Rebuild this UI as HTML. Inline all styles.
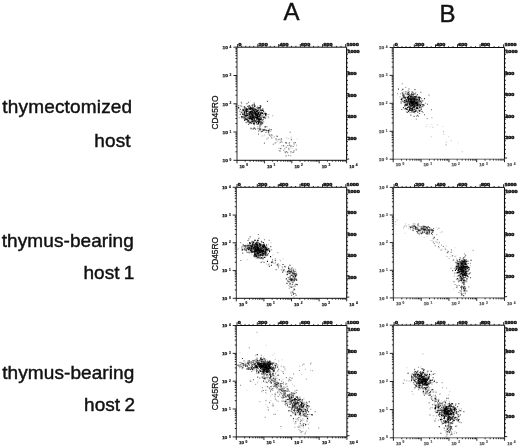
<!DOCTYPE html>
<html><head><meta charset="utf-8"><title>Figure</title>
<style>
html,body{margin:0;padding:0;background:#fff;}
body{width:520px;height:447px;position:relative;overflow:hidden;font-family:"Liberation Sans",sans-serif;color:#111;}
.lbl{position:absolute;white-space:nowrap;font-size:19px;line-height:19px;-webkit-text-stroke:0.45px #111;filter:blur(0.35px);}
.hd{position:absolute;white-space:nowrap;font-size:24px;line-height:24px;-webkit-text-stroke:0.4px #111;filter:blur(0.35px);}
svg text{font-family:"Liberation Sans",sans-serif;fill:#111;}
.tk{font-size:3.8px;font-weight:bold;fill:#222;stroke:#222;stroke-width:0.45px;}
.tb{fill:#555 !important;stroke:#555 !important;}
.lg{font-size:4px;stroke-width:0.25px;}
.sup{font-size:3.2px;stroke-width:0.2px;}
.yl{font-size:8.4px;stroke:#111;stroke-width:0.25px;}
</style></head><body>
<svg width="520" height="447" viewBox="0 0 520 447" style="position:absolute;left:0;top:0">
<defs><filter id="bl" x="-5%" y="-5%" width="110%" height="110%"><feGaussianBlur stdDeviation="0.55"/></filter></defs>
<g filter="url(#bl)">
<g id="A1">
<g>
<path d="M237 47.2H346.6" fill="none" stroke="#111" stroke-width="1"/>
<path d="M346.6 47.2V160.3" fill="none" stroke="#111" stroke-width="1.1"/>
<path d="M237 160.3H346.6" fill="none" stroke="#111" stroke-width="1"/>
<path d="M237 46.7V160.8" fill="none" stroke="#333" stroke-width="1.0"/>
<path d="M237.7 47.2v-3.2M241.7 47.2v-1.3M245.7 47.2v-1.3M249.7 47.2v-1.3M253.7 47.2v-1.3M257.8 47.2v-3.2M261.9 47.2v-1.3M266.1 47.2v-1.3M270.2 47.2v-1.3M274.4 47.2v-1.3M278.7 47.2v-3.2M282.9 47.2v-1.3M287.2 47.2v-1.3M291.5 47.2v-1.3M295.9 47.2v-1.3M300.3 47.2v-3.2M304.7 47.2v-1.3M309.1 47.2v-1.3M313.6 47.2v-1.3M318.1 47.2v-1.3M322.6 47.2v-3.2M327.2 47.2v-1.3M331.8 47.2v-1.3M336.4 47.2v-1.3M341.0 47.2v-1.3M345.7 47.2v-3.2M346.6 49.8h2.6M346.6 54.2h1.4M346.6 58.5h1.4M346.6 62.9h1.4M346.6 67.3h1.4M346.6 71.7h2.6M346.6 76.0h1.4M346.6 80.4h1.4M346.6 84.8h1.4M346.6 89.1h1.4M346.6 93.5h2.6M346.6 97.9h1.4M346.6 102.3h1.4M346.6 106.6h1.4M346.6 111.0h1.4M346.6 115.4h2.6M346.6 119.8h1.4M346.6 124.1h1.4M346.6 128.5h1.4M346.6 132.9h1.4M346.6 137.2h2.6M346.6 141.6h1.4M346.6 146.0h1.4M346.6 150.4h1.4M346.6 154.7h1.4M346.6 159.1h2.6M237 160.3h-3.6M237 151.8h-1.5M237 146.8h-1.5M237 143.3h-1.5M237 140.5h-1.5M237 138.3h-1.5M237 136.4h-1.5M237 134.8h-1.5M237 133.3h-1.5M237 132.0h-3.6M237 123.5h-1.5M237 118.5h-1.5M237 115.0h-1.5M237 112.3h-1.5M237 110.0h-1.5M237 108.1h-1.5M237 106.5h-1.5M237 105.0h-1.5M237 103.8h-3.6M237 95.2h-1.5M237 90.3h-1.5M237 86.7h-1.5M237 84.0h-1.5M237 81.7h-1.5M237 79.9h-1.5M237 78.2h-1.5M237 76.8h-1.5M237 75.5h-3.6M237 67.0h-1.5M237 62.0h-1.5M237 58.5h-1.5M237 55.7h-1.5M237 53.5h-1.5M237 51.6h-1.5M237 49.9h-1.5M237 48.5h-1.5M237 47.2h-3.6M237.0 160.3v3M245.2 160.3v1.4M250.1 160.3v1.4M253.5 160.3v1.4M256.2 160.3v1.4M258.3 160.3v1.4M260.2 160.3v1.4M261.7 160.3v1.4M263.1 160.3v1.4M264.4 160.3v3M272.6 160.3v1.4M277.5 160.3v1.4M280.9 160.3v1.4M283.6 160.3v1.4M285.7 160.3v1.4M287.6 160.3v1.4M289.1 160.3v1.4M290.5 160.3v1.4M291.8 160.3v3M300.0 160.3v1.4M304.9 160.3v1.4M308.3 160.3v1.4M311.0 160.3v1.4M313.1 160.3v1.4M315.0 160.3v1.4M316.5 160.3v1.4M317.9 160.3v1.4M319.2 160.3v3M327.4 160.3v1.4M332.3 160.3v1.4M335.7 160.3v1.4M338.4 160.3v1.4M340.5 160.3v1.4M342.4 160.3v1.4M343.9 160.3v1.4M345.3 160.3v1.4M346.6 160.3v3" fill="none" stroke="#111" stroke-width="0.9"/>
<text x="238.5" y="46.0" class="tk" textLength="3.0" lengthAdjust="spacingAndGlyphs">0</text><text x="258.6" y="46.0" class="tk" textLength="9.1" lengthAdjust="spacingAndGlyphs">200</text><text x="279.5" y="46.0" class="tk" textLength="9.1" lengthAdjust="spacingAndGlyphs">400</text><text x="301.1" y="46.0" class="tk" textLength="9.1" lengthAdjust="spacingAndGlyphs">600</text><text x="323.4" y="46.0" class="tk" textLength="9.1" lengthAdjust="spacingAndGlyphs">800</text><text x="346.5" y="46.0" class="tk" textLength="12.2" lengthAdjust="spacingAndGlyphs">1000</text><text x="347.4" y="52.8" class="tk" textLength="12.2" lengthAdjust="spacingAndGlyphs">1000</text><text x="347.4" y="74.7" class="tk" textLength="9.1" lengthAdjust="spacingAndGlyphs">800</text><text x="347.4" y="96.5" class="tk" textLength="9.1" lengthAdjust="spacingAndGlyphs">600</text><text x="347.4" y="118.4" class="tk" textLength="9.1" lengthAdjust="spacingAndGlyphs">400</text><text x="347.4" y="140.2" class="tk" textLength="9.1" lengthAdjust="spacingAndGlyphs">200</text><text x="222.6" y="162.2" class="tk lg" textLength="5.4" lengthAdjust="spacingAndGlyphs">10</text><text x="229.6" y="160.9" class="tk sup">0</text><text x="222.6" y="133.9" class="tk lg" textLength="5.4" lengthAdjust="spacingAndGlyphs">10</text><text x="229.6" y="132.6" class="tk sup">1</text><text x="222.6" y="105.7" class="tk lg" textLength="5.4" lengthAdjust="spacingAndGlyphs">10</text><text x="229.6" y="104.3" class="tk sup">2</text><text x="222.6" y="77.4" class="tk lg" textLength="5.4" lengthAdjust="spacingAndGlyphs">10</text><text x="229.6" y="76.1" class="tk sup">3</text><text x="222.6" y="49.1" class="tk lg" textLength="5.4" lengthAdjust="spacingAndGlyphs">10</text><text x="229.6" y="47.8" class="tk sup">4</text><text x="239.6" y="167.5" class="tk lg" textLength="5.0" lengthAdjust="spacingAndGlyphs">10</text><text x="246.2" y="165.9" class="tk sup">0</text><text x="267.0" y="167.5" class="tk lg" textLength="5.0" lengthAdjust="spacingAndGlyphs">10</text><text x="273.6" y="165.9" class="tk sup">1</text><text x="294.4" y="167.5" class="tk lg" textLength="5.0" lengthAdjust="spacingAndGlyphs">10</text><text x="301.0" y="165.9" class="tk sup">2</text><text x="321.8" y="167.5" class="tk lg" textLength="5.0" lengthAdjust="spacingAndGlyphs">10</text><text x="328.4" y="165.9" class="tk sup">3</text><text x="349.2" y="167.5" class="tk lg" textLength="5.0" lengthAdjust="spacingAndGlyphs">10</text><text x="355.8" y="165.9" class="tk sup">4</text>
<text transform="translate(217.9 112.6) rotate(-90)" text-anchor="middle" class="yl">CD45RO</text>
</g>
<path d="M279.0 139.1h1.1M264.0 134.8h1.1M260.9 131.0h1.1M280.7 140.8h1.1M282.0 142.1h1.1M260.0 127.1h1.1M277.1 141.5h1.1M265.2 126.8h1.1M263.6 135.2h1.1M295.9 150.4h1.1M279.0 142.9h1.1M286.3 137.9h1.1M287.8 155.3h1.1M290.0 148.0h1.1M291.4 148.7h1.1M290.9 137.0h1.1M290.5 138.3h1.1M287.9 138.5h1.1M286.2 147.5h1.1M296.8 139.0h1.1M281.2 139.6h1.1M279.4 150.8h1.1" stroke="#000" stroke-opacity="0.19" stroke-width="1.1" fill="none"/>
<path d="M263.0 130.5h1.1M268.5 129.7h1.1M265.3 130.0h1.1M265.5 130.6h1.1M261.8 129.3h1.1M250.6 129.5h1.1M261.7 129.7h1.1M253.0 129.4h1.1M257.9 128.7h1.1M264.0 130.3h1.1M255.1 128.8h1.1M267.7 131.0h1.1" stroke="#000" stroke-opacity="0.25" stroke-width="1.1" fill="none"/>
<path d="M276.3 135.7h1.1M263.5 130.6h1.1M265.5 126.6h1.1M276.7 136.4h1.1M275.4 142.8h1.1M270.2 136.4h1.1M262.2 129.7h1.1M270.2 131.2h1.1M273.6 136.9h1.1M282.9 145.9h1.1M280.5 148.2h1.1M280.8 141.2h1.1M275.1 139.1h1.1M278.7 150.7h1.1M267.7 132.3h1.1M268.9 135.0h1.1M290.2 155.6h1.1M268.3 133.9h1.1M281.2 145.7h1.1M270.8 134.7h1.1M279.5 139.8h1.1M266.3 139.1h1.1M258.5 123.9h1.1M258.4 130.0h1.1M290.2 152.7h1.1M285.8 143.5h1.1M275.7 138.9h1.1M261.6 136.0h1.1M288.2 155.5h1.1M259.9 130.2h1.1M275.8 139.9h1.1M267.5 137.9h1.1M296.0 145.3h1.1M266.5 126.7h1.1M293.5 144.9h1.1M290.9 146.0h1.1M291.8 152.5h1.1M278.5 148.3h1.1M283.0 150.4h1.1M289.1 142.5h1.1" stroke="#000" stroke-opacity="0.34" stroke-width="1.1" fill="none"/>
<path d="M256.0 112.8h1.1M241.7 112.2h1.1M249.2 122.4h1.1M255.1 122.2h1.1M264.2 112.1h1.1M243.7 112.1h1.1M245.4 120.7h1.1M257.0 110.6h1.1M241.4 106.8h1.1M268.1 117.6h1.1M252.7 117.2h1.1M251.4 111.2h1.1M262.8 109.1h1.1M263.2 129.9h1.1M251.9 117.3h1.1M256.0 115.9h1.1M261.9 123.2h1.1M257.8 113.1h1.1M248.9 121.0h1.1M252.9 116.5h1.1M268.2 114.5h1.1M250.2 117.6h1.1M247.6 113.9h1.1M243.8 117.5h1.1M249.5 109.3h1.1M254.3 117.0h1.1M250.3 113.0h1.1M255.3 109.3h1.1M257.0 106.2h1.1M245.2 116.1h1.1M253.4 121.0h1.1M257.5 114.5h1.1M252.8 109.9h1.1M255.7 114.7h1.1M255.2 116.2h1.1M251.5 111.7h1.1M243.2 118.8h1.1M243.0 115.2h1.1M258.3 115.7h1.1M260.6 116.7h1.1M248.7 118.0h1.1M257.1 112.4h1.1M252.7 123.5h1.1M261.3 116.7h1.1M241.1 103.6h1.1M248.0 116.0h1.1M259.5 121.9h1.1M251.3 105.7h1.1M254.5 112.1h1.1M253.5 119.7h1.1M253.0 113.8h1.1M253.9 115.7h1.1M251.0 121.6h1.1M249.8 114.0h1.1M255.2 108.8h1.1M249.4 111.6h1.1M250.2 116.7h1.1M241.6 111.7h1.1M253.7 122.9h1.1M249.9 113.0h1.1M250.5 114.3h1.1M259.3 109.1h1.1M241.6 112.5h1.1M258.3 108.0h1.1M246.0 113.4h1.1M259.1 120.9h1.1M253.1 110.5h1.1M247.0 111.7h1.1M265.4 117.0h1.1M264.4 114.1h1.1M249.3 116.7h1.1M252.2 120.2h1.1M255.0 113.1h1.1M262.5 116.6h1.1M245.1 111.5h1.1M243.4 117.9h1.1M262.2 108.5h1.1M272.2 115.8h1.1M249.3 109.9h1.1M255.3 116.6h1.1M257.5 115.0h1.1M254.8 114.5h1.1M251.6 113.7h1.1M243.8 113.4h1.1M265.1 113.1h1.1M244.0 113.8h1.1M249.0 113.3h1.1M245.9 110.2h1.1M266.4 114.7h1.1M238.2 108.5h1.1M253.8 106.0h1.1M250.1 122.4h1.1M248.1 113.8h1.1M249.6 113.4h1.1M238.7 117.5h1.1M257.2 126.7h1.1M254.1 113.2h1.1M261.0 110.1h1.1M259.4 115.9h1.1M252.1 122.2h1.1M252.5 110.5h1.1M252.9 112.9h1.1M258.5 112.3h1.1M247.8 110.3h1.1M243.2 112.6h1.1M248.9 122.3h1.1M244.2 119.2h1.1M248.0 110.7h1.1M258.5 116.7h1.1M267.7 116.7h1.1M250.9 120.1h1.1M256.2 110.7h1.1M249.3 121.0h1.1M251.3 105.4h1.1M247.1 119.4h1.1M258.7 116.8h1.1M245.5 107.7h1.1M246.8 117.6h1.1M250.5 116.3h1.1M251.2 120.3h1.1M247.7 105.8h1.1M258.8 115.7h1.1M262.4 115.9h1.1M263.2 122.0h1.1M262.0 112.7h1.1M252.5 112.6h1.1M252.0 117.1h1.1M260.5 122.6h1.1M251.2 116.1h1.1M262.8 121.8h1.1M249.6 122.4h1.1M262.4 121.1h1.1M252.2 116.0h1.1M256.9 117.4h1.1M252.8 121.5h1.1M250.7 112.9h1.1M251.7 121.0h1.1M241.6 111.1h1.1M245.5 111.9h1.1M243.9 106.9h1.1M248.3 112.9h1.1M243.6 118.2h1.1M256.6 124.4h1.1M260.2 121.7h1.1M247.7 115.2h1.1M254.2 115.5h1.1M247.1 111.6h1.1M259.1 118.1h1.1M243.8 115.5h1.1M259.2 117.5h1.1M248.2 123.3h1.1M250.2 114.3h1.1M256.1 111.2h1.1M241.0 112.4h1.1M254.3 122.3h1.1M262.3 115.3h1.1M253.0 113.4h1.1M250.8 109.1h1.1M248.9 123.1h1.1M257.8 118.2h1.1M252.0 112.6h1.1M246.1 108.5h1.1M252.6 113.0h1.1M262.4 112.8h1.1M257.2 117.6h1.1M249.8 108.6h1.1M243.4 117.4h1.1M248.5 121.7h1.1M253.9 115.9h1.1M253.2 110.0h1.1M251.8 115.0h1.1M248.5 116.5h1.1M258.1 117.9h1.1M253.4 114.7h1.1M255.4 111.3h1.1M251.1 111.5h1.1M252.2 108.2h1.1M257.0 112.8h1.1M256.4 119.3h1.1M249.0 114.9h1.1M256.6 114.3h1.1M254.4 112.7h1.1M252.9 114.1h1.1M257.3 116.6h1.1M253.5 115.0h1.1M249.5 112.5h1.1M250.1 106.2h1.1M251.6 113.4h1.1M250.4 114.6h1.1M255.0 118.0h1.1M249.4 113.6h1.1M255.1 113.5h1.1M250.8 114.8h1.1M253.7 111.9h1.1M248.2 116.5h1.1M253.5 118.3h1.1M249.6 117.1h1.1M257.7 117.0h1.1M254.4 115.9h1.1M249.5 118.0h1.1M262.0 117.4h1.1M247.2 113.6h1.1M259.0 109.3h1.1M247.2 113.6h1.1M255.6 115.1h1.1M253.3 115.9h1.1M254.9 116.6h1.1M253.0 110.4h1.1M257.8 118.9h1.1M261.0 119.3h1.1M250.5 110.5h1.1M256.2 113.3h1.1M252.2 109.2h1.1M247.6 114.9h1.1" stroke="#000" stroke-opacity="0.36" stroke-width="1.1" fill="none"/>
<path d="M252.8 128.6h1.1M268.3 130.5h1.1M253.3 128.2h1.1M255.0 129.4h1.1M267.5 130.4h1.1M263.1 129.5h1.1M252.2 129.0h1.1M263.8 129.4h1.1M259.3 129.9h1.1M258.9 127.7h1.1M269.0 129.0h1.1M264.8 129.8h1.1" stroke="#000" stroke-opacity="0.44" stroke-width="1.1" fill="none"/>
<path d="M289.0 145.1h1.1M258.0 131.3h1.1M280.8 138.9h1.1M286.1 151.6h1.1M280.3 142.4h1.1M257.2 128.8h1.1M290.4 151.5h1.1M253.7 127.9h1.1M285.6 147.0h1.1M274.5 143.0h1.1M266.1 130.8h1.1M271.4 135.1h1.1M286.1 142.7h1.1M276.6 136.5h1.1M284.6 151.7h1.1M258.0 134.1h1.1M262.4 130.6h1.1M259.5 128.9h1.1M263.9 143.1h1.1M288.2 148.3h1.1M284.3 148.7h1.1M272.8 144.2h1.1M267.5 130.7h1.1M261.9 131.5h1.1M271.2 137.9h1.1M268.0 131.0h1.1M287.1 152.7h1.1M279.6 151.0h1.1M293.0 152.3h1.1M280.1 148.6h1.1M269.3 135.3h1.1M265.4 132.5h1.1M277.8 139.8h1.1M263.5 129.9h1.1M290.2 146.1h1.1M284.8 152.7h1.1M290.8 139.6h1.1M294.8 142.6h1.1M285.5 155.9h1.1M293.5 150.9h1.1M292.6 146.5h1.1M293.4 142.9h1.1M289.6 132.3h1.1M288.4 149.8h1.1M285.0 142.6h1.1M288.6 143.3h1.1M295.6 149.3h1.1M287.3 145.5h1.1M283.1 145.7h1.1" stroke="#000" stroke-opacity="0.53" stroke-width="1.1" fill="none"/>
<path d="M253.5 120.4h1.1M253.3 121.0h1.1M260.0 109.3h1.1M252.2 104.9h1.1M256.6 118.1h1.1M251.7 110.2h1.1M254.3 105.8h1.1M253.0 123.4h1.1M238.2 105.7h1.1M250.6 112.8h1.1M248.4 107.4h1.1M260.4 125.0h1.1M242.4 109.3h1.1M256.8 111.4h1.1M239.7 114.4h1.1M248.9 122.0h1.1M262.9 114.0h1.1M265.0 118.3h1.1M252.1 116.2h1.1M248.3 107.5h1.1M255.8 122.6h1.1M252.4 105.0h1.1M261.2 115.3h1.1M247.4 117.3h1.1M246.4 103.6h1.1M245.5 115.3h1.1M254.0 114.1h1.1M255.5 120.1h1.1M241.6 116.3h1.1M257.6 113.9h1.1M259.0 122.1h1.1M251.0 123.4h1.1M255.8 121.1h1.1M255.9 113.5h1.1M262.7 119.5h1.1M251.4 114.8h1.1M254.2 120.2h1.1M259.7 119.4h1.1M250.9 118.5h1.1M246.2 116.8h1.1M240.4 105.9h1.1M255.8 123.0h1.1M247.9 106.7h1.1M252.0 109.4h1.1M260.5 113.7h1.1M261.3 119.6h1.1M259.8 115.3h1.1M247.2 113.9h1.1M243.4 114.3h1.1M256.4 124.0h1.1M247.9 102.2h1.1M252.4 108.1h1.1M259.6 118.0h1.1M250.1 108.6h1.1M258.1 110.3h1.1M255.1 111.7h1.1M248.4 108.8h1.1M260.4 121.4h1.1M239.8 109.4h1.1M266.9 101.4h1.1M240.7 112.7h1.1M254.3 111.6h1.1M260.0 113.8h1.1M243.8 117.9h1.1M255.3 116.7h1.1M257.2 121.7h1.1M256.4 120.8h1.1M249.5 117.3h1.1M249.4 112.8h1.1M252.5 105.0h1.1M249.9 111.8h1.1M240.8 102.3h1.1M261.7 120.5h1.1M258.2 121.4h1.1M261.8 112.9h1.1M252.6 119.0h1.1M251.8 106.0h1.1M253.7 103.1h1.1M257.4 108.6h1.1M258.7 116.7h1.1M253.2 111.9h1.1M239.3 111.3h1.1M251.8 114.8h1.1M261.8 122.6h1.1M252.3 112.2h1.1M249.0 114.8h1.1M255.3 117.6h1.1M257.2 116.9h1.1M255.4 113.3h1.1M246.3 114.4h1.1M249.4 113.3h1.1M256.1 120.7h1.1M248.1 124.5h1.1M257.4 112.8h1.1M259.9 117.5h1.1M249.0 116.7h1.1M242.8 116.9h1.1M245.4 119.1h1.1M254.4 112.1h1.1M251.4 116.3h1.1M259.7 124.4h1.1M253.6 108.6h1.1M262.1 123.1h1.1M257.8 109.0h1.1M258.9 119.9h1.1M250.8 117.5h1.1M251.0 114.3h1.1M243.6 106.9h1.1M248.6 118.3h1.1M256.5 111.6h1.1M255.6 115.6h1.1M250.5 115.6h1.1M258.5 111.0h1.1M252.6 120.5h1.1M254.1 117.1h1.1M259.3 111.9h1.1M251.8 114.4h1.1M249.1 115.9h1.1M251.4 117.9h1.1M245.7 114.7h1.1M258.2 109.0h1.1M252.0 109.4h1.1M257.1 110.8h1.1M258.7 114.1h1.1M256.2 110.9h1.1M250.9 116.6h1.1M244.7 117.2h1.1M261.7 109.2h1.1M248.3 114.9h1.1M244.4 117.3h1.1M244.4 108.9h1.1M253.6 124.6h1.1M253.6 123.4h1.1M256.5 107.6h1.1M245.1 110.5h1.1M251.2 114.5h1.1M251.9 111.4h1.1M255.5 114.6h1.1M255.8 111.8h1.1M247.8 108.7h1.1M247.1 113.5h1.1M251.4 110.1h1.1M244.0 116.9h1.1M254.6 105.7h1.1M247.4 122.0h1.1M244.9 110.9h1.1M254.5 120.8h1.1M248.5 119.8h1.1M262.5 110.5h1.1M250.6 123.3h1.1M257.2 113.7h1.1M251.2 113.9h1.1M247.0 106.5h1.1M260.9 112.1h1.1M244.2 108.5h1.1M259.6 108.7h1.1M247.7 117.0h1.1M256.0 115.0h1.1M256.1 118.3h1.1M249.5 119.2h1.1M245.5 108.7h1.1M246.5 118.7h1.1M252.7 112.0h1.1M251.5 112.7h1.1M251.5 113.4h1.1M253.8 116.3h1.1M246.4 111.2h1.1M257.4 117.7h1.1M252.7 115.0h1.1M249.8 116.6h1.1M252.3 113.5h1.1M248.4 117.7h1.1M249.1 113.0h1.1M255.4 114.3h1.1M249.1 113.7h1.1M251.9 115.8h1.1M250.5 115.2h1.1M245.3 113.0h1.1M260.6 117.4h1.1M252.5 109.3h1.1M251.8 116.8h1.1M253.6 116.4h1.1M252.8 116.0h1.1M245.6 122.6h1.1M252.1 116.3h1.1M249.7 117.7h1.1M254.6 121.5h1.1M251.2 117.5h1.1M260.0 121.3h1.1M252.0 111.0h1.1M251.9 119.5h1.1M252.8 115.9h1.1M250.7 114.9h1.1" stroke="#000" stroke-opacity="0.64" stroke-width="1.1" fill="none"/>
<path d="M260.2 129.1h1.1M270.6 129.6h1.1M268.4 130.4h1.1M259.0 129.0h1.1M268.1 132.3h1.1M265.5 130.4h1.1M254.1 128.3h1.1M260.8 131.6h1.1M268.3 131.0h1.1" stroke="#000" stroke-opacity="0.69" stroke-width="1.1" fill="none"/>
<path d="M264.5 113.6h1.1M250.2 118.5h1.1M257.3 117.1h1.1M243.2 114.3h1.1M250.7 107.8h1.1M260.2 110.5h1.1M258.8 118.7h1.1M242.0 114.1h1.1M255.1 109.9h1.1M256.6 116.4h1.1M250.9 118.8h1.1M252.6 115.2h1.1M250.8 108.6h1.1M245.4 116.7h1.1M251.3 108.7h1.1M252.0 119.7h1.1M259.2 119.9h1.1M247.2 120.9h1.1M249.4 111.5h1.1M256.9 115.0h1.1M256.5 111.8h1.1M264.6 126.9h1.1M260.3 106.3h1.1M254.5 109.0h1.1M250.5 122.1h1.1M249.0 112.8h1.1M258.5 119.1h1.1M241.2 116.6h1.1M253.9 111.1h1.1M244.5 115.6h1.1M248.6 113.0h1.1M245.9 113.0h1.1M249.9 108.9h1.1M241.5 117.7h1.1M256.0 122.3h1.1M265.6 113.9h1.1M244.6 109.9h1.1M257.7 107.8h1.1M251.6 114.9h1.1M257.5 119.0h1.1M244.4 107.3h1.1M250.9 114.0h1.1M252.2 112.2h1.1M251.9 121.2h1.1M258.0 123.7h1.1M259.7 105.9h1.1M252.4 107.9h1.1M244.1 114.3h1.1M252.2 116.2h1.1M259.7 112.8h1.1M255.8 109.7h1.1M262.9 111.3h1.1M250.0 111.8h1.1M257.5 124.0h1.1M249.5 122.9h1.1M238.1 107.6h1.1M255.5 115.5h1.1M249.2 114.6h1.1M248.3 113.0h1.1M247.3 111.5h1.1M258.4 120.1h1.1M248.8 118.3h1.1M252.6 109.8h1.1M252.4 107.3h1.1M264.3 117.0h1.1M253.8 123.3h1.1M254.8 112.6h1.1M253.8 104.9h1.1M256.8 117.4h1.1M258.5 122.2h1.1M256.5 111.6h1.1M260.4 118.8h1.1M256.2 119.1h1.1M242.6 110.4h1.1M248.7 108.7h1.1M250.5 128.3h1.1M259.9 114.1h1.1M262.0 113.5h1.1M255.2 114.4h1.1M248.4 118.5h1.1M245.9 111.8h1.1M253.2 113.3h1.1M250.8 113.7h1.1M259.3 126.0h1.1M252.6 121.9h1.1M256.8 114.0h1.1M257.1 110.4h1.1M255.4 117.6h1.1M246.8 119.3h1.1M257.8 119.6h1.1M244.4 110.2h1.1M260.4 113.6h1.1M253.9 119.1h1.1M251.7 111.8h1.1M249.2 118.4h1.1M254.6 121.3h1.1M245.5 119.7h1.1M249.5 109.4h1.1M252.4 115.1h1.1M254.3 120.8h1.1M249.7 108.4h1.1M251.1 111.2h1.1M252.7 117.6h1.1M249.8 107.2h1.1M258.6 121.8h1.1M261.2 124.0h1.1M265.1 114.5h1.1M256.6 114.8h1.1M253.1 110.4h1.1M242.6 109.6h1.1M257.4 115.8h1.1M254.5 113.3h1.1M257.1 118.2h1.1M265.1 113.6h1.1M244.1 112.9h1.1M246.2 108.8h1.1M244.1 111.8h1.1M262.0 110.4h1.1M257.5 118.1h1.1M259.7 107.6h1.1M254.0 111.1h1.1M256.4 117.4h1.1M252.5 116.5h1.1M250.8 119.6h1.1M257.2 121.4h1.1M245.9 109.4h1.1M247.3 109.2h1.1M248.8 105.9h1.1M260.8 118.9h1.1M253.3 123.8h1.1M255.4 113.1h1.1M260.0 119.4h1.1M244.9 118.7h1.1M258.4 120.6h1.1M246.8 115.5h1.1M259.1 115.0h1.1M245.3 115.4h1.1M246.8 110.0h1.1M260.6 122.3h1.1M263.1 117.4h1.1M257.9 122.6h1.1M252.1 119.3h1.1M261.3 112.7h1.1M265.3 115.5h1.1M263.5 117.9h1.1M251.9 121.3h1.1M260.2 123.3h1.1M258.8 107.7h1.1M261.4 110.2h1.1M254.2 106.6h1.1M246.2 119.4h1.1M244.0 120.1h1.1M255.2 115.1h1.1M250.3 117.1h1.1M255.4 114.7h1.1M254.9 113.6h1.1M256.6 118.3h1.1M252.3 112.3h1.1M247.7 120.5h1.1M251.9 117.6h1.1M257.8 114.1h1.1M250.2 112.9h1.1M258.1 113.6h1.1M249.9 112.9h1.1M258.6 116.4h1.1M250.1 116.3h1.1M251.5 108.9h1.1M255.0 114.8h1.1M254.3 109.8h1.1M258.1 112.4h1.1M251.7 114.6h1.1M252.8 117.1h1.1M255.7 111.2h1.1M256.3 119.0h1.1M255.0 117.3h1.1M251.5 118.3h1.1M252.1 115.7h1.1M253.1 118.1h1.1M252.0 116.0h1.1M246.1 115.2h1.1M251.7 121.3h1.1M253.9 118.8h1.1M247.1 115.2h1.1M246.0 110.7h1.1M256.8 117.0h1.1M259.4 115.9h1.1M255.7 115.5h1.1M256.3 115.7h1.1M252.2 112.4h1.1M247.6 121.6h1.1M243.0 110.7h1.1M254.2 112.7h1.1M257.5 113.7h1.1M250.3 112.4h1.1M254.2 117.2h1.1M253.9 113.3h1.1" stroke="#000" stroke-opacity="1" stroke-width="1.1" fill="none"/>
</g>
<g id="B1">
<g>
<path d="M393.2 47.5H504.5" fill="none" stroke="#111" stroke-width="1"/>
<path d="M504.5 47.5V159.2" fill="none" stroke="#111" stroke-width="1.1"/>
<path d="M393.2 159.2H504.5" fill="none" stroke="#444" stroke-width="0.8"/>
<path d="M393.2 47.0V159.7" fill="none" stroke="#555" stroke-width="1.3"/>
<path d="M393.9 47.5v-3.2M397.9 47.5v-1.3M402.0 47.5v-1.3M406.1 47.5v-1.3M410.2 47.5v-1.3M414.3 47.5v-3.2M418.5 47.5v-1.3M422.7 47.5v-1.3M426.9 47.5v-1.3M431.2 47.5v-1.3M435.5 47.5v-3.2M439.8 47.5v-1.3M444.2 47.5v-1.3M448.6 47.5v-1.3M453.0 47.5v-1.3M457.5 47.5v-3.2M461.9 47.5v-1.3M466.4 47.5v-1.3M471.0 47.5v-1.3M475.5 47.5v-1.3M480.1 47.5v-3.2M484.8 47.5v-1.3M489.4 47.5v-1.3M494.1 47.5v-1.3M498.8 47.5v-1.3M503.6 47.5v-3.2M504.5 50.1h2.6M504.5 54.4h1.4M504.5 58.7h1.4M504.5 63.0h1.4M504.5 67.4h1.4M504.5 71.7h2.6M504.5 76.0h1.4M504.5 80.3h1.4M504.5 84.6h1.4M504.5 88.9h1.4M504.5 93.3h2.6M504.5 97.6h1.4M504.5 101.9h1.4M504.5 106.2h1.4M504.5 110.5h1.4M504.5 114.8h2.6M504.5 119.2h1.4M504.5 123.5h1.4M504.5 127.8h1.4M504.5 132.1h1.4M504.5 136.4h2.6M504.5 140.7h1.4M504.5 145.1h1.4M504.5 149.4h1.4M504.5 153.7h1.4M504.5 158.0h2.6M393.2 159.2h-3.6M393.2 150.8h-1.5M393.2 145.9h-1.5M393.2 142.4h-1.5M393.2 139.7h-1.5M393.2 137.5h-1.5M393.2 135.6h-1.5M393.2 134.0h-1.5M393.2 132.6h-1.5M393.2 131.3h-3.6M393.2 122.9h-1.5M393.2 118.0h-1.5M393.2 114.5h-1.5M393.2 111.8h-1.5M393.2 109.5h-1.5M393.2 107.7h-1.5M393.2 106.1h-1.5M393.2 104.6h-1.5M393.2 103.3h-3.6M393.2 94.9h-1.5M393.2 90.0h-1.5M393.2 86.5h-1.5M393.2 83.8h-1.5M393.2 81.6h-1.5M393.2 79.8h-1.5M393.2 78.1h-1.5M393.2 76.7h-1.5M393.2 75.4h-3.6M393.2 67.0h-1.5M393.2 62.1h-1.5M393.2 58.6h-1.5M393.2 55.9h-1.5M393.2 53.7h-1.5M393.2 51.8h-1.5M393.2 50.2h-1.5M393.2 48.8h-1.5M393.2 47.5h-3.6M393.2 159.2v3M401.6 159.2v1.4M406.5 159.2v1.4M410.0 159.2v1.4M412.6 159.2v1.4M414.9 159.2v1.4M416.7 159.2v1.4M418.3 159.2v1.4M419.8 159.2v1.4M421.0 159.2v3M429.4 159.2v1.4M434.3 159.2v1.4M437.8 159.2v1.4M440.5 159.2v1.4M442.7 159.2v1.4M444.5 159.2v1.4M446.2 159.2v1.4M447.6 159.2v1.4M448.9 159.2v3M457.2 159.2v1.4M462.1 159.2v1.4M465.6 159.2v1.4M468.3 159.2v1.4M470.5 159.2v1.4M472.4 159.2v1.4M474.0 159.2v1.4M475.4 159.2v1.4M476.7 159.2v3M485.1 159.2v1.4M490.0 159.2v1.4M493.4 159.2v1.4M496.1 159.2v1.4M498.3 159.2v1.4M500.2 159.2v1.4M501.8 159.2v1.4M503.2 159.2v1.4M504.5 159.2v3" fill="none" stroke="#111" stroke-width="0.9"/>
<text x="394.7" y="46.3" class="tk" textLength="3.0" lengthAdjust="spacingAndGlyphs">0</text><text x="415.1" y="46.3" class="tk" textLength="9.1" lengthAdjust="spacingAndGlyphs">200</text><text x="436.3" y="46.3" class="tk" textLength="9.1" lengthAdjust="spacingAndGlyphs">400</text><text x="458.3" y="46.3" class="tk" textLength="9.1" lengthAdjust="spacingAndGlyphs">600</text><text x="480.9" y="46.3" class="tk" textLength="9.1" lengthAdjust="spacingAndGlyphs">800</text><text x="504.4" y="46.3" class="tk" textLength="12.2" lengthAdjust="spacingAndGlyphs">1000</text><text x="505.3" y="53.1" class="tk" textLength="12.2" lengthAdjust="spacingAndGlyphs">1000</text><text x="505.3" y="74.7" class="tk" textLength="9.1" lengthAdjust="spacingAndGlyphs">800</text><text x="505.3" y="96.3" class="tk" textLength="9.1" lengthAdjust="spacingAndGlyphs">600</text><text x="505.3" y="117.8" class="tk" textLength="9.1" lengthAdjust="spacingAndGlyphs">400</text><text x="505.3" y="139.4" class="tk" textLength="9.1" lengthAdjust="spacingAndGlyphs">200</text><text x="378.8" y="161.1" class="tk tb lg" textLength="5.4" lengthAdjust="spacingAndGlyphs">10</text><text x="385.8" y="159.8" class="tk tb sup">0</text><text x="378.8" y="133.2" class="tk tb lg" textLength="5.4" lengthAdjust="spacingAndGlyphs">10</text><text x="385.8" y="131.9" class="tk tb sup">1</text><text x="378.8" y="105.2" class="tk tb lg" textLength="5.4" lengthAdjust="spacingAndGlyphs">10</text><text x="385.8" y="103.9" class="tk tb sup">2</text><text x="378.8" y="77.3" class="tk tb lg" textLength="5.4" lengthAdjust="spacingAndGlyphs">10</text><text x="385.8" y="76.0" class="tk tb sup">3</text><text x="378.8" y="49.4" class="tk tb lg" textLength="5.4" lengthAdjust="spacingAndGlyphs">10</text><text x="385.8" y="48.1" class="tk tb sup">4</text><text x="395.8" y="166.4" class="tk tb lg" textLength="5.0" lengthAdjust="spacingAndGlyphs">10</text><text x="402.4" y="164.8" class="tk tb sup">0</text><text x="423.6" y="166.4" class="tk tb lg" textLength="5.0" lengthAdjust="spacingAndGlyphs">10</text><text x="430.2" y="164.8" class="tk tb sup">1</text><text x="451.5" y="166.4" class="tk tb lg" textLength="5.0" lengthAdjust="spacingAndGlyphs">10</text><text x="458.1" y="164.8" class="tk tb sup">2</text><text x="479.3" y="166.4" class="tk tb lg" textLength="5.0" lengthAdjust="spacingAndGlyphs">10</text><text x="485.9" y="164.8" class="tk tb sup">3</text><text x="507.1" y="166.4" class="tk tb lg" textLength="5.0" lengthAdjust="spacingAndGlyphs">10</text><text x="513.7" y="164.8" class="tk tb sup">4</text>
</g>
<path d="M431.2 124.5h1.1M442.5 131.3h1.1M448.2 136.6h1.1M457.4 142.7h1.1M442.6 126.5h1.1M429.4 126.7h1.1M425.7 126.6h1.1M426.4 124.7h1.1" stroke="#000" stroke-opacity="0.14" stroke-width="1.1" fill="none"/>
<path d="M443.0 131.7h1.1M443.3 134.2h1.1M430.7 136.7h1.1M450.6 140.8h1.1M445.7 142.1h1.1M432.2 127.3h1.1M436.8 124.8h1.1M461.8 151.8h1.1" stroke="#000" stroke-opacity="0.24" stroke-width="1.1" fill="none"/>
<path d="M415.3 98.6h1.1M423.3 104.4h1.1M405.3 91.4h1.1M410.0 99.6h1.1M412.8 112.1h1.1M419.7 102.9h1.1M406.7 95.1h1.1M408.8 102.2h1.1M416.3 102.2h1.1M410.5 109.6h1.1M413.2 96.2h1.1M414.7 103.1h1.1M407.3 98.6h1.1M417.6 110.9h1.1M415.3 109.8h1.1M418.5 109.2h1.1M405.7 94.7h1.1M421.3 106.0h1.1M421.0 102.4h1.1M407.3 112.5h1.1M418.4 105.1h1.1M411.7 108.7h1.1M416.2 104.5h1.1M413.3 116.4h1.1" stroke="#000" stroke-opacity="0.25" stroke-width="1.1" fill="none"/>
<path d="M413.6 109.9h1.1M411.0 107.7h1.1M415.5 105.3h1.1M409.6 106.2h1.1M408.0 93.2h1.1M403.6 99.9h1.1M405.2 98.7h1.1M407.0 101.9h1.1M414.4 113.1h1.1M410.7 105.3h1.1M408.9 107.7h1.1M419.2 104.5h1.1M407.8 99.5h1.1M400.1 93.9h1.1M411.8 99.8h1.1M417.8 104.5h1.1M410.3 104.6h1.1M412.5 96.6h1.1M421.7 111.3h1.1M413.0 110.5h1.1M409.2 112.7h1.1M410.3 102.6h1.1M405.0 101.3h1.1M407.0 98.7h1.1M417.3 106.3h1.1M405.2 87.4h1.1M415.9 102.9h1.1M414.8 106.5h1.1M411.7 110.2h1.1M409.5 106.3h1.1M414.0 102.6h1.1M414.7 108.5h1.1M410.2 96.0h1.1M410.9 96.7h1.1M414.4 93.9h1.1M420.9 107.6h1.1M410.7 109.7h1.1M405.7 92.2h1.1M411.6 105.6h1.1M414.7 106.2h1.1M403.8 101.0h1.1M418.2 104.6h1.1M406.6 93.6h1.1M407.1 93.5h1.1M411.2 106.1h1.1M422.4 106.7h1.1M413.4 106.9h1.1M404.4 102.5h1.1M415.5 103.3h1.1M399.5 96.7h1.1M415.0 96.9h1.1M407.7 104.7h1.1M413.3 104.1h1.1M403.5 97.0h1.1M417.5 104.8h1.1M405.7 111.7h1.1M413.8 109.4h1.1M416.8 111.3h1.1M402.8 101.5h1.1M411.9 102.3h1.1M412.8 98.4h1.1M406.8 108.9h1.1M408.0 98.6h1.1M412.4 98.1h1.1M410.4 98.4h1.1M409.1 104.1h1.1M413.8 101.8h1.1M416.3 97.0h1.1M412.1 106.4h1.1M420.7 103.7h1.1M411.6 103.8h1.1M406.1 99.7h1.1M404.1 106.1h1.1M414.4 105.6h1.1M422.9 106.7h1.1M409.3 103.6h1.1M405.2 99.1h1.1M403.7 96.2h1.1M412.2 102.1h1.1M412.4 108.8h1.1M407.6 90.5h1.1M414.2 100.2h1.1M418.2 105.9h1.1M410.5 95.3h1.1M404.8 100.9h1.1M401.4 97.8h1.1M414.5 94.9h1.1M417.1 108.1h1.1M403.7 101.8h1.1M411.3 105.4h1.1M402.8 102.6h1.1M419.7 105.7h1.1M408.9 104.5h1.1M420.6 102.8h1.1M411.8 108.3h1.1M411.7 97.4h1.1M418.8 98.4h1.1M410.2 108.6h1.1M419.0 104.8h1.1M421.9 106.2h1.1M414.4 103.1h1.1M404.5 96.9h1.1M409.3 96.2h1.1M418.0 108.8h1.1M409.9 97.2h1.1M410.1 110.2h1.1M407.1 103.3h1.1M418.2 110.4h1.1M408.3 97.4h1.1M408.8 96.5h1.1M410.3 105.6h1.1M414.4 96.9h1.1M416.1 102.4h1.1M414.2 108.0h1.1M417.9 97.4h1.1M407.4 97.5h1.1M416.1 105.2h1.1M409.7 101.7h1.1M407.9 92.6h1.1M404.7 102.8h1.1M420.3 107.1h1.1M416.9 103.0h1.1M409.0 108.2h1.1M405.7 104.2h1.1M421.5 101.0h1.1" stroke="#000" stroke-opacity="0.35" stroke-width="1.1" fill="none"/>
<path d="M416.8 105.1h1.1M407.5 98.6h1.1M409.4 105.6h1.1M407.4 101.4h1.1M409.8 102.4h1.1M412.0 98.5h1.1M403.2 94.6h1.1M415.3 101.2h1.1M412.8 109.8h1.1M410.4 103.7h1.1M414.3 98.3h1.1M408.2 102.2h1.1M411.8 101.0h1.1M411.7 98.3h1.1M415.2 92.5h1.1M405.1 91.8h1.1M411.1 100.4h1.1M411.2 102.7h1.1M411.7 103.6h1.1M410.0 95.6h1.1M408.2 100.3h1.1M411.3 105.0h1.1M415.1 100.9h1.1M411.2 100.8h1.1M417.2 99.9h1.1M409.9 104.4h1.1M414.1 101.1h1.1M417.2 99.8h1.1M416.9 105.4h1.1M411.2 100.2h1.1M414.4 102.0h1.1M406.4 94.2h1.1M411.5 97.7h1.1" stroke="#000" stroke-opacity="0.36" stroke-width="1.1" fill="none"/>
<path d="M445.5 144.9h1.1M426.7 118.6h1.1M431.3 117.8h1.1" stroke="#000" stroke-opacity="0.38" stroke-width="1.1" fill="none"/>
<path d="M410.3 101.2h1.1M408.5 103.6h1.1M401.8 83.8h1.1M425.0 103.3h1.1M416.5 106.1h1.1M402.0 99.3h1.1M413.1 93.6h1.1M413.7 109.2h1.1M415.4 102.4h1.1M408.5 103.0h1.1M422.5 112.5h1.1M411.2 106.5h1.1M410.8 98.2h1.1M413.1 102.0h1.1M428.4 95.1h1.1M410.8 99.8h1.1M403.3 92.0h1.1M415.8 119.2h1.1M431.0 109.6h1.1M411.5 103.6h1.1M397.0 93.7h1.1M405.6 105.6h1.1M416.0 116.1h1.1M415.9 102.6h1.1M401.3 90.2h1.1M404.1 101.8h1.1M417.8 98.1h1.1M410.9 98.7h1.1M416.1 95.7h1.1M417.3 101.4h1.1M413.8 116.4h1.1M414.7 96.8h1.1" stroke="#000" stroke-opacity="0.44" stroke-width="1.1" fill="none"/>
<path d="M408.2 107.1h1.1M400.5 99.3h1.1M410.3 115.1h1.1M417.0 104.2h1.1M412.4 112.3h1.1M407.1 98.8h1.1M413.1 97.9h1.1M419.1 101.3h1.1M409.2 109.6h1.1M410.6 102.4h1.1M411.8 97.3h1.1M413.9 105.9h1.1M413.7 99.3h1.1M420.5 104.5h1.1M415.5 99.5h1.1M416.0 98.9h1.1M409.3 98.5h1.1M407.0 103.7h1.1M422.2 100.9h1.1M415.8 101.0h1.1M406.7 100.0h1.1M405.5 97.4h1.1M405.5 99.8h1.1M402.2 101.1h1.1M413.4 107.1h1.1M409.4 105.9h1.1M402.3 95.9h1.1M413.0 105.4h1.1M401.2 109.5h1.1M412.4 92.4h1.1M416.4 101.8h1.1M409.3 99.4h1.1M400.6 103.1h1.1M409.6 99.3h1.1M405.5 99.9h1.1M420.9 98.8h1.1M424.0 114.7h1.1M417.5 97.6h1.1M410.9 103.0h1.1M410.6 112.2h1.1M411.5 91.8h1.1M412.2 102.9h1.1M408.4 99.8h1.1M415.1 97.7h1.1M418.1 104.3h1.1M403.7 95.2h1.1M413.6 96.7h1.1M413.7 103.7h1.1M410.0 98.6h1.1M408.7 93.9h1.1M406.9 101.9h1.1M414.1 101.3h1.1M410.6 99.0h1.1M421.4 106.2h1.1M422.1 104.6h1.1M415.9 102.5h1.1M427.0 104.2h1.1M420.3 92.2h1.1M409.0 101.9h1.1M404.1 105.0h1.1M414.6 105.9h1.1M411.6 98.9h1.1M413.0 106.0h1.1M408.5 100.5h1.1M411.5 105.8h1.1M418.7 105.3h1.1M402.5 98.1h1.1M414.8 111.5h1.1M401.8 92.9h1.1M409.7 99.7h1.1M417.2 103.1h1.1M421.4 111.5h1.1M410.8 99.7h1.1M410.5 104.0h1.1M408.6 105.9h1.1M412.3 104.0h1.1M417.8 116.2h1.1M417.3 112.4h1.1M419.1 113.5h1.1M404.5 97.9h1.1M408.7 91.7h1.1M412.2 97.8h1.1M419.5 105.4h1.1M406.1 100.7h1.1M409.0 107.7h1.1M407.2 101.6h1.1M404.7 98.0h1.1M414.5 93.8h1.1M414.2 99.6h1.1M406.6 103.8h1.1M418.1 101.8h1.1M411.0 93.3h1.1M409.0 107.3h1.1M418.8 106.6h1.1M419.9 107.1h1.1M406.0 101.5h1.1M406.2 108.9h1.1M418.7 98.0h1.1M418.7 100.0h1.1M414.2 98.4h1.1M420.7 102.8h1.1M405.4 101.6h1.1M409.5 97.7h1.1M414.3 107.7h1.1M409.5 98.3h1.1M405.3 100.1h1.1M410.9 110.2h1.1M410.8 104.7h1.1M411.3 102.5h1.1M409.8 106.9h1.1M418.2 99.9h1.1M414.3 104.8h1.1M403.3 97.2h1.1M410.6 103.1h1.1M404.4 106.0h1.1M406.6 101.0h1.1M403.0 96.4h1.1M418.5 96.8h1.1M411.1 93.7h1.1M407.2 93.9h1.1M414.8 96.9h1.1M411.4 100.0h1.1M417.7 100.5h1.1M420.5 109.8h1.1M410.6 96.6h1.1" stroke="#000" stroke-opacity="0.62" stroke-width="1.1" fill="none"/>
<path d="M413.3 102.3h1.1M409.9 101.4h1.1M412.4 95.8h1.1M407.4 102.9h1.1M418.5 102.2h1.1M414.8 104.4h1.1M410.5 99.5h1.1M409.4 107.1h1.1M417.8 103.3h1.1M415.8 108.2h1.1M416.8 105.0h1.1M410.7 100.7h1.1M408.8 101.3h1.1M413.8 101.7h1.1M410.5 104.6h1.1M412.7 103.2h1.1M406.5 103.7h1.1M405.6 105.4h1.1M417.4 108.0h1.1M412.8 104.7h1.1M414.9 98.3h1.1M409.9 101.6h1.1M411.1 94.9h1.1M414.2 104.3h1.1M412.0 96.8h1.1M414.4 99.0h1.1M415.4 106.4h1.1M415.8 103.3h1.1M413.7 99.1h1.1M415.2 103.0h1.1M412.5 98.8h1.1M412.4 97.9h1.1M408.0 101.6h1.1" stroke="#000" stroke-opacity="0.64" stroke-width="1.1" fill="none"/>
<path d="M417.0 115.2h1.1M404.4 98.3h1.1M409.6 96.5h1.1M406.2 101.8h1.1M411.8 102.6h1.1M406.9 97.1h1.1M408.9 98.5h1.1M413.2 101.6h1.1M414.4 89.6h1.1M408.2 94.7h1.1M408.4 89.0h1.1M400.5 101.8h1.1M405.2 97.9h1.1M416.8 94.6h1.1M418.7 100.9h1.1M404.8 93.8h1.1M412.6 107.8h1.1M415.8 105.5h1.1M420.3 101.0h1.1M410.6 94.6h1.1M401.2 98.5h1.1M415.0 102.6h1.1M404.3 97.9h1.1M397.9 89.1h1.1" stroke="#000" stroke-opacity="0.69" stroke-width="1.1" fill="none"/>
<path d="M411.4 103.2h1.1M402.9 107.8h1.1M408.0 99.2h1.1M407.0 97.6h1.1M408.8 103.5h1.1M404.5 109.0h1.1M422.5 104.7h1.1M412.5 107.3h1.1M407.7 94.5h1.1M414.8 103.3h1.1M418.9 107.8h1.1M410.7 96.2h1.1M410.3 100.7h1.1M411.5 111.1h1.1M418.8 99.0h1.1M417.4 105.8h1.1M411.3 103.1h1.1M405.2 104.9h1.1M407.8 107.0h1.1M410.7 101.3h1.1M419.9 105.5h1.1M416.7 102.2h1.1M412.4 104.1h1.1M419.1 111.1h1.1M416.8 107.9h1.1M413.7 106.7h1.1M423.9 98.8h1.1M410.2 108.1h1.1M412.1 108.2h1.1M409.9 96.7h1.1M418.8 99.7h1.1M408.9 109.4h1.1M406.9 107.5h1.1M412.5 102.4h1.1M406.5 105.3h1.1M410.3 110.5h1.1M418.6 97.3h1.1M414.7 101.3h1.1M412.9 101.5h1.1M409.2 109.6h1.1M408.2 97.8h1.1M405.9 100.0h1.1M402.3 89.2h1.1M414.2 109.8h1.1M406.9 104.9h1.1M416.9 102.1h1.1M406.7 112.2h1.1M413.8 101.6h1.1M413.8 99.2h1.1M403.5 97.1h1.1M408.6 110.5h1.1M423.4 105.2h1.1M408.8 99.0h1.1M413.3 100.6h1.1M409.0 95.3h1.1M407.1 109.7h1.1M412.0 103.1h1.1M416.2 107.5h1.1M409.5 98.7h1.1M414.5 96.6h1.1M417.0 104.4h1.1M416.5 104.9h1.1M417.0 108.3h1.1M416.0 108.3h1.1M416.4 103.3h1.1M415.4 110.5h1.1M413.9 111.9h1.1M405.6 104.3h1.1M415.4 110.3h1.1M407.9 100.2h1.1M413.5 102.0h1.1M404.3 102.6h1.1M419.2 104.0h1.1M410.8 108.7h1.1M402.3 93.8h1.1M413.8 98.9h1.1M410.1 106.0h1.1M410.4 101.9h1.1M407.6 92.4h1.1M400.9 99.6h1.1M413.3 111.8h1.1M416.9 99.3h1.1M413.4 100.3h1.1M413.2 98.5h1.1M408.1 111.4h1.1M414.1 105.0h1.1M419.6 97.7h1.1M407.9 96.4h1.1M409.4 108.5h1.1M408.4 101.0h1.1M411.7 109.1h1.1M419.2 110.8h1.1M413.7 106.1h1.1M420.2 101.3h1.1M416.2 100.3h1.1M413.1 104.0h1.1M413.6 107.1h1.1M412.8 94.7h1.1M416.7 105.6h1.1M411.9 110.0h1.1M414.3 99.9h1.1M410.9 105.8h1.1M412.6 99.3h1.1M402.6 95.1h1.1M411.2 101.0h1.1M415.8 102.9h1.1M415.6 103.6h1.1M412.1 109.6h1.1M405.9 109.1h1.1M405.5 104.5h1.1M415.2 111.4h1.1M405.1 104.3h1.1M416.6 108.8h1.1M419.5 97.5h1.1M416.1 96.9h1.1M411.3 101.4h1.1M405.1 108.3h1.1M420.7 109.0h1.1M413.7 97.0h1.1M413.2 106.9h1.1M412.0 101.8h1.1M412.1 94.3h1.1M419.3 110.6h1.1" stroke="#000" stroke-opacity="0.98" stroke-width="1.1" fill="none"/>
<path d="M407.9 98.2h1.1M411.4 100.6h1.1M410.0 99.9h1.1M409.9 102.8h1.1M412.7 102.9h1.1M414.1 103.1h1.1M406.0 101.8h1.1M410.5 97.7h1.1M409.0 104.5h1.1M410.3 99.0h1.1M413.3 104.8h1.1M404.2 100.6h1.1M415.7 104.0h1.1M411.8 101.5h1.1M410.8 102.0h1.1M415.8 103.0h1.1M410.3 101.8h1.1M410.4 103.2h1.1M409.4 102.6h1.1M411.1 103.1h1.1M411.5 99.5h1.1M416.3 103.2h1.1M412.1 104.0h1.1M411.9 105.4h1.1M413.6 100.7h1.1M415.5 99.6h1.1" stroke="#000" stroke-opacity="1" stroke-width="1.1" fill="none"/>
</g>
<g id="A2">
<g>
<path d="M236.3 187.3H346.7" fill="none" stroke="#111" stroke-width="1"/>
<path d="M346.7 187.3V298.3" fill="none" stroke="#111" stroke-width="1.1"/>
<path d="M236.3 298.3H346.7" fill="none" stroke="#111" stroke-width="1"/>
<path d="M236.3 186.8V298.8" fill="none" stroke="#333" stroke-width="1.0"/>
<path d="M237.0 187.3v-3.2M241.0 187.3v-1.3M245.0 187.3v-1.3M249.1 187.3v-1.3M253.1 187.3v-1.3M257.3 187.3v-3.2M261.4 187.3v-1.3M265.6 187.3v-1.3M269.8 187.3v-1.3M274.0 187.3v-1.3M278.3 187.3v-3.2M282.6 187.3v-1.3M286.9 187.3v-1.3M291.2 187.3v-1.3M295.6 187.3v-1.3M300.0 187.3v-3.2M304.5 187.3v-1.3M308.9 187.3v-1.3M313.4 187.3v-1.3M318.0 187.3v-1.3M322.5 187.3v-3.2M327.1 187.3v-1.3M331.8 187.3v-1.3M336.4 187.3v-1.3M341.1 187.3v-1.3M345.8 187.3v-3.2M346.7 189.9h2.6M346.7 194.2h1.4M346.7 198.5h1.4M346.7 202.8h1.4M346.7 207.1h1.4M346.7 211.3h2.6M346.7 215.6h1.4M346.7 219.9h1.4M346.7 224.2h1.4M346.7 228.5h1.4M346.7 232.8h2.6M346.7 237.1h1.4M346.7 241.4h1.4M346.7 245.6h1.4M346.7 249.9h1.4M346.7 254.2h2.6M346.7 258.5h1.4M346.7 262.8h1.4M346.7 267.1h1.4M346.7 271.4h1.4M346.7 275.7h2.6M346.7 279.9h1.4M346.7 284.2h1.4M346.7 288.5h1.4M346.7 292.8h1.4M346.7 297.1h2.6M236.3 298.3h-3.6M236.3 289.9h-1.5M236.3 285.1h-1.5M236.3 281.6h-1.5M236.3 278.9h-1.5M236.3 276.7h-1.5M236.3 274.8h-1.5M236.3 273.2h-1.5M236.3 271.8h-1.5M236.3 270.6h-3.6M236.3 262.2h-1.5M236.3 257.3h-1.5M236.3 253.8h-1.5M236.3 251.2h-1.5M236.3 249.0h-1.5M236.3 247.1h-1.5M236.3 245.5h-1.5M236.3 244.1h-1.5M236.3 242.8h-3.6M236.3 234.4h-1.5M236.3 229.6h-1.5M236.3 226.1h-1.5M236.3 223.4h-1.5M236.3 221.2h-1.5M236.3 219.3h-1.5M236.3 217.7h-1.5M236.3 216.3h-1.5M236.3 215.1h-3.6M236.3 206.7h-1.5M236.3 201.8h-1.5M236.3 198.3h-1.5M236.3 195.7h-1.5M236.3 193.5h-1.5M236.3 191.6h-1.5M236.3 190.0h-1.5M236.3 188.6h-1.5M236.3 187.3h-3.6M236.3 298.3v3M244.6 298.3v1.4M249.5 298.3v1.4M252.9 298.3v1.4M255.6 298.3v1.4M257.8 298.3v1.4M259.6 298.3v1.4M261.2 298.3v1.4M262.6 298.3v1.4M263.9 298.3v3M272.2 298.3v1.4M277.1 298.3v1.4M280.5 298.3v1.4M283.2 298.3v1.4M285.4 298.3v1.4M287.2 298.3v1.4M288.8 298.3v1.4M290.2 298.3v1.4M291.5 298.3v3M299.8 298.3v1.4M304.7 298.3v1.4M308.1 298.3v1.4M310.8 298.3v1.4M313.0 298.3v1.4M314.8 298.3v1.4M316.4 298.3v1.4M317.8 298.3v1.4M319.1 298.3v3M327.4 298.3v1.4M332.3 298.3v1.4M335.7 298.3v1.4M338.4 298.3v1.4M340.6 298.3v1.4M342.4 298.3v1.4M344.0 298.3v1.4M345.4 298.3v1.4M346.7 298.3v3" fill="none" stroke="#111" stroke-width="0.9"/>
<text x="237.8" y="186.1" class="tk" textLength="3.0" lengthAdjust="spacingAndGlyphs">0</text><text x="258.1" y="186.1" class="tk" textLength="9.1" lengthAdjust="spacingAndGlyphs">200</text><text x="279.1" y="186.1" class="tk" textLength="9.1" lengthAdjust="spacingAndGlyphs">400</text><text x="300.8" y="186.1" class="tk" textLength="9.1" lengthAdjust="spacingAndGlyphs">600</text><text x="323.3" y="186.1" class="tk" textLength="9.1" lengthAdjust="spacingAndGlyphs">800</text><text x="346.6" y="186.1" class="tk" textLength="12.2" lengthAdjust="spacingAndGlyphs">1000</text><text x="347.5" y="192.9" class="tk" textLength="12.2" lengthAdjust="spacingAndGlyphs">1000</text><text x="347.5" y="214.3" class="tk" textLength="9.1" lengthAdjust="spacingAndGlyphs">800</text><text x="347.5" y="235.8" class="tk" textLength="9.1" lengthAdjust="spacingAndGlyphs">600</text><text x="347.5" y="257.2" class="tk" textLength="9.1" lengthAdjust="spacingAndGlyphs">400</text><text x="347.5" y="278.7" class="tk" textLength="9.1" lengthAdjust="spacingAndGlyphs">200</text><text x="221.9" y="300.2" class="tk lg" textLength="5.4" lengthAdjust="spacingAndGlyphs">10</text><text x="228.9" y="298.9" class="tk sup">0</text><text x="221.9" y="272.4" class="tk lg" textLength="5.4" lengthAdjust="spacingAndGlyphs">10</text><text x="228.9" y="271.2" class="tk sup">1</text><text x="221.9" y="244.7" class="tk lg" textLength="5.4" lengthAdjust="spacingAndGlyphs">10</text><text x="228.9" y="243.4" class="tk sup">2</text><text x="221.9" y="217.0" class="tk lg" textLength="5.4" lengthAdjust="spacingAndGlyphs">10</text><text x="228.9" y="215.7" class="tk sup">3</text><text x="221.9" y="189.2" class="tk lg" textLength="5.4" lengthAdjust="spacingAndGlyphs">10</text><text x="228.9" y="187.9" class="tk sup">4</text><text x="238.9" y="305.5" class="tk lg" textLength="5.0" lengthAdjust="spacingAndGlyphs">10</text><text x="245.5" y="303.9" class="tk sup">0</text><text x="266.5" y="305.5" class="tk lg" textLength="5.0" lengthAdjust="spacingAndGlyphs">10</text><text x="273.1" y="303.9" class="tk sup">1</text><text x="294.1" y="305.5" class="tk lg" textLength="5.0" lengthAdjust="spacingAndGlyphs">10</text><text x="300.7" y="303.9" class="tk sup">2</text><text x="321.7" y="305.5" class="tk lg" textLength="5.0" lengthAdjust="spacingAndGlyphs">10</text><text x="328.3" y="303.9" class="tk sup">3</text><text x="349.3" y="305.5" class="tk lg" textLength="5.0" lengthAdjust="spacingAndGlyphs">10</text><text x="355.9" y="303.9" class="tk sup">4</text>
<text transform="translate(217.9 253.9) rotate(-90)" text-anchor="middle" class="yl">CD45RO</text>
</g>
<path d="M260.5 255.1h1.1M264.0 253.5h1.1M255.0 253.6h1.1M255.9 243.8h1.1M270.6 242.6h1.1M265.9 263.9h1.1M267.9 244.4h1.1M261.9 261.5h1.1M279.1 259.8h1.1M254.5 247.0h1.1M266.7 251.9h1.1M261.7 255.2h1.1M257.2 241.9h1.1M249.2 244.6h1.1M254.4 245.8h1.1M254.1 250.1h1.1M261.3 251.2h1.1M272.4 254.9h1.1M265.8 249.2h1.1M253.5 244.1h1.1M267.5 265.6h1.1M270.8 262.1h1.1M246.9 259.7h1.1M244.1 249.3h1.1M255.3 254.8h1.1M251.6 251.1h1.1M282.6 258.8h1.1" stroke="#000" stroke-opacity="0.19" stroke-width="1.1" fill="none"/>
<path d="M241.0 248.9h1.1M243.9 248.2h1.1M246.0 249.2h1.1M252.4 247.5h1.1M238.1 248.3h1.1M248.8 250.9h1.1M240.9 247.6h1.1M244.7 248.8h1.1M242.6 246.0h1.1M242.9 246.6h1.1M249.4 249.0h1.1M242.4 247.0h1.1M248.8 247.4h1.1M243.8 248.5h1.1M243.8 246.6h1.1M250.5 252.0h1.1M243.9 246.0h1.1M255.2 245.9h1.1M253.3 248.4h1.1M255.8 246.4h1.1M241.8 246.9h1.1M241.6 249.9h1.1M254.6 248.0h1.1" stroke="#000" stroke-opacity="0.23" stroke-width="1.1" fill="none"/>
<path d="M280.0 260.6h1.1M280.7 269.6h1.1M281.5 270.5h1.1M281.6 269.9h1.1M269.4 264.0h1.1M284.8 271.8h1.1M284.2 269.8h1.1M285.0 266.8h1.1M279.2 265.3h1.1M272.7 263.1h1.1M282.2 268.1h1.1M274.3 263.6h1.1M288.0 279.7h1.1M293.7 289.2h1.1M292.5 282.8h1.1M288.3 285.5h1.1M295.2 294.9h1.1M289.0 284.5h1.1M293.9 285.0h1.1M291.4 284.7h1.1M289.6 286.5h1.1M293.5 288.2h1.1" stroke="#000" stroke-opacity="0.25" stroke-width="1.1" fill="none"/>
<path d="M293.3 280.9h1.1M289.8 277.3h1.1M291.7 278.6h1.1M288.8 277.7h1.1M292.9 286.5h1.1M293.8 273.9h1.1M292.1 275.2h1.1M286.7 280.2h1.1M293.8 278.7h1.1M288.5 277.8h1.1M291.5 278.3h1.1M295.0 269.2h1.1M293.1 269.1h1.1M293.5 278.8h1.1M290.9 274.3h1.1M290.8 279.5h1.1M293.4 273.6h1.1M295.7 272.2h1.1M292.3 277.0h1.1M295.5 274.2h1.1M289.5 272.5h1.1M293.8 278.2h1.1M290.9 280.9h1.1M291.8 275.0h1.1M288.0 271.2h1.1M294.6 274.4h1.1M291.1 272.5h1.1M292.1 272.4h1.1M287.7 272.1h1.1M292.8 278.0h1.1M289.8 281.0h1.1M288.4 278.8h1.1M292.5 275.2h1.1M288.9 281.8h1.1M290.2 269.6h1.1M291.6 282.2h1.1M291.0 280.8h1.1M291.0 270.6h1.1M294.7 279.2h1.1M293.1 273.4h1.1M289.2 281.0h1.1" stroke="#000" stroke-opacity="0.32" stroke-width="1.1" fill="none"/>
<path d="M256.2 258.1h1.1M248.9 243.0h1.1M266.8 250.6h1.1M266.2 246.4h1.1M261.9 245.7h1.1M244.6 250.4h1.1M262.6 252.4h1.1M256.0 255.9h1.1M271.1 249.5h1.1M254.5 257.6h1.1M272.0 259.4h1.1M266.1 247.7h1.1M262.7 258.4h1.1M257.2 258.1h1.1M263.0 250.3h1.1M253.8 249.8h1.1M266.2 254.5h1.1M257.4 256.3h1.1M251.3 254.0h1.1" stroke="#000" stroke-opacity="0.34" stroke-width="1.1" fill="none"/>
<path d="M247.1 244.0h1.1M258.9 246.0h1.1M251.4 248.7h1.1M249.8 248.6h1.1M252.6 251.7h1.1M247.7 245.5h1.1M255.8 252.2h1.1M266.5 249.3h1.1M263.1 250.9h1.1M258.8 244.3h1.1M251.8 249.7h1.1M255.2 243.0h1.1M262.1 248.5h1.1M252.5 241.5h1.1M264.1 246.4h1.1M258.9 257.8h1.1M257.0 249.4h1.1M258.0 255.0h1.1M254.8 246.2h1.1M257.0 244.6h1.1M264.7 253.3h1.1M260.9 252.1h1.1M256.1 241.3h1.1M256.5 251.6h1.1M253.0 252.3h1.1M255.1 243.4h1.1M253.9 254.5h1.1M260.3 246.9h1.1M257.9 247.7h1.1M257.1 246.1h1.1M256.9 243.1h1.1M258.9 247.2h1.1M250.9 252.5h1.1M252.4 246.4h1.1M260.6 252.7h1.1M252.0 244.5h1.1M248.8 247.1h1.1M261.7 255.5h1.1M258.6 252.2h1.1M260.0 245.2h1.1M252.3 249.9h1.1M261.0 252.0h1.1M258.6 248.4h1.1M269.1 249.1h1.1M257.7 253.1h1.1M255.7 254.2h1.1M253.7 241.3h1.1M252.6 251.7h1.1M254.3 250.1h1.1M255.9 250.2h1.1M261.7 252.6h1.1M241.3 246.8h1.1M256.5 250.2h1.1M260.7 251.8h1.1M258.6 247.5h1.1M251.8 250.5h1.1M263.4 245.8h1.1M270.4 250.2h1.1M268.9 252.2h1.1M257.3 255.4h1.1M262.8 254.9h1.1M277.2 252.6h1.1M248.8 245.9h1.1M260.2 258.5h1.1M254.4 254.2h1.1M249.3 243.0h1.1M265.3 251.4h1.1M256.3 251.5h1.1M253.8 246.7h1.1M247.1 246.7h1.1M247.7 248.8h1.1M261.8 255.7h1.1M255.4 246.4h1.1M257.7 251.3h1.1M258.3 248.0h1.1M246.5 247.5h1.1M258.3 248.1h1.1M257.3 255.6h1.1M267.6 254.3h1.1M261.7 250.6h1.1M261.2 252.8h1.1M257.5 243.2h1.1M250.0 242.9h1.1M252.1 251.4h1.1M256.7 256.0h1.1M252.9 242.3h1.1M263.2 253.8h1.1M266.6 254.9h1.1M262.4 249.0h1.1M252.3 243.4h1.1M251.0 242.3h1.1M250.6 246.1h1.1M258.3 255.6h1.1M258.9 243.3h1.1M247.6 247.7h1.1M253.9 254.5h1.1M264.2 250.7h1.1M267.2 249.8h1.1M258.3 252.1h1.1M266.3 250.4h1.1M252.9 242.0h1.1M259.1 245.9h1.1M252.3 247.9h1.1M265.7 253.0h1.1M261.9 246.8h1.1M257.9 250.9h1.1M255.7 249.4h1.1M260.3 249.8h1.1M263.4 245.5h1.1M256.0 244.5h1.1M253.5 255.5h1.1M263.0 245.2h1.1M260.4 246.2h1.1M263.2 257.3h1.1M251.2 241.4h1.1M263.1 244.1h1.1M257.5 248.4h1.1M249.1 245.6h1.1M267.1 255.5h1.1M258.4 247.9h1.1M255.3 252.0h1.1M262.2 250.9h1.1M257.7 249.1h1.1M260.1 251.2h1.1M258.6 246.1h1.1M267.1 247.2h1.1M256.9 253.8h1.1M256.6 247.8h1.1M263.5 253.5h1.1M261.8 251.4h1.1M264.5 248.9h1.1M252.0 246.4h1.1M258.6 248.8h1.1M256.3 251.1h1.1M258.7 248.6h1.1M258.1 249.1h1.1M256.5 251.6h1.1M250.4 249.0h1.1M259.1 250.3h1.1M258.4 250.9h1.1M261.3 247.9h1.1M255.5 247.1h1.1M260.2 249.1h1.1M260.4 249.7h1.1M256.3 251.1h1.1M256.4 251.9h1.1M260.5 252.0h1.1M257.4 251.9h1.1M257.0 251.8h1.1M260.8 249.1h1.1M261.5 250.1h1.1M259.9 252.1h1.1M260.5 250.9h1.1M258.9 245.1h1.1M264.0 250.8h1.1M263.8 251.0h1.1M252.0 247.1h1.1M258.8 251.7h1.1M252.5 250.3h1.1M251.2 248.2h1.1M257.9 249.5h1.1M261.9 252.6h1.1M261.6 250.1h1.1M253.1 247.2h1.1M260.0 247.5h1.1M258.8 251.8h1.1M257.7 250.8h1.1M261.3 250.3h1.1M260.8 249.7h1.1M263.1 254.5h1.1" stroke="#000" stroke-opacity="0.36" stroke-width="1.1" fill="none"/>
<path d="M250.2 244.9h1.1M237.3 249.2h1.1M244.9 245.6h1.1M248.9 247.6h1.1M254.0 248.1h1.1M244.0 246.3h1.1M245.7 250.7h1.1M252.0 241.6h1.1M242.1 249.1h1.1M243.4 249.7h1.1M249.3 247.4h1.1M256.6 251.5h1.1M247.3 247.0h1.1M253.0 249.3h1.1M246.1 245.7h1.1M256.9 248.3h1.1M251.1 246.5h1.1M242.8 244.8h1.1M249.7 245.6h1.1M247.8 248.0h1.1M253.4 247.5h1.1M254.4 246.2h1.1M256.7 247.2h1.1" stroke="#000" stroke-opacity="0.4" stroke-width="1.1" fill="none"/>
<path d="M274.9 262.3h1.1M271.3 262.0h1.1M286.7 272.5h1.1M274.7 258.9h1.1M278.0 267.7h1.1M267.8 264.3h1.1M278.0 264.0h1.1M284.4 267.2h1.1M277.8 266.4h1.1M272.0 261.1h1.1M277.4 265.5h1.1M281.6 266.9h1.1M290.6 279.7h1.1M288.7 288.3h1.1M292.8 290.3h1.1M291.0 295.4h1.1M292.8 292.8h1.1M290.4 293.2h1.1M293.3 297.0h1.1M292.9 293.9h1.1M295.4 284.4h1.1M290.4 292.0h1.1M291.3 287.4h1.1M289.5 286.3h1.1M290.7 279.6h1.1M295.7 295.3h1.1M291.2 280.7h1.1M291.3 286.4h1.1" stroke="#000" stroke-opacity="0.44" stroke-width="1.1" fill="none"/>
<path d="M261.8 249.1h1.1M267.7 253.5h1.1M255.3 250.8h1.1M260.2 245.1h1.1M256.3 245.8h1.1M240.3 260.5h1.1M255.8 251.8h1.1M272.0 262.2h1.1M261.5 251.5h1.1M240.1 242.8h1.1M262.3 246.0h1.1M261.7 254.6h1.1M257.8 234.5h1.1M262.9 250.6h1.1M257.2 241.7h1.1M251.8 243.6h1.1M246.4 246.0h1.1M248.3 238.9h1.1M263.9 239.7h1.1M261.2 248.9h1.1M254.3 252.9h1.1M268.6 240.2h1.1M248.6 252.9h1.1M263.6 244.3h1.1M251.0 247.8h1.1M256.6 244.1h1.1M260.2 250.6h1.1" stroke="#000" stroke-opacity="0.53" stroke-width="1.1" fill="none"/>
<path d="M291.5 267.9h1.1M294.4 271.3h1.1M292.0 275.3h1.1M289.9 284.0h1.1M290.2 272.5h1.1M294.5 286.1h1.1M295.5 284.4h1.1M288.8 270.9h1.1M293.7 273.3h1.1M287.2 281.1h1.1M289.2 276.7h1.1M287.5 271.3h1.1M293.8 277.4h1.1M290.6 271.4h1.1M289.8 276.3h1.1M294.0 275.3h1.1M288.0 270.3h1.1M293.7 272.0h1.1M289.7 277.0h1.1M287.6 277.5h1.1M291.5 272.1h1.1M291.6 274.9h1.1M294.6 276.2h1.1M293.9 279.3h1.1M288.0 267.1h1.1M288.8 269.9h1.1M292.9 270.5h1.1M287.1 274.2h1.1M290.4 279.1h1.1M292.4 282.5h1.1M295.3 278.3h1.1M288.5 268.5h1.1M294.0 278.4h1.1M292.3 273.4h1.1M291.2 279.1h1.1M286.8 271.2h1.1M295.0 271.3h1.1M296.2 273.9h1.1" stroke="#000" stroke-opacity="0.56" stroke-width="1.1" fill="none"/>
<path d="M256.6 248.5h1.1M250.1 248.0h1.1M248.1 248.2h1.1M251.6 244.4h1.1M246.0 249.3h1.1M244.9 247.3h1.1M254.6 249.4h1.1M256.0 245.9h1.1M251.7 251.5h1.1M244.5 249.4h1.1M241.9 249.6h1.1M246.6 252.4h1.1M255.1 250.2h1.1M247.5 249.8h1.1M242.1 253.1h1.1M245.8 250.6h1.1M248.3 252.2h1.1M245.2 246.6h1.1M246.8 248.5h1.1M242.6 245.0h1.1" stroke="#000" stroke-opacity="0.62" stroke-width="1.1" fill="none"/>
<path d="M261.4 251.0h1.1M257.4 254.0h1.1M256.7 244.9h1.1M256.4 248.3h1.1M265.8 255.8h1.1M260.7 254.5h1.1M253.3 252.1h1.1M253.6 246.6h1.1M245.3 245.4h1.1M260.9 241.4h1.1M264.3 251.8h1.1M262.1 250.8h1.1M249.6 250.0h1.1M256.2 255.2h1.1M259.5 258.4h1.1M259.3 252.3h1.1M254.6 247.9h1.1M266.7 250.7h1.1M260.5 250.0h1.1M258.1 251.9h1.1M258.3 238.4h1.1M253.6 247.1h1.1M252.2 242.9h1.1M259.5 257.2h1.1M263.7 244.2h1.1M260.0 251.6h1.1M264.2 247.6h1.1M250.5 247.7h1.1M259.8 248.2h1.1M249.3 243.4h1.1M248.1 249.1h1.1M260.4 247.8h1.1M261.4 248.6h1.1M259.2 252.2h1.1M254.6 250.6h1.1M250.2 252.3h1.1M257.0 243.3h1.1M258.4 249.9h1.1M241.8 250.2h1.1M255.4 250.1h1.1M268.2 249.9h1.1M257.5 248.7h1.1M263.8 254.3h1.1M257.6 247.3h1.1M261.3 242.1h1.1M260.2 249.5h1.1M263.7 251.9h1.1M260.8 253.0h1.1M265.9 253.1h1.1M258.1 248.4h1.1M262.0 246.6h1.1M263.5 262.4h1.1M259.1 251.5h1.1M251.4 247.6h1.1M261.0 251.5h1.1M244.2 249.0h1.1M256.2 247.6h1.1M249.6 236.9h1.1M254.6 248.3h1.1M258.2 245.9h1.1M262.0 254.0h1.1M258.4 255.5h1.1M256.8 246.4h1.1M264.4 255.8h1.1M261.6 249.1h1.1M255.9 250.4h1.1M255.3 246.7h1.1M259.1 250.3h1.1M265.9 250.0h1.1M256.2 249.0h1.1M264.0 247.3h1.1M260.6 262.4h1.1M263.1 248.0h1.1M261.3 254.6h1.1M261.3 257.9h1.1M254.9 240.4h1.1M258.7 250.1h1.1M247.5 240.5h1.1M270.2 246.6h1.1M259.5 255.7h1.1M250.2 248.9h1.1M261.0 257.5h1.1M255.4 254.6h1.1M263.0 253.8h1.1M246.9 245.6h1.1M263.8 253.4h1.1M265.9 253.2h1.1M257.8 242.7h1.1M264.7 247.7h1.1M253.6 255.8h1.1M253.8 254.4h1.1M259.7 253.0h1.1M268.2 250.3h1.1M255.3 244.5h1.1M252.2 244.9h1.1M254.5 246.6h1.1M257.5 242.7h1.1M259.7 250.8h1.1M263.8 257.4h1.1M260.9 249.8h1.1M262.7 255.1h1.1M257.1 257.5h1.1M259.4 251.6h1.1M255.0 243.5h1.1M266.6 254.9h1.1M255.7 256.3h1.1M262.3 247.0h1.1M251.4 247.2h1.1M260.0 254.6h1.1M262.6 253.6h1.1M256.9 251.4h1.1M263.2 245.4h1.1M250.8 250.6h1.1M260.0 251.2h1.1M255.5 255.6h1.1M261.2 250.1h1.1M261.9 246.9h1.1M258.7 253.0h1.1M260.5 251.4h1.1M262.1 255.9h1.1M260.1 249.4h1.1M257.4 249.4h1.1M256.0 251.4h1.1M261.6 251.5h1.1M261.9 250.7h1.1M256.5 249.6h1.1M257.5 249.3h1.1M259.7 251.1h1.1M262.2 253.1h1.1M259.3 251.1h1.1M262.4 258.9h1.1M256.9 250.8h1.1M261.0 248.9h1.1M255.4 252.3h1.1M253.9 244.2h1.1M263.7 252.6h1.1M264.6 250.9h1.1M258.1 251.2h1.1M259.1 251.2h1.1M254.9 246.5h1.1M265.9 250.6h1.1M261.5 247.6h1.1M256.8 252.9h1.1M248.5 244.8h1.1M259.0 250.9h1.1M257.7 247.9h1.1M257.0 250.4h1.1M255.8 249.4h1.1M263.0 246.4h1.1M258.0 252.6h1.1M260.2 250.4h1.1M262.4 253.1h1.1M254.5 252.5h1.1M256.2 249.8h1.1M257.8 254.2h1.1M257.2 249.1h1.1M255.8 249.4h1.1M262.3 247.7h1.1M263.4 249.3h1.1M255.8 244.2h1.1M258.5 251.4h1.1M250.8 250.9h1.1M259.1 251.6h1.1M260.4 246.4h1.1M256.3 251.9h1.1M263.7 248.1h1.1M259.3 248.9h1.1M254.8 247.6h1.1M260.5 247.0h1.1M262.2 251.0h1.1M262.9 247.6h1.1M258.3 248.2h1.1M264.9 252.1h1.1M259.6 247.3h1.1M255.1 248.7h1.1M255.4 247.8h1.1M254.9 248.7h1.1M253.9 245.6h1.1M258.2 251.9h1.1M259.9 250.6h1.1M257.2 248.4h1.1M252.5 251.0h1.1M258.7 243.5h1.1" stroke="#000" stroke-opacity="0.64" stroke-width="1.1" fill="none"/>
<path d="M274.8 260.5h1.1M286.9 271.6h1.1M276.8 264.4h1.1M268.9 266.4h1.1M271.0 262.4h1.1M282.1 272.1h1.1M276.7 264.9h1.1M275.6 269.7h1.1M284.3 266.4h1.1M283.4 269.8h1.1M270.9 265.4h1.1M286.4 274.7h1.1M293.9 280.1h1.1M294.4 293.5h1.1M292.0 284.2h1.1M293.6 289.2h1.1M292.1 292.1h1.1M288.2 281.6h1.1M292.8 294.2h1.1M294.1 289.7h1.1M290.6 287.5h1.1" stroke="#000" stroke-opacity="0.69" stroke-width="1.1" fill="none"/>
<path d="M290.7 275.5h1.1M291.3 279.3h1.1M285.8 278.9h1.1M295.0 276.8h1.1M286.4 283.4h1.1M295.4 279.3h1.1M289.4 265.3h1.1M293.3 271.8h1.1M295.6 275.1h1.1M288.4 271.3h1.1M296.6 284.6h1.1M292.6 276.7h1.1M282.5 264.5h1.1M294.9 275.5h1.1M293.4 280.9h1.1M295.2 275.7h1.1M296.0 275.0h1.1M283.1 270.7h1.1M292.5 270.0h1.1M290.5 271.4h1.1M288.5 273.1h1.1M292.4 279.5h1.1M288.1 268.4h1.1M292.5 273.4h1.1M289.4 279.4h1.1M290.3 278.9h1.1M296.2 280.1h1.1M291.7 280.7h1.1M290.6 269.0h1.1M289.4 283.2h1.1M294.6 273.6h1.1M295.7 280.1h1.1M292.9 276.2h1.1M289.4 271.7h1.1M293.5 274.2h1.1M286.8 274.2h1.1M290.5 280.5h1.1M289.5 273.8h1.1M290.6 278.9h1.1" stroke="#000" stroke-opacity="0.88" stroke-width="1.1" fill="none"/>
<path d="M260.1 245.4h1.1M262.8 247.6h1.1M262.1 246.4h1.1M265.3 252.1h1.1M257.5 240.4h1.1M255.6 243.6h1.1M258.9 244.2h1.1M255.1 246.3h1.1M257.1 240.4h1.1M253.4 245.0h1.1M253.4 248.2h1.1M255.6 251.5h1.1M264.6 252.4h1.1M250.3 245.5h1.1M258.0 248.4h1.1M257.0 252.7h1.1M266.0 245.0h1.1M255.3 243.2h1.1M252.5 249.3h1.1M257.8 253.5h1.1M266.9 249.4h1.1M255.7 249.5h1.1M250.9 248.6h1.1M262.8 242.5h1.1M259.0 243.8h1.1M261.5 251.2h1.1M250.4 246.6h1.1M259.1 252.5h1.1M248.1 249.6h1.1M260.5 255.4h1.1M243.6 245.7h1.1M260.2 248.7h1.1M269.0 251.5h1.1M263.4 246.5h1.1M265.9 249.8h1.1M258.3 250.8h1.1M261.7 253.4h1.1M256.6 250.3h1.1M255.3 251.0h1.1M264.9 255.0h1.1M257.0 253.3h1.1M257.2 245.3h1.1M249.8 243.2h1.1M253.2 247.5h1.1M264.3 246.0h1.1M254.8 246.5h1.1M254.3 254.9h1.1M254.0 253.3h1.1M257.2 252.9h1.1M260.3 249.5h1.1M248.9 248.9h1.1M253.6 256.2h1.1M268.8 250.7h1.1M265.0 252.0h1.1M266.9 261.4h1.1M255.6 246.9h1.1M263.2 246.6h1.1M261.5 245.0h1.1M260.2 244.0h1.1M256.2 242.5h1.1M264.7 251.3h1.1M260.3 250.9h1.1M252.9 242.4h1.1M264.3 257.5h1.1M250.4 249.9h1.1M262.2 255.3h1.1M254.1 240.2h1.1M249.0 242.8h1.1M250.1 250.7h1.1M257.7 250.2h1.1M262.9 253.6h1.1M255.9 251.0h1.1M264.7 246.8h1.1M251.0 246.6h1.1M251.6 245.7h1.1M254.6 256.0h1.1M256.2 255.9h1.1M248.6 247.5h1.1M262.9 246.0h1.1M259.4 256.0h1.1M251.4 248.4h1.1M255.2 254.0h1.1M256.3 244.9h1.1M270.0 256.6h1.1M254.9 251.1h1.1M254.8 248.3h1.1M264.6 253.9h1.1M256.2 256.8h1.1M262.8 250.8h1.1M257.0 249.1h1.1M258.2 253.7h1.1M253.1 248.2h1.1M264.7 247.7h1.1M256.0 244.8h1.1M254.9 254.4h1.1M262.7 244.8h1.1M264.0 245.4h1.1M254.7 244.9h1.1M254.4 251.2h1.1M252.3 244.9h1.1M267.7 248.8h1.1M255.1 256.1h1.1M248.2 245.9h1.1M257.1 253.4h1.1M265.7 247.8h1.1M252.1 246.3h1.1M258.6 249.0h1.1M253.3 251.5h1.1M259.1 246.2h1.1M256.3 253.8h1.1M261.2 257.9h1.1M251.6 252.4h1.1M268.1 248.8h1.1M246.7 248.3h1.1M263.1 251.6h1.1M258.7 254.3h1.1M253.3 242.8h1.1M255.3 248.8h1.1M265.4 249.3h1.1M254.8 249.5h1.1M265.8 248.8h1.1M264.6 248.3h1.1M254.2 251.8h1.1M258.8 252.0h1.1M262.1 252.0h1.1M258.9 251.0h1.1M256.0 250.2h1.1M252.3 244.4h1.1M255.5 249.4h1.1M258.4 250.5h1.1M258.5 250.8h1.1M254.3 250.5h1.1M265.0 249.9h1.1M260.5 252.1h1.1M257.2 246.4h1.1M254.8 254.0h1.1M258.4 250.0h1.1M257.8 256.0h1.1M251.2 251.1h1.1M261.7 251.1h1.1M259.5 252.4h1.1M254.2 249.8h1.1M253.5 247.5h1.1M257.3 250.6h1.1M257.0 249.6h1.1M258.0 249.1h1.1M257.1 253.9h1.1M255.0 249.6h1.1M257.2 250.2h1.1M258.9 250.0h1.1M257.0 247.4h1.1M263.1 249.8h1.1M257.8 257.7h1.1M259.6 244.8h1.1M259.7 245.7h1.1M257.9 247.6h1.1M256.9 252.6h1.1M255.5 251.3h1.1M258.9 251.7h1.1M261.6 250.6h1.1M263.6 249.8h1.1M256.6 247.8h1.1M264.6 253.3h1.1M258.8 250.6h1.1M259.9 254.3h1.1M257.3 244.5h1.1M253.9 247.7h1.1M257.1 248.1h1.1" stroke="#000" stroke-opacity="1" stroke-width="1.1" fill="none"/>
</g>
<g id="B2">
<g>
<path d="M393.4 187.4H504.5" fill="none" stroke="#111" stroke-width="1"/>
<path d="M504.5 187.4V297.9" fill="none" stroke="#111" stroke-width="1.1"/>
<path d="M393.4 297.9H504.5" fill="none" stroke="#444" stroke-width="0.8"/>
<path d="M393.4 186.9V298.4" fill="none" stroke="#555" stroke-width="1.3"/>
<path d="M394.1 187.4v-3.2M398.1 187.4v-1.3M402.2 187.4v-1.3M406.2 187.4v-1.3M410.4 187.4v-1.3M414.5 187.4v-3.2M418.7 187.4v-1.3M422.9 187.4v-1.3M427.1 187.4v-1.3M431.3 187.4v-1.3M435.6 187.4v-3.2M440.0 187.4v-1.3M444.3 187.4v-1.3M448.7 187.4v-1.3M453.1 187.4v-1.3M457.5 187.4v-3.2M462.0 187.4v-1.3M466.5 187.4v-1.3M471.0 187.4v-1.3M475.6 187.4v-1.3M480.2 187.4v-3.2M484.8 187.4v-1.3M489.5 187.4v-1.3M494.1 187.4v-1.3M498.9 187.4v-1.3M503.6 187.4v-3.2M504.5 190.0h2.6M504.5 194.3h1.4M504.5 198.5h1.4M504.5 202.8h1.4M504.5 207.1h1.4M504.5 211.3h2.6M504.5 215.6h1.4M504.5 219.9h1.4M504.5 224.1h1.4M504.5 228.4h1.4M504.5 232.7h2.6M504.5 236.9h1.4M504.5 241.2h1.4M504.5 245.5h1.4M504.5 249.8h1.4M504.5 254.0h2.6M504.5 258.3h1.4M504.5 262.6h1.4M504.5 266.8h1.4M504.5 271.1h1.4M504.5 275.4h2.6M504.5 279.6h1.4M504.5 283.9h1.4M504.5 288.2h1.4M504.5 292.4h1.4M504.5 296.7h2.6M393.4 297.9h-3.6M393.4 289.6h-1.5M393.4 284.7h-1.5M393.4 281.3h-1.5M393.4 278.6h-1.5M393.4 276.4h-1.5M393.4 274.6h-1.5M393.4 273.0h-1.5M393.4 271.5h-1.5M393.4 270.3h-3.6M393.4 262.0h-1.5M393.4 257.1h-1.5M393.4 253.6h-1.5M393.4 251.0h-1.5M393.4 248.8h-1.5M393.4 246.9h-1.5M393.4 245.3h-1.5M393.4 243.9h-1.5M393.4 242.6h-3.6M393.4 234.3h-1.5M393.4 229.5h-1.5M393.4 226.0h-1.5M393.4 223.3h-1.5M393.4 221.2h-1.5M393.4 219.3h-1.5M393.4 217.7h-1.5M393.4 216.3h-1.5M393.4 215.0h-3.6M393.4 206.7h-1.5M393.4 201.8h-1.5M393.4 198.4h-1.5M393.4 195.7h-1.5M393.4 193.5h-1.5M393.4 191.7h-1.5M393.4 190.1h-1.5M393.4 188.7h-1.5M393.4 187.4h-3.6M393.4 297.9v3M401.8 297.9v1.4M406.7 297.9v1.4M410.1 297.9v1.4M412.8 297.9v1.4M415.0 297.9v1.4M416.9 297.9v1.4M418.5 297.9v1.4M419.9 297.9v1.4M421.2 297.9v3M429.5 297.9v1.4M434.4 297.9v1.4M437.9 297.9v1.4M440.6 297.9v1.4M442.8 297.9v1.4M444.6 297.9v1.4M446.3 297.9v1.4M447.7 297.9v1.4M448.9 297.9v3M457.3 297.9v1.4M462.2 297.9v1.4M465.7 297.9v1.4M468.4 297.9v1.4M470.6 297.9v1.4M472.4 297.9v1.4M474.0 297.9v1.4M475.5 297.9v1.4M476.7 297.9v3M485.1 297.9v1.4M490.0 297.9v1.4M493.4 297.9v1.4M496.1 297.9v1.4M498.3 297.9v1.4M500.2 297.9v1.4M501.8 297.9v1.4M503.2 297.9v1.4M504.5 297.9v3" fill="none" stroke="#111" stroke-width="0.9"/>
<text x="394.9" y="186.2" class="tk" textLength="3.0" lengthAdjust="spacingAndGlyphs">0</text><text x="415.3" y="186.2" class="tk" textLength="9.1" lengthAdjust="spacingAndGlyphs">200</text><text x="436.4" y="186.2" class="tk" textLength="9.1" lengthAdjust="spacingAndGlyphs">400</text><text x="458.3" y="186.2" class="tk" textLength="9.1" lengthAdjust="spacingAndGlyphs">600</text><text x="481.0" y="186.2" class="tk" textLength="9.1" lengthAdjust="spacingAndGlyphs">800</text><text x="504.4" y="186.2" class="tk" textLength="12.2" lengthAdjust="spacingAndGlyphs">1000</text><text x="505.3" y="193.0" class="tk" textLength="12.2" lengthAdjust="spacingAndGlyphs">1000</text><text x="505.3" y="214.3" class="tk" textLength="9.1" lengthAdjust="spacingAndGlyphs">800</text><text x="505.3" y="235.7" class="tk" textLength="9.1" lengthAdjust="spacingAndGlyphs">600</text><text x="505.3" y="257.0" class="tk" textLength="9.1" lengthAdjust="spacingAndGlyphs">400</text><text x="505.3" y="278.4" class="tk" textLength="9.1" lengthAdjust="spacingAndGlyphs">200</text><text x="379.0" y="299.8" class="tk tb lg" textLength="5.4" lengthAdjust="spacingAndGlyphs">10</text><text x="386.0" y="298.5" class="tk tb sup">0</text><text x="379.0" y="272.2" class="tk tb lg" textLength="5.4" lengthAdjust="spacingAndGlyphs">10</text><text x="386.0" y="270.9" class="tk tb sup">1</text><text x="379.0" y="244.5" class="tk tb lg" textLength="5.4" lengthAdjust="spacingAndGlyphs">10</text><text x="386.0" y="243.2" class="tk tb sup">2</text><text x="379.0" y="216.9" class="tk tb lg" textLength="5.4" lengthAdjust="spacingAndGlyphs">10</text><text x="386.0" y="215.6" class="tk tb sup">3</text><text x="379.0" y="189.3" class="tk tb lg" textLength="5.4" lengthAdjust="spacingAndGlyphs">10</text><text x="386.0" y="188.0" class="tk tb sup">4</text><text x="396.0" y="305.1" class="tk tb lg" textLength="5.0" lengthAdjust="spacingAndGlyphs">10</text><text x="402.6" y="303.5" class="tk tb sup">0</text><text x="423.8" y="305.1" class="tk tb lg" textLength="5.0" lengthAdjust="spacingAndGlyphs">10</text><text x="430.4" y="303.5" class="tk tb sup">1</text><text x="451.6" y="305.1" class="tk tb lg" textLength="5.0" lengthAdjust="spacingAndGlyphs">10</text><text x="458.1" y="303.5" class="tk tb sup">2</text><text x="479.3" y="305.1" class="tk tb lg" textLength="5.0" lengthAdjust="spacingAndGlyphs">10</text><text x="485.9" y="303.5" class="tk tb sup">3</text><text x="507.1" y="305.1" class="tk tb lg" textLength="5.0" lengthAdjust="spacingAndGlyphs">10</text><text x="513.7" y="303.5" class="tk tb sup">4</text>
</g>
<path d="M408.1 228.6h1.1M414.3 224.2h1.1M413.8 228.3h1.1M423.7 237.4h1.1M395.0 224.5h1.1M419.9 230.0h1.1M426.3 236.5h1.1M423.1 230.7h1.1M413.9 224.3h1.1M420.5 231.5h1.1M404.5 233.2h1.1M420.1 231.0h1.1M439.8 232.8h1.1M415.9 228.8h1.1M436.2 227.7h1.1M437.0 229.4h1.1M405.0 223.9h1.1M414.6 229.6h1.1M412.8 223.7h1.1M419.3 231.4h1.1M405.4 225.9h1.1M426.0 233.8h1.1M462.3 272.5h1.1M459.6 271.1h1.1M461.4 268.9h1.1M454.8 262.1h1.1M463.3 284.7h1.1M460.9 273.8h1.1M459.0 271.5h1.1M464.3 281.7h1.1M459.2 270.0h1.1M465.6 280.0h1.1M454.3 247.7h1.1M453.1 281.8h1.1M456.2 262.2h1.1M458.4 264.8h1.1M459.1 263.3h1.1M464.3 281.3h1.1M453.1 289.1h1.1M466.8 265.9h1.1M464.4 256.1h1.1M465.7 261.5h1.1" stroke="#000" stroke-opacity="0.16" stroke-width="1.1" fill="none"/>
<path d="M437.2 239.3h1.1M436.4 242.1h1.1M431.7 240.8h1.1M449.6 256.5h1.1M438.6 243.9h1.1M435.1 241.6h1.1M451.8 256.3h1.1M450.5 254.8h1.1M450.8 250.0h1.1M444.5 248.1h1.1M440.9 250.4h1.1M442.3 249.0h1.1M445.7 245.9h1.1M455.5 255.7h1.1M433.2 241.4h1.1M456.0 258.7h1.1M430.3 240.5h1.1" stroke="#000" stroke-opacity="0.18" stroke-width="1.1" fill="none"/>
<path d="M462.0 286.8h1.1M463.9 286.6h1.1M462.5 293.5h1.1M463.5 280.8h1.1M462.8 287.9h1.1M461.4 286.7h1.1M462.6 287.7h1.1M464.3 282.6h1.1M462.3 287.3h1.1M461.9 279.2h1.1M456.9 287.7h1.1M461.0 294.9h1.1M461.3 285.6h1.1M463.9 292.0h1.1M465.0 286.7h1.1M464.0 284.4h1.1M461.4 286.6h1.1M463.4 285.2h1.1M461.8 281.4h1.1M464.9 292.1h1.1M460.2 280.3h1.1M465.0 289.8h1.1M460.6 292.1h1.1M463.7 290.3h1.1M462.8 293.4h1.1M462.4 283.2h1.1M464.5 281.6h1.1" stroke="#000" stroke-opacity="0.27" stroke-width="1.1" fill="none"/>
<path d="M422.1 232.0h1.1M418.0 229.1h1.1M414.3 223.8h1.1M424.7 228.6h1.1M412.6 224.0h1.1M428.7 233.5h1.1M441.6 231.9h1.1M418.7 226.3h1.1M421.1 227.8h1.1M416.0 231.7h1.1M426.9 231.9h1.1M424.9 227.9h1.1M415.9 229.6h1.1M429.2 232.2h1.1M420.7 227.8h1.1M424.1 228.0h1.1M427.7 234.2h1.1M423.6 229.9h1.1M414.2 227.1h1.1M423.7 231.0h1.1M416.6 228.1h1.1M426.4 230.3h1.1M427.2 230.9h1.1M413.5 225.9h1.1M423.3 225.7h1.1M417.5 227.0h1.1M405.7 226.0h1.1M418.3 233.4h1.1M425.7 228.1h1.1M417.5 229.4h1.1M423.3 227.2h1.1M430.4 230.7h1.1M416.0 227.5h1.1M420.6 226.8h1.1M428.2 232.6h1.1M430.9 229.1h1.1M424.6 228.4h1.1M413.4 225.6h1.1M416.3 227.7h1.1M417.7 229.7h1.1M428.2 233.8h1.1M423.9 229.9h1.1M419.8 232.8h1.1M469.9 265.7h1.1M456.5 265.7h1.1M460.5 276.6h1.1M459.0 261.3h1.1M453.7 276.1h1.1M459.9 271.5h1.1M463.0 264.9h1.1M462.9 269.8h1.1M461.7 277.3h1.1" stroke="#000" stroke-opacity="0.28" stroke-width="1.1" fill="none"/>
<path d="M412.7 228.1h1.1M419.0 234.4h1.1M412.5 230.6h1.1M403.1 227.9h1.1M396.6 220.0h1.1M395.0 221.7h1.1M429.1 234.2h1.1M426.9 231.9h1.1M422.4 226.4h1.1M410.0 226.9h1.1M436.2 234.6h1.1M408.3 224.7h1.1M403.8 226.1h1.1" stroke="#000" stroke-opacity="0.29" stroke-width="1.1" fill="none"/>
<path d="M447.3 251.1h1.1M436.7 242.8h1.1M438.9 242.4h1.1M438.7 247.8h1.1M452.4 260.2h1.1M451.0 249.9h1.1M440.4 249.9h1.1M440.9 245.1h1.1M459.3 257.7h1.1M447.2 252.7h1.1M446.4 256.5h1.1M448.5 258.5h1.1M432.4 232.3h1.1M454.6 256.5h1.1" stroke="#000" stroke-opacity="0.32" stroke-width="1.1" fill="none"/>
<path d="M463.2 267.4h1.1M462.2 269.3h1.1M464.6 262.1h1.1M467.4 268.1h1.1M464.3 265.8h1.1M464.2 274.6h1.1M459.1 264.4h1.1M460.2 265.8h1.1M458.4 264.4h1.1M463.2 282.6h1.1M462.7 267.9h1.1M463.7 259.9h1.1M458.7 266.9h1.1M460.7 264.5h1.1M456.6 276.5h1.1M466.0 265.9h1.1M461.1 267.6h1.1M459.6 268.4h1.1M469.9 263.4h1.1M461.1 263.1h1.1M461.1 266.0h1.1M462.6 271.7h1.1M457.3 273.0h1.1M461.1 277.5h1.1M459.6 257.9h1.1M467.7 271.3h1.1M464.4 256.6h1.1M469.0 268.1h1.1M465.1 261.7h1.1M462.4 267.7h1.1M463.5 274.3h1.1M472.6 250.4h1.1M459.2 273.7h1.1M459.4 270.7h1.1M455.6 273.1h1.1M461.6 268.2h1.1M466.0 267.7h1.1M459.0 270.3h1.1M466.0 269.0h1.1M462.8 271.1h1.1M463.6 266.5h1.1M461.8 268.0h1.1M459.8 279.0h1.1M464.3 263.6h1.1M463.9 253.9h1.1M461.9 261.5h1.1M464.5 273.1h1.1M463.2 267.1h1.1M464.8 265.2h1.1M466.2 281.7h1.1M457.2 270.5h1.1M458.1 275.3h1.1M463.7 267.3h1.1M464.1 270.2h1.1M462.5 273.6h1.1M464.2 273.2h1.1M453.9 268.2h1.1M460.3 259.3h1.1M459.7 268.4h1.1M462.3 258.7h1.1M463.2 275.6h1.1M466.6 279.3h1.1M461.1 267.8h1.1M466.2 261.0h1.1M465.7 271.0h1.1M457.2 268.3h1.1M464.3 272.8h1.1M458.4 272.1h1.1M463.4 259.2h1.1M465.5 260.1h1.1M466.6 273.6h1.1M458.8 262.0h1.1M464.6 271.8h1.1M458.1 264.9h1.1M466.2 264.0h1.1M467.1 268.0h1.1M460.3 269.7h1.1M467.9 274.2h1.1M462.2 261.7h1.1M460.7 271.9h1.1M459.2 275.8h1.1M460.0 268.6h1.1M464.8 276.0h1.1M464.3 275.5h1.1M456.1 269.4h1.1M458.0 264.2h1.1M461.6 270.6h1.1M462.2 267.9h1.1M464.6 267.9h1.1M462.6 265.6h1.1M466.1 266.8h1.1M461.9 269.6h1.1M461.1 262.3h1.1M464.1 272.0h1.1M461.8 266.2h1.1M463.6 271.0h1.1M462.3 279.3h1.1M461.7 273.4h1.1M461.4 266.6h1.1M459.3 272.3h1.1M462.9 258.9h1.1M463.4 272.4h1.1M463.9 270.7h1.1M461.4 273.2h1.1M462.1 276.4h1.1M461.1 271.1h1.1M460.4 280.3h1.1M462.5 265.8h1.1M464.0 263.0h1.1M465.1 261.2h1.1M463.3 269.6h1.1M462.3 274.7h1.1M461.8 269.9h1.1M463.2 273.1h1.1M464.1 269.6h1.1M462.9 267.3h1.1M462.9 265.3h1.1M463.7 264.9h1.1M461.8 270.7h1.1M460.3 268.2h1.1M461.6 271.0h1.1M461.1 269.3h1.1M462.6 268.6h1.1M464.2 263.9h1.1" stroke="#000" stroke-opacity="0.36" stroke-width="1.1" fill="none"/>
<path d="M456.9 261.5h1.1M454.0 273.1h1.1M461.5 267.5h1.1M450.4 268.3h1.1M463.3 274.0h1.1M462.1 269.2h1.1M456.6 267.6h1.1M466.5 270.0h1.1M453.4 281.6h1.1M459.6 263.5h1.1M457.6 275.6h1.1M459.5 290.6h1.1M455.9 287.5h1.1M466.0 267.2h1.1M454.5 284.5h1.1M468.2 286.9h1.1M457.9 266.5h1.1M462.2 264.9h1.1M455.9 279.1h1.1" stroke="#000" stroke-opacity="0.44" stroke-width="1.1" fill="none"/>
<path d="M421.7 228.3h1.1M432.7 242.2h1.1M412.7 230.4h1.1M433.0 230.4h1.1M419.6 226.7h1.1M421.3 226.6h1.1M409.9 229.0h1.1M410.6 227.1h1.1M409.7 227.0h1.1M408.8 226.7h1.1M422.8 228.0h1.1M412.3 229.9h1.1M426.6 232.7h1.1M422.8 226.7h1.1M419.7 233.3h1.1M433.6 237.1h1.1M417.7 223.5h1.1M438.4 228.2h1.1M412.4 230.5h1.1M422.8 232.8h1.1M426.8 234.5h1.1M417.0 232.7h1.1" stroke="#000" stroke-opacity="0.45" stroke-width="1.1" fill="none"/>
<path d="M462.0 282.6h1.1M458.5 280.0h1.1M460.1 287.4h1.1M466.1 281.0h1.1M462.3 278.3h1.1M461.2 295.2h1.1M463.0 287.6h1.1M460.7 293.3h1.1M460.8 286.4h1.1M461.0 289.7h1.1M464.5 289.3h1.1M461.5 283.0h1.1M463.8 279.9h1.1M458.4 292.5h1.1M460.8 287.2h1.1M463.7 289.2h1.1M463.6 283.2h1.1M464.4 287.9h1.1M464.7 293.6h1.1M463.4 290.4h1.1M460.7 291.2h1.1M458.7 285.5h1.1M461.8 294.8h1.1M461.2 289.5h1.1M463.2 291.0h1.1M463.8 289.4h1.1" stroke="#000" stroke-opacity="0.48" stroke-width="1.1" fill="none"/>
<path d="M428.4 233.2h1.1M425.7 227.3h1.1M410.1 227.5h1.1M411.8 225.7h1.1M421.6 233.1h1.1M417.6 233.8h1.1M428.7 227.5h1.1M423.2 228.4h1.1M411.6 226.6h1.1M422.1 231.4h1.1M423.5 227.6h1.1M420.5 230.3h1.1M418.1 230.8h1.1M428.8 231.3h1.1M424.1 229.2h1.1M425.6 231.2h1.1M425.1 229.4h1.1M421.1 229.5h1.1M428.0 230.6h1.1M416.3 231.5h1.1M433.0 228.5h1.1M414.4 226.7h1.1M424.5 230.0h1.1M424.7 226.9h1.1M423.8 226.8h1.1M413.4 228.5h1.1M430.2 229.2h1.1M425.2 233.3h1.1M426.0 233.0h1.1M429.2 229.9h1.1M431.8 234.6h1.1M445.1 249.2h1.1M442.8 246.5h1.1M453.1 259.9h1.1M438.0 246.6h1.1M434.7 245.8h1.1M447.8 251.8h1.1M433.8 237.6h1.1M452.2 255.6h1.1M436.7 239.8h1.1M455.4 262.3h1.1M450.6 252.4h1.1M432.8 238.6h1.1M446.6 252.6h1.1M433.8 243.5h1.1" stroke="#000" stroke-opacity="0.5" stroke-width="1.1" fill="none"/>
<path d="M458.8 280.9h1.1M467.6 261.2h1.1M457.6 264.4h1.1M457.4 270.3h1.1M457.1 262.8h1.1M463.8 273.6h1.1M465.7 269.9h1.1M456.4 285.9h1.1M463.7 263.7h1.1M457.9 266.6h1.1M465.2 266.7h1.1M461.4 262.8h1.1M462.4 269.0h1.1M460.2 270.2h1.1M465.1 255.2h1.1M462.1 266.2h1.1M469.6 272.9h1.1M464.0 259.5h1.1M465.1 280.8h1.1M461.5 269.6h1.1M462.2 260.4h1.1M463.2 283.0h1.1M462.2 274.3h1.1M459.4 266.2h1.1M460.8 260.5h1.1M462.9 262.7h1.1M458.5 269.2h1.1M462.5 267.3h1.1M460.0 273.0h1.1M460.0 265.4h1.1M458.0 281.7h1.1M466.6 268.0h1.1M464.4 260.8h1.1M462.1 265.5h1.1M464.7 274.0h1.1M462.5 275.9h1.1M462.8 272.6h1.1M464.2 268.1h1.1M460.6 261.6h1.1M465.6 270.0h1.1M463.1 261.8h1.1M460.7 265.6h1.1M460.2 275.8h1.1M463.4 257.5h1.1M463.0 264.1h1.1M462.9 275.1h1.1M469.9 277.6h1.1M462.4 278.6h1.1M460.7 277.8h1.1M466.7 266.5h1.1M463.5 280.9h1.1M455.6 262.7h1.1M461.2 264.0h1.1M459.3 268.9h1.1M460.7 262.9h1.1M464.3 275.4h1.1M452.1 270.6h1.1M466.9 276.1h1.1M463.5 271.1h1.1M459.2 266.2h1.1M466.2 267.9h1.1M467.8 270.8h1.1M465.0 263.8h1.1M458.6 262.9h1.1M457.3 279.8h1.1M465.4 267.2h1.1M463.7 267.9h1.1M463.0 270.1h1.1M464.0 271.1h1.1M467.4 267.2h1.1M465.8 262.0h1.1M463.5 280.1h1.1M461.9 265.2h1.1M457.7 261.5h1.1M463.7 259.9h1.1M459.3 261.3h1.1M465.2 267.1h1.1M466.4 275.1h1.1M465.9 271.4h1.1M467.6 263.5h1.1M458.5 275.8h1.1M465.5 259.8h1.1M462.4 260.4h1.1M465.4 273.5h1.1M461.8 279.2h1.1M457.8 263.6h1.1M456.6 272.8h1.1M461.2 269.2h1.1M459.9 265.3h1.1M456.9 267.2h1.1M464.2 277.6h1.1M461.3 261.9h1.1M464.6 275.4h1.1M460.7 261.3h1.1M462.8 258.0h1.1M460.9 277.3h1.1M460.9 267.9h1.1M458.9 272.0h1.1M463.7 269.1h1.1M465.0 268.4h1.1M461.5 267.6h1.1M463.5 269.9h1.1M462.4 271.6h1.1M463.9 266.8h1.1M463.5 266.1h1.1M464.3 273.4h1.1M462.5 269.6h1.1M463.0 267.9h1.1M464.4 267.8h1.1M467.8 270.8h1.1M461.8 273.8h1.1M463.7 270.7h1.1M463.3 260.1h1.1M466.5 271.4h1.1M463.1 268.5h1.1M465.6 272.8h1.1M465.0 273.6h1.1M461.4 261.7h1.1M460.9 261.0h1.1M462.9 266.3h1.1M464.5 267.0h1.1M461.8 266.2h1.1M462.7 262.2h1.1M462.7 272.7h1.1M463.7 268.7h1.1M458.2 268.1h1.1M462.9 271.2h1.1M463.7 268.5h1.1M459.7 264.6h1.1" stroke="#000" stroke-opacity="0.64" stroke-width="1.1" fill="none"/>
<path d="M463.2 284.3h1.1M461.5 278.8h1.1M463.6 286.5h1.1M464.0 290.6h1.1M461.2 280.2h1.1M463.1 295.6h1.1M461.5 286.7h1.1M465.0 288.2h1.1M464.4 290.6h1.1M460.8 294.0h1.1M463.2 288.1h1.1M460.9 278.8h1.1M461.0 288.1h1.1M466.3 291.0h1.1M462.7 282.3h1.1" stroke="#000" stroke-opacity="0.75" stroke-width="1.1" fill="none"/>
<path d="M425.1 229.3h1.1M426.4 230.6h1.1M426.4 227.6h1.1M423.2 229.4h1.1M422.3 229.0h1.1M412.9 226.3h1.1M424.0 232.1h1.1M425.7 233.7h1.1M426.7 228.6h1.1M429.4 230.2h1.1M416.4 229.0h1.1M421.4 228.0h1.1M431.8 232.2h1.1M420.7 228.9h1.1M431.7 230.6h1.1M424.1 229.8h1.1M419.4 230.8h1.1M420.9 233.8h1.1M418.6 230.5h1.1M419.2 229.7h1.1M422.8 229.7h1.1M417.7 229.7h1.1M428.3 229.6h1.1M432.6 230.9h1.1M426.0 227.2h1.1M426.5 232.5h1.1M423.3 226.2h1.1M429.2 228.0h1.1M431.0 230.1h1.1M417.6 225.2h1.1M414.1 225.9h1.1M410.4 227.2h1.1M417.4 224.7h1.1M412.3 227.8h1.1M417.7 230.8h1.1M421.6 228.3h1.1M416.3 227.3h1.1M427.3 229.7h1.1M422.6 230.0h1.1M424.5 226.5h1.1M420.4 228.7h1.1M415.1 229.1h1.1M415.0 227.9h1.1M428.6 231.2h1.1M414.8 226.6h1.1M427.2 227.1h1.1M421.7 232.6h1.1M423.4 229.0h1.1M423.0 229.4h1.1M423.9 229.6h1.1M428.9 232.2h1.1M431.0 233.4h1.1M417.1 229.0h1.1M424.3 230.4h1.1M417.1 231.9h1.1M422.4 229.5h1.1M427.8 226.7h1.1M427.0 233.2h1.1M425.2 229.4h1.1M432.0 229.7h1.1" stroke="#000" stroke-opacity="0.78" stroke-width="1.1" fill="none"/>
<path d="M459.6 271.2h1.1M457.9 269.6h1.1M459.4 269.0h1.1M465.4 267.0h1.1M468.3 267.6h1.1M461.6 270.2h1.1M465.1 277.0h1.1M456.8 266.1h1.1M458.0 263.6h1.1M462.6 267.7h1.1M456.8 272.7h1.1M460.8 278.9h1.1M459.8 274.1h1.1M465.0 272.6h1.1M461.7 275.6h1.1M455.8 269.1h1.1M461.5 274.4h1.1M461.0 266.6h1.1M459.4 278.0h1.1M468.7 273.7h1.1M465.6 274.6h1.1M458.2 272.0h1.1M466.3 261.2h1.1M467.9 267.4h1.1M463.3 277.7h1.1M455.7 266.4h1.1M465.2 264.2h1.1M461.9 269.1h1.1M462.4 265.8h1.1M463.8 274.5h1.1M459.9 276.7h1.1M460.0 276.5h1.1M464.1 273.6h1.1M464.0 274.6h1.1M459.8 267.0h1.1M460.4 268.3h1.1M470.5 260.3h1.1M459.4 267.4h1.1M460.8 267.1h1.1M457.5 268.8h1.1M465.1 263.6h1.1M465.5 275.3h1.1M456.6 260.2h1.1M464.8 275.1h1.1M464.3 266.3h1.1M463.0 271.2h1.1M460.7 270.7h1.1M457.1 278.5h1.1M461.4 263.6h1.1M466.1 273.5h1.1M459.5 274.3h1.1M464.1 264.3h1.1M458.4 269.7h1.1M462.5 275.2h1.1M465.7 266.4h1.1M461.7 271.8h1.1M462.9 265.9h1.1M462.1 271.3h1.1M466.0 264.2h1.1M461.7 271.1h1.1M464.9 271.1h1.1M464.5 275.4h1.1M458.2 272.8h1.1M466.7 268.4h1.1M461.3 270.3h1.1M462.8 272.2h1.1M460.8 280.6h1.1M458.4 267.6h1.1M468.5 269.6h1.1M467.5 276.7h1.1M454.9 270.4h1.1M463.3 288.3h1.1M461.4 271.9h1.1M463.4 263.1h1.1M459.2 268.2h1.1M456.6 263.9h1.1M457.9 270.3h1.1M455.6 267.9h1.1M465.1 262.1h1.1M460.6 269.6h1.1M457.6 263.7h1.1M464.3 272.2h1.1M459.1 271.6h1.1M461.4 267.5h1.1M466.8 266.2h1.1M466.3 278.8h1.1M460.5 263.3h1.1M462.8 261.5h1.1M458.2 265.5h1.1M467.8 267.7h1.1M462.0 261.3h1.1M460.9 273.4h1.1M463.1 270.6h1.1M462.7 277.0h1.1M460.8 278.8h1.1M466.5 275.8h1.1M463.5 280.6h1.1M466.2 271.9h1.1M461.1 273.8h1.1M463.9 273.7h1.1M460.1 262.3h1.1M462.7 267.7h1.1M457.3 272.2h1.1M462.2 268.6h1.1M462.9 280.3h1.1M464.2 261.9h1.1M458.5 275.7h1.1M458.9 259.7h1.1M462.6 274.4h1.1M460.3 280.2h1.1M464.3 260.6h1.1M460.3 266.9h1.1M462.2 264.1h1.1M461.4 267.5h1.1M461.6 268.8h1.1M460.7 271.3h1.1M463.6 267.7h1.1M463.0 261.6h1.1M463.8 261.5h1.1M461.9 263.1h1.1M461.7 267.3h1.1M459.6 269.5h1.1M457.6 270.7h1.1M461.7 270.9h1.1M465.5 266.2h1.1M464.9 269.5h1.1M464.4 268.1h1.1M461.5 272.4h1.1M460.6 263.5h1.1M461.3 271.3h1.1M463.0 266.6h1.1M463.5 263.3h1.1M464.1 266.5h1.1M461.7 270.1h1.1M461.1 264.8h1.1M465.0 264.5h1.1M464.5 267.9h1.1" stroke="#000" stroke-opacity="1" stroke-width="1.1" fill="none"/>
</g>
<g id="A3">
<g>
<path d="M236.3 325.5H346.9" fill="none" stroke="#111" stroke-width="1"/>
<path d="M346.9 325.5V436.9" fill="none" stroke="#111" stroke-width="1.1"/>
<path d="M236.3 436.9H346.9" fill="none" stroke="#111" stroke-width="1"/>
<path d="M236.3 325.0V437.4" fill="none" stroke="#333" stroke-width="1.0"/>
<path d="M237.0 325.5v-3.2M241.0 325.5v-1.3M245.0 325.5v-1.3M249.1 325.5v-1.3M253.2 325.5v-1.3M257.3 325.5v-3.2M261.4 325.5v-1.3M265.6 325.5v-1.3M269.8 325.5v-1.3M274.1 325.5v-1.3M278.3 325.5v-3.2M282.6 325.5v-1.3M287.0 325.5v-1.3M291.3 325.5v-1.3M295.7 325.5v-1.3M300.1 325.5v-3.2M304.6 325.5v-1.3M309.1 325.5v-1.3M313.6 325.5v-1.3M318.1 325.5v-1.3M322.7 325.5v-3.2M327.3 325.5v-1.3M331.9 325.5v-1.3M336.6 325.5v-1.3M341.3 325.5v-1.3M346.0 325.5v-3.2M346.9 328.1h2.6M346.9 332.4h1.4M346.9 336.7h1.4M346.9 341.0h1.4M346.9 345.3h1.4M346.9 349.6h2.6M346.9 353.9h1.4M346.9 358.2h1.4M346.9 362.5h1.4M346.9 366.8h1.4M346.9 371.1h2.6M346.9 375.4h1.4M346.9 379.7h1.4M346.9 384.1h1.4M346.9 388.4h1.4M346.9 392.7h2.6M346.9 397.0h1.4M346.9 401.3h1.4M346.9 405.6h1.4M346.9 409.9h1.4M346.9 414.2h2.6M346.9 418.5h1.4M346.9 422.8h1.4M346.9 427.1h1.4M346.9 431.4h1.4M346.9 435.7h2.6M236.3 436.9h-3.6M236.3 428.5h-1.5M236.3 423.6h-1.5M236.3 420.1h-1.5M236.3 417.4h-1.5M236.3 415.2h-1.5M236.3 413.4h-1.5M236.3 411.7h-1.5M236.3 410.3h-1.5M236.3 409.0h-3.6M236.3 400.7h-1.5M236.3 395.8h-1.5M236.3 392.3h-1.5M236.3 389.6h-1.5M236.3 387.4h-1.5M236.3 385.5h-1.5M236.3 383.9h-1.5M236.3 382.5h-1.5M236.3 381.2h-3.6M236.3 372.8h-1.5M236.3 367.9h-1.5M236.3 364.4h-1.5M236.3 361.7h-1.5M236.3 359.5h-1.5M236.3 357.7h-1.5M236.3 356.0h-1.5M236.3 354.6h-1.5M236.3 353.4h-3.6M236.3 345.0h-1.5M236.3 340.1h-1.5M236.3 336.6h-1.5M236.3 333.9h-1.5M236.3 331.7h-1.5M236.3 329.8h-1.5M236.3 328.2h-1.5M236.3 326.8h-1.5M236.3 325.5h-3.6M236.3 436.9v3M244.6 436.9v1.4M249.5 436.9v1.4M252.9 436.9v1.4M255.6 436.9v1.4M257.8 436.9v1.4M259.7 436.9v1.4M261.3 436.9v1.4M262.7 436.9v1.4M263.9 436.9v3M272.3 436.9v1.4M277.1 436.9v1.4M280.6 436.9v1.4M283.3 436.9v1.4M285.5 436.9v1.4M287.3 436.9v1.4M288.9 436.9v1.4M290.3 436.9v1.4M291.6 436.9v3M299.9 436.9v1.4M304.8 436.9v1.4M308.2 436.9v1.4M310.9 436.9v1.4M313.1 436.9v1.4M315.0 436.9v1.4M316.6 436.9v1.4M318.0 436.9v1.4M319.2 436.9v3M327.6 436.9v1.4M332.4 436.9v1.4M335.9 436.9v1.4M338.6 436.9v1.4M340.8 436.9v1.4M342.6 436.9v1.4M344.2 436.9v1.4M345.6 436.9v1.4M346.9 436.9v3" fill="none" stroke="#111" stroke-width="0.9"/>
<text x="237.8" y="324.3" class="tk" textLength="3.0" lengthAdjust="spacingAndGlyphs">0</text><text x="258.1" y="324.3" class="tk" textLength="9.1" lengthAdjust="spacingAndGlyphs">200</text><text x="279.1" y="324.3" class="tk" textLength="9.1" lengthAdjust="spacingAndGlyphs">400</text><text x="300.9" y="324.3" class="tk" textLength="9.1" lengthAdjust="spacingAndGlyphs">600</text><text x="323.5" y="324.3" class="tk" textLength="9.1" lengthAdjust="spacingAndGlyphs">800</text><text x="346.8" y="324.3" class="tk" textLength="12.2" lengthAdjust="spacingAndGlyphs">1000</text><text x="347.7" y="331.1" class="tk" textLength="12.2" lengthAdjust="spacingAndGlyphs">1000</text><text x="347.7" y="352.6" class="tk" textLength="9.1" lengthAdjust="spacingAndGlyphs">800</text><text x="347.7" y="374.1" class="tk" textLength="9.1" lengthAdjust="spacingAndGlyphs">600</text><text x="347.7" y="395.7" class="tk" textLength="9.1" lengthAdjust="spacingAndGlyphs">400</text><text x="347.7" y="417.2" class="tk" textLength="9.1" lengthAdjust="spacingAndGlyphs">200</text><text x="221.9" y="438.8" class="tk lg" textLength="5.4" lengthAdjust="spacingAndGlyphs">10</text><text x="228.9" y="437.5" class="tk sup">0</text><text x="221.9" y="410.9" class="tk lg" textLength="5.4" lengthAdjust="spacingAndGlyphs">10</text><text x="228.9" y="409.6" class="tk sup">1</text><text x="221.9" y="383.1" class="tk lg" textLength="5.4" lengthAdjust="spacingAndGlyphs">10</text><text x="228.9" y="381.8" class="tk sup">2</text><text x="221.9" y="355.2" class="tk lg" textLength="5.4" lengthAdjust="spacingAndGlyphs">10</text><text x="228.9" y="354.0" class="tk sup">3</text><text x="221.9" y="327.4" class="tk lg" textLength="5.4" lengthAdjust="spacingAndGlyphs">10</text><text x="228.9" y="326.1" class="tk sup">4</text><text x="238.9" y="444.1" class="tk lg" textLength="5.0" lengthAdjust="spacingAndGlyphs">10</text><text x="245.5" y="442.5" class="tk sup">0</text><text x="266.6" y="444.1" class="tk lg" textLength="5.0" lengthAdjust="spacingAndGlyphs">10</text><text x="273.1" y="442.5" class="tk sup">1</text><text x="294.2" y="444.1" class="tk lg" textLength="5.0" lengthAdjust="spacingAndGlyphs">10</text><text x="300.8" y="442.5" class="tk sup">2</text><text x="321.9" y="444.1" class="tk lg" textLength="5.0" lengthAdjust="spacingAndGlyphs">10</text><text x="328.4" y="442.5" class="tk sup">3</text><text x="349.5" y="444.1" class="tk lg" textLength="5.0" lengthAdjust="spacingAndGlyphs">10</text><text x="356.1" y="442.5" class="tk sup">4</text>
<text transform="translate(217.9 393.3) rotate(-90)" text-anchor="middle" class="yl">CD45RO</text>
</g>
<path d="M301.1 374.6h1.1M310.7 362.6h1.1" stroke="#000" stroke-opacity="0.16" stroke-width="1.1" fill="none"/>
<path d="M292.0 384.4h1.1M295.3 418.8h1.1M280.6 370.9h1.1M280.8 393.8h1.1M277.9 401.5h1.1M270.9 379.1h1.1M276.9 410.8h1.1M258.0 372.1h1.1M304.0 404.5h1.1M308.1 416.4h1.1M263.6 382.0h1.1M266.2 393.4h1.1M277.8 367.3h1.1M286.2 383.8h1.1M273.1 383.8h1.1M263.8 371.5h1.1M292.7 421.1h1.1M261.2 382.7h1.1M275.5 376.1h1.1M276.3 388.2h1.1M282.9 392.7h1.1M298.8 406.6h1.1M276.0 400.6h1.1M281.6 359.9h1.1M249.8 380.1h1.1M257.3 381.3h1.1M302.3 399.9h1.1M261.2 355.5h1.1M305.3 403.9h1.1M270.4 400.5h1.1M249.1 381.0h1.1M273.7 362.4h1.1M280.2 429.0h1.1M278.4 374.2h1.1M265.2 345.3h1.1M256.9 382.9h1.1M293.8 407.9h1.1M270.4 396.2h1.1M307.4 405.2h1.1M265.7 400.4h1.1M274.6 376.8h1.1M274.0 370.0h1.1M274.4 368.2h1.1M294.5 408.2h1.1M288.3 403.6h1.1M278.1 375.7h1.1M280.7 390.6h1.1M271.6 363.0h1.1M269.5 388.0h1.1M280.4 396.9h1.1M265.4 404.2h1.1M265.4 386.3h1.1M272.4 355.1h1.1M274.7 392.7h1.1M262.3 390.4h1.1M260.3 370.6h1.1M246.4 390.2h1.1M271.2 385.9h1.1M282.2 379.4h1.1M300.1 419.6h1.1M273.9 353.3h1.1M291.5 404.8h1.1M287.5 395.7h1.1M239.4 352.6h1.1M261.0 391.1h1.1M281.9 389.7h1.1" stroke="#000" stroke-opacity="0.17" stroke-width="1.1" fill="none"/>
<path d="M294.3 423.9h1.1M303.2 423.3h1.1M295.3 423.4h1.1M296.1 421.6h1.1M302.2 418.6h1.1M308.9 422.8h1.1M300.4 427.7h1.1M306.2 416.8h1.1M302.4 431.4h1.1M302.8 427.9h1.1M300.3 424.6h1.1M294.3 423.1h1.1M300.3 419.4h1.1M302.6 420.3h1.1M301.4 434.3h1.1M298.6 425.3h1.1M302.4 419.1h1.1M300.0 417.0h1.1M304.9 425.4h1.1" stroke="#000" stroke-opacity="0.2" stroke-width="1.1" fill="none"/>
<path d="M252.3 368.8h1.1M253.6 367.5h1.1M262.4 363.5h1.1M252.7 361.0h1.1M251.7 366.6h1.1M257.4 363.6h1.1M242.8 363.7h1.1M244.5 365.4h1.1M255.9 367.5h1.1M246.7 365.4h1.1M251.1 366.2h1.1M241.0 364.9h1.1M250.7 364.9h1.1M237.9 364.8h1.1M248.7 364.9h1.1M252.9 368.1h1.1M253.8 361.1h1.1M250.8 367.7h1.1M259.6 367.1h1.1M253.8 370.0h1.1M249.3 367.9h1.1M254.7 367.2h1.1M249.1 368.6h1.1M241.9 369.0h1.1M255.0 365.5h1.1M250.3 366.6h1.1M250.8 368.0h1.1" stroke="#000" stroke-opacity="0.27" stroke-width="1.1" fill="none"/>
<path d="M266.6 368.3h1.1M296.2 397.3h1.1M268.0 373.1h1.1M291.5 400.3h1.1M281.8 388.7h1.1M274.2 385.8h1.1M285.0 394.8h1.1M274.5 384.7h1.1M292.5 403.8h1.1M278.2 386.3h1.1M271.5 366.7h1.1M288.9 398.6h1.1M289.6 393.6h1.1M277.7 386.2h1.1M282.6 391.5h1.1M283.2 391.0h1.1M295.1 396.6h1.1M285.3 395.5h1.1M273.0 388.2h1.1M285.0 402.5h1.1M292.1 399.1h1.1M289.8 394.5h1.1M267.9 369.2h1.1M269.6 382.4h1.1M288.7 394.9h1.1M287.5 398.2h1.1M276.5 388.9h1.1M266.2 370.8h1.1M272.6 384.7h1.1M277.8 388.8h1.1M282.4 388.2h1.1M279.4 392.7h1.1M285.2 393.2h1.1M277.3 382.9h1.1M275.3 372.8h1.1M287.3 402.0h1.1M279.6 386.7h1.1M280.6 390.9h1.1M276.4 380.8h1.1M275.9 387.1h1.1M291.5 399.0h1.1M279.0 389.0h1.1M266.1 374.9h1.1M284.6 396.8h1.1M286.7 394.6h1.1M292.9 404.0h1.1M279.9 387.5h1.1M263.5 378.6h1.1M283.4 390.0h1.1M276.6 378.2h1.1M265.2 366.6h1.1M277.1 391.8h1.1M287.1 402.2h1.1M296.6 403.1h1.1M273.1 370.2h1.1M277.5 385.3h1.1M276.8 382.5h1.1M285.7 391.2h1.1M272.4 375.7h1.1M282.9 388.8h1.1M269.9 377.3h1.1M266.3 376.8h1.1M283.4 389.7h1.1M268.6 372.8h1.1M297.3 406.3h1.1M286.8 396.3h1.1M280.2 390.8h1.1M293.1 394.6h1.1M278.6 388.5h1.1M274.2 383.5h1.1M269.9 378.0h1.1M296.8 400.7h1.1M267.6 379.7h1.1M291.8 404.1h1.1M280.7 389.9h1.1M262.6 369.9h1.1M280.8 387.4h1.1M286.8 391.4h1.1M274.1 383.0h1.1M276.0 385.1h1.1M292.4 407.9h1.1M291.3 400.3h1.1M265.3 368.3h1.1M274.6 382.2h1.1M267.0 371.2h1.1M274.7 379.5h1.1M283.1 397.9h1.1M290.6 392.7h1.1M293.3 406.1h1.1M264.8 374.5h1.1M292.7 402.7h1.1M273.4 377.8h1.1M304.9 369.2h1.1M310.1 370.2h1.1M312.0 370.6h1.1M301.9 365.1h1.1M299.1 366.3h1.1" stroke="#000" stroke-opacity="0.28" stroke-width="1.1" fill="none"/>
<path d="M293.3 399.6h1.1M288.9 394.2h1.1M263.1 357.3h1.1M256.8 354.6h1.1M281.1 388.5h1.1M259.2 401.6h1.1M294.3 412.1h1.1M300.9 400.0h1.1M283.0 384.2h1.1M266.3 382.1h1.1M299.4 409.3h1.1M264.6 379.3h1.1M291.4 405.4h1.1M273.5 375.9h1.1M284.4 368.3h1.1M294.4 410.4h1.1M258.2 362.8h1.1M305.8 379.1h1.1M268.2 365.4h1.1M260.9 355.2h1.1M274.6 387.2h1.1M271.7 394.5h1.1M270.0 391.8h1.1M278.6 391.5h1.1M271.6 373.6h1.1M278.4 390.3h1.1M261.5 391.8h1.1M293.7 386.0h1.1M271.3 379.1h1.1M304.4 423.5h1.1M257.5 369.1h1.1M274.6 359.2h1.1M251.0 368.4h1.1M254.9 355.2h1.1M262.3 372.7h1.1M268.7 387.5h1.1M265.2 400.8h1.1M285.2 387.4h1.1M278.1 361.0h1.1M273.3 414.4h1.1M270.5 380.4h1.1M296.2 407.8h1.1M277.3 393.0h1.1M255.0 384.4h1.1M256.3 332.4h1.1M284.4 369.7h1.1M271.7 405.7h1.1M275.5 399.8h1.1M265.0 392.5h1.1M282.4 397.3h1.1M287.1 391.4h1.1M305.7 431.0h1.1M285.5 400.7h1.1M268.2 363.4h1.1M292.0 408.1h1.1M303.4 398.7h1.1M288.5 379.1h1.1M277.3 401.0h1.1" stroke="#000" stroke-opacity="0.3" stroke-width="1.1" fill="none"/>
<path d="M301.6 404.2h1.1M305.4 412.3h1.1M306.1 412.5h1.1M297.5 408.0h1.1M305.0 409.6h1.1M303.4 402.3h1.1M290.9 402.9h1.1M306.9 403.1h1.1M302.7 406.1h1.1M296.8 401.4h1.1M296.8 401.8h1.1M306.6 421.6h1.1M297.0 400.3h1.1M302.4 410.6h1.1M291.0 401.9h1.1M292.2 410.0h1.1M299.0 399.8h1.1M300.2 407.2h1.1M284.2 404.3h1.1M294.9 408.1h1.1M300.1 408.2h1.1M297.1 418.2h1.1M294.8 399.7h1.1M297.7 410.5h1.1M300.0 401.3h1.1M294.1 399.4h1.1M294.3 405.1h1.1M308.5 401.8h1.1M299.4 402.3h1.1M301.9 412.6h1.1M301.6 408.8h1.1M306.9 416.2h1.1M306.9 411.1h1.1M310.3 409.4h1.1M289.2 397.4h1.1M300.9 410.7h1.1M293.2 399.6h1.1M296.0 407.0h1.1M288.5 406.7h1.1M295.2 413.5h1.1M299.1 410.5h1.1M306.4 418.0h1.1M303.2 411.1h1.1M306.8 409.1h1.1M309.2 414.4h1.1M296.4 405.0h1.1M300.5 406.5h1.1M286.1 401.2h1.1M302.9 404.0h1.1M296.4 408.3h1.1M298.7 406.0h1.1M298.3 415.0h1.1M282.1 398.6h1.1M291.1 408.1h1.1M298.5 404.0h1.1M288.9 402.8h1.1M296.3 405.5h1.1M292.3 405.0h1.1M296.3 414.7h1.1M304.4 407.8h1.1M302.6 407.1h1.1M307.1 409.4h1.1M301.5 413.1h1.1M305.8 402.9h1.1M300.3 410.2h1.1M296.3 408.9h1.1M295.1 405.2h1.1M295.0 404.7h1.1M303.8 411.5h1.1M304.4 408.3h1.1M297.4 409.4h1.1M294.9 410.7h1.1M294.9 407.9h1.1M293.6 403.7h1.1M294.7 398.8h1.1M295.9 397.2h1.1M301.1 402.5h1.1M297.4 401.0h1.1M304.4 410.0h1.1M295.0 415.4h1.1M288.1 407.4h1.1M293.0 406.6h1.1M296.1 411.5h1.1M298.4 398.7h1.1M308.2 407.7h1.1M297.6 411.0h1.1M299.1 411.2h1.1M294.7 398.4h1.1M300.6 409.5h1.1M288.8 406.5h1.1M294.4 414.8h1.1M304.0 403.1h1.1M305.1 406.5h1.1M292.3 399.7h1.1" stroke="#000" stroke-opacity="0.32" stroke-width="1.1" fill="none"/>
<path d="M265.3 366.0h1.1M259.9 361.5h1.1M264.9 360.6h1.1M263.5 375.9h1.1M259.4 359.4h1.1M264.3 366.2h1.1M263.8 367.2h1.1M264.7 364.0h1.1M259.5 367.7h1.1M264.3 371.8h1.1M265.2 359.4h1.1M267.5 375.1h1.1M258.4 364.5h1.1M252.7 360.4h1.1M260.0 366.8h1.1M260.5 367.2h1.1M253.7 368.1h1.1M270.8 362.2h1.1M270.1 368.7h1.1M258.0 365.6h1.1M260.5 366.0h1.1M264.9 368.5h1.1M266.7 362.8h1.1M272.7 366.2h1.1M263.2 365.6h1.1M257.4 364.1h1.1M244.4 362.0h1.1M267.0 375.3h1.1M262.7 370.9h1.1M267.8 368.4h1.1M260.1 360.8h1.1M267.4 369.1h1.1M268.0 365.8h1.1M254.5 365.6h1.1M264.0 359.5h1.1M260.5 359.4h1.1M262.0 370.7h1.1M264.7 366.0h1.1M280.8 366.2h1.1M262.8 369.2h1.1M255.9 367.2h1.1M269.4 373.2h1.1M264.4 366.6h1.1M253.9 360.5h1.1M268.8 360.9h1.1M273.3 370.4h1.1M275.1 368.1h1.1M267.6 364.0h1.1M260.2 366.2h1.1M256.5 357.9h1.1M267.8 366.3h1.1M265.7 365.8h1.1M269.9 361.9h1.1M261.0 357.8h1.1M266.7 361.3h1.1M261.7 363.2h1.1M261.1 364.4h1.1M263.2 369.2h1.1M267.1 371.9h1.1M270.1 366.0h1.1M266.6 364.0h1.1M260.5 366.0h1.1M255.5 366.6h1.1M261.3 366.7h1.1M269.6 362.8h1.1M261.8 372.1h1.1M269.6 363.1h1.1M264.3 373.3h1.1M262.1 372.4h1.1M265.5 366.1h1.1M259.9 361.4h1.1M259.1 365.3h1.1M274.0 364.8h1.1M260.4 359.8h1.1M269.6 363.3h1.1M270.2 368.2h1.1M254.7 366.2h1.1M253.2 364.9h1.1M254.7 366.8h1.1M264.3 372.6h1.1M266.8 369.2h1.1M269.6 371.0h1.1M267.6 372.2h1.1M256.3 360.2h1.1M262.3 361.3h1.1M267.9 366.6h1.1M263.0 364.7h1.1M258.8 360.6h1.1M266.2 370.4h1.1M262.0 366.6h1.1M265.8 369.7h1.1M263.3 359.1h1.1M261.1 364.8h1.1M261.4 366.8h1.1M266.1 366.8h1.1M261.6 369.5h1.1M265.2 369.1h1.1M266.6 364.2h1.1M262.1 362.1h1.1M266.7 367.4h1.1M264.0 364.5h1.1M261.6 368.0h1.1M258.6 363.8h1.1M269.2 368.7h1.1M265.9 365.3h1.1M266.9 368.7h1.1M262.7 366.2h1.1M258.3 371.5h1.1M264.9 366.6h1.1M263.5 364.9h1.1M259.9 360.9h1.1M260.3 365.3h1.1M266.1 367.2h1.1M265.1 368.2h1.1M257.7 366.4h1.1M259.2 367.3h1.1M264.9 368.9h1.1M257.2 364.6h1.1M266.2 365.1h1.1M262.8 365.7h1.1M262.1 367.0h1.1M265.1 368.2h1.1M259.3 361.3h1.1M265.5 364.1h1.1M264.3 361.6h1.1M254.5 367.1h1.1M265.0 367.4h1.1M263.6 360.8h1.1M265.5 365.1h1.1M263.6 360.2h1.1M255.3 366.3h1.1M265.9 367.3h1.1M266.0 363.6h1.1M259.3 366.8h1.1M269.3 369.2h1.1M261.4 361.6h1.1M272.9 367.1h1.1M264.7 368.7h1.1M267.0 366.9h1.1M263.9 365.6h1.1M264.0 367.4h1.1M259.7 365.0h1.1M255.5 368.5h1.1M263.0 365.0h1.1M267.5 367.8h1.1M261.8 369.1h1.1M267.3 370.4h1.1M260.8 367.8h1.1M261.5 366.1h1.1M258.4 363.5h1.1M261.6 363.3h1.1M267.5 361.6h1.1M268.0 366.6h1.1M267.0 368.3h1.1M269.9 365.7h1.1M260.5 365.0h1.1M269.4 368.3h1.1M262.4 365.6h1.1M264.9 366.0h1.1M264.1 365.9h1.1M264.6 366.5h1.1M269.5 365.1h1.1M263.2 361.0h1.1M268.4 368.9h1.1M268.6 365.0h1.1M262.9 366.3h1.1M264.8 363.9h1.1M262.3 367.3h1.1M301.5 425.7h1.1M302.1 415.3h1.1M300.5 425.7h1.1M300.5 416.0h1.1M295.5 419.7h1.1M294.3 427.2h1.1M296.9 419.0h1.1M302.2 424.3h1.1M307.7 424.2h1.1M302.9 424.4h1.1M304.3 434.0h1.1M308.0 428.2h1.1M297.9 420.1h1.1M304.9 432.9h1.1M302.8 423.5h1.1M306.4 420.6h1.1M305.1 415.8h1.1M299.1 426.9h1.1M307.2 419.1h1.1M300.4 432.4h1.1M298.5 429.5h1.1" stroke="#000" stroke-opacity="0.36" stroke-width="1.1" fill="none"/>
<path d="M310.1 363.9h1.1M303.3 364.1h1.1M298.9 370.5h1.1M293.0 374.0h1.1" stroke="#000" stroke-opacity="0.44" stroke-width="1.1" fill="none"/>
<path d="M288.5 410.6h1.1M291.5 411.8h1.1M285.1 384.3h1.1M282.9 373.5h1.1M282.2 396.0h1.1M240.0 385.3h1.1M277.0 392.2h1.1M272.7 405.9h1.1M263.8 371.9h1.1M274.6 394.1h1.1M274.9 373.8h1.1M290.5 415.9h1.1M274.8 414.2h1.1M260.4 359.5h1.1M269.9 368.5h1.1M267.3 407.3h1.1M265.3 390.4h1.1M250.2 381.4h1.1M261.5 374.4h1.1M248.7 347.8h1.1M259.2 378.1h1.1M256.5 368.0h1.1M268.9 378.4h1.1M274.3 385.5h1.1M280.4 426.5h1.1M275.5 382.0h1.1M247.4 362.1h1.1M286.6 388.9h1.1M252.9 379.6h1.1M285.8 377.6h1.1M269.0 402.6h1.1M290.3 380.4h1.1M273.1 375.4h1.1M318.2 428.0h1.1M290.7 398.4h1.1M272.5 363.2h1.1M285.1 404.9h1.1M284.0 401.7h1.1M268.9 388.6h1.1M292.9 399.8h1.1M293.4 413.3h1.1M284.1 397.5h1.1M281.2 397.8h1.1M282.4 371.6h1.1M272.4 404.0h1.1M270.0 390.9h1.1M266.5 382.6h1.1M267.9 381.3h1.1M277.3 365.0h1.1M290.3 399.0h1.1M283.2 401.1h1.1M279.4 386.0h1.1M266.0 367.1h1.1M292.0 404.0h1.1M282.7 394.1h1.1M283.3 366.9h1.1M287.7 399.8h1.1M277.6 396.4h1.1M255.8 365.8h1.1M261.9 387.8h1.1M281.5 401.1h1.1M268.6 362.6h1.1M260.3 365.6h1.1M285.7 383.7h1.1M297.1 410.4h1.1M281.1 381.3h1.1M288.2 381.0h1.1M261.3 369.3h1.1M277.5 385.7h1.1M274.8 399.0h1.1M272.2 390.2h1.1M264.6 417.2h1.1M262.9 390.5h1.1M285.2 390.6h1.1M291.5 378.4h1.1M270.3 376.5h1.1M289.5 377.5h1.1M267.8 409.9h1.1M288.7 379.7h1.1" stroke="#000" stroke-opacity="0.47" stroke-width="1.1" fill="none"/>
<path d="M241.6 367.9h1.1M251.6 364.4h1.1M243.1 365.0h1.1M247.6 360.9h1.1M241.4 363.4h1.1M252.2 362.7h1.1M250.8 363.2h1.1M255.1 366.8h1.1M257.8 366.7h1.1M242.9 363.6h1.1M240.5 362.7h1.1M246.0 366.0h1.1M251.5 367.7h1.1M250.1 362.8h1.1M256.1 365.3h1.1M243.4 360.8h1.1M251.0 362.1h1.1M260.4 363.4h1.1M239.3 362.5h1.1M245.0 365.5h1.1M245.6 365.3h1.1M248.1 363.1h1.1M251.1 365.4h1.1M257.1 363.9h1.1M247.1 362.5h1.1M250.5 367.7h1.1M242.8 363.7h1.1M250.5 363.5h1.1M251.6 367.1h1.1M248.0 368.6h1.1M245.6 366.5h1.1M262.3 365.3h1.1M251.2 371.5h1.1M255.6 362.1h1.1M245.5 363.8h1.1M239.3 367.8h1.1M248.8 365.3h1.1M252.1 360.7h1.1M252.6 361.0h1.1M257.4 366.2h1.1M243.2 363.7h1.1M250.5 361.6h1.1" stroke="#000" stroke-opacity="0.48" stroke-width="1.1" fill="none"/>
<path d="M272.5 374.7h1.1M271.1 376.6h1.1M279.9 389.3h1.1M287.3 388.7h1.1M282.4 395.5h1.1M289.3 395.0h1.1M270.3 371.7h1.1M284.4 393.0h1.1M271.4 374.7h1.1M285.2 396.4h1.1M271.9 388.6h1.1M275.6 382.6h1.1M278.5 390.0h1.1M272.0 374.2h1.1M298.1 405.0h1.1M292.2 404.0h1.1M294.4 391.0h1.1M274.5 381.4h1.1M283.4 394.1h1.1M280.5 383.7h1.1M288.5 394.6h1.1M265.3 373.5h1.1M289.3 400.6h1.1M265.1 373.5h1.1M262.5 378.4h1.1M294.6 401.2h1.1M279.1 394.7h1.1M291.3 396.2h1.1M283.4 394.2h1.1M282.2 383.5h1.1M274.9 384.2h1.1M274.4 396.7h1.1M270.0 378.9h1.1M284.2 395.5h1.1M295.7 392.6h1.1M283.3 391.9h1.1M278.3 383.0h1.1M293.0 393.0h1.1M283.7 393.8h1.1M282.5 390.1h1.1M289.2 399.0h1.1M269.7 375.1h1.1M290.9 394.4h1.1M270.1 371.9h1.1M284.3 394.5h1.1M271.5 379.7h1.1M276.0 386.2h1.1M295.4 407.0h1.1M285.5 399.8h1.1M279.9 383.9h1.1M296.5 406.5h1.1M283.4 386.8h1.1M266.5 377.9h1.1M292.4 395.5h1.1M267.6 377.1h1.1M274.7 394.8h1.1M282.9 382.3h1.1M289.6 397.1h1.1M270.5 383.3h1.1M274.7 383.9h1.1M285.4 391.3h1.1M274.7 380.3h1.1M263.3 377.0h1.1M274.8 379.4h1.1M273.8 379.1h1.1M280.2 392.6h1.1M293.3 393.4h1.1M288.2 396.2h1.1M275.2 378.4h1.1M272.8 378.8h1.1M284.0 393.6h1.1M289.9 401.9h1.1M283.8 388.2h1.1M281.3 393.8h1.1M283.7 395.7h1.1M275.1 386.8h1.1M265.2 377.6h1.1M290.2 399.5h1.1M277.3 382.3h1.1M278.8 389.5h1.1M299.3 402.8h1.1M288.7 391.5h1.1M263.8 377.6h1.1M290.9 397.6h1.1M286.6 386.3h1.1M282.3 388.3h1.1M263.8 378.6h1.1M271.7 375.2h1.1M275.5 384.4h1.1M284.8 390.6h1.1M263.7 370.1h1.1M265.5 382.1h1.1M276.9 383.3h1.1M266.9 374.4h1.1M283.7 394.5h1.1M290.2 400.2h1.1M279.5 384.3h1.1M282.7 390.5h1.1M301.4 409.5h1.1M283.6 393.0h1.1M273.3 382.2h1.1M296.4 390.4h1.1" stroke="#000" stroke-opacity="0.5" stroke-width="1.1" fill="none"/>
<path d="M299.6 430.8h1.1M297.6 427.1h1.1M298.3 417.6h1.1M299.7 423.4h1.1M305.6 415.6h1.1M303.3 415.7h1.1M303.7 415.7h1.1M301.3 431.8h1.1M294.9 421.8h1.1M301.2 420.7h1.1" stroke="#000" stroke-opacity="0.56" stroke-width="1.1" fill="none"/>
<path d="M301.3 403.6h1.1M301.1 409.6h1.1M293.6 403.4h1.1M298.1 411.0h1.1M299.3 397.2h1.1M296.6 396.9h1.1M292.6 405.9h1.1M305.6 410.8h1.1M298.0 400.4h1.1M295.0 402.8h1.1M291.9 406.7h1.1M304.1 404.6h1.1M305.7 412.0h1.1M302.3 411.4h1.1M295.5 403.0h1.1M291.7 400.2h1.1M296.8 403.5h1.1M308.9 401.7h1.1M297.1 403.1h1.1M303.3 414.2h1.1M297.4 400.5h1.1M288.1 410.7h1.1M292.2 393.9h1.1M296.7 402.0h1.1M293.5 401.0h1.1M303.8 416.0h1.1M299.9 409.4h1.1M286.9 404.1h1.1M299.0 400.9h1.1M297.7 404.3h1.1M296.8 409.0h1.1M303.3 405.2h1.1M301.6 407.8h1.1M296.5 410.4h1.1M299.7 405.7h1.1M289.4 407.3h1.1M305.3 409.9h1.1M298.9 414.1h1.1M302.0 411.2h1.1M299.9 421.2h1.1M301.5 406.6h1.1M300.7 405.3h1.1M291.0 400.4h1.1M293.5 403.3h1.1M302.9 405.2h1.1M297.6 410.7h1.1M288.4 410.9h1.1M314.6 411.8h1.1M296.2 404.3h1.1M291.2 400.5h1.1M303.4 406.0h1.1M289.5 407.5h1.1M291.6 400.8h1.1M295.4 401.0h1.1M295.2 402.9h1.1M290.3 415.5h1.1M289.5 398.4h1.1M299.3 400.0h1.1M300.3 401.8h1.1M288.7 401.7h1.1M294.0 407.1h1.1M301.9 399.5h1.1M294.0 398.7h1.1M305.0 414.0h1.1M303.5 414.9h1.1M302.5 404.3h1.1M306.9 408.8h1.1M295.1 400.8h1.1M302.2 403.5h1.1M298.6 412.9h1.1M299.9 411.8h1.1M301.3 407.4h1.1M305.8 413.7h1.1M306.2 407.6h1.1M301.2 410.2h1.1M300.2 415.2h1.1M305.8 402.3h1.1M295.7 404.0h1.1M296.1 410.5h1.1" stroke="#000" stroke-opacity="0.58" stroke-width="1.1" fill="none"/>
<path d="M268.4 368.7h1.1M265.6 367.7h1.1M268.7 363.5h1.1M272.0 364.9h1.1M258.4 363.8h1.1M256.5 359.0h1.1M260.2 365.5h1.1M268.1 365.4h1.1M263.2 365.8h1.1M263.2 367.0h1.1M252.7 362.1h1.1M263.7 366.1h1.1M274.1 368.2h1.1M269.0 374.2h1.1M275.3 365.7h1.1M267.9 368.7h1.1M274.9 367.1h1.1M262.1 366.3h1.1M264.3 366.5h1.1M262.2 368.0h1.1M263.4 366.2h1.1M263.9 363.1h1.1M256.3 359.9h1.1M257.3 362.1h1.1M257.5 364.1h1.1M256.5 366.2h1.1M256.6 366.0h1.1M258.8 362.7h1.1M267.9 370.2h1.1M257.1 377.1h1.1M272.8 368.5h1.1M265.3 361.6h1.1M262.6 366.4h1.1M254.8 360.0h1.1M256.4 373.2h1.1M269.8 373.4h1.1M260.2 365.0h1.1M265.9 370.5h1.1M264.7 364.5h1.1M258.7 363.7h1.1M278.1 369.2h1.1M250.9 367.3h1.1M260.0 358.8h1.1M256.6 363.2h1.1M263.0 368.9h1.1M259.5 363.5h1.1M259.8 370.9h1.1M269.1 372.4h1.1M265.4 368.8h1.1M266.0 370.4h1.1M269.4 364.1h1.1M277.2 371.0h1.1M269.8 368.7h1.1M265.1 364.8h1.1M268.3 368.6h1.1M258.5 364.0h1.1M264.5 362.8h1.1M253.4 368.8h1.1M267.7 368.3h1.1M268.2 363.8h1.1M266.4 368.5h1.1M272.8 368.4h1.1M272.6 373.0h1.1M268.7 368.4h1.1M256.7 370.6h1.1M266.4 366.0h1.1M265.0 363.4h1.1M255.7 365.3h1.1M261.6 368.0h1.1M267.0 363.3h1.1M264.7 361.1h1.1M266.3 369.6h1.1M264.0 370.4h1.1M263.1 364.3h1.1M256.0 362.7h1.1M265.1 369.8h1.1M253.4 363.8h1.1M272.1 363.0h1.1M273.0 367.7h1.1M260.8 362.0h1.1M273.1 367.8h1.1M266.5 368.3h1.1M273.6 370.1h1.1M259.6 371.0h1.1M273.6 370.1h1.1M253.5 363.2h1.1M271.7 363.6h1.1M261.8 364.9h1.1M267.5 368.7h1.1M265.8 363.0h1.1M269.3 361.0h1.1M269.7 361.7h1.1M273.7 369.7h1.1M257.5 364.5h1.1M267.6 364.1h1.1M269.5 366.2h1.1M265.3 366.5h1.1M261.5 368.7h1.1M265.8 369.5h1.1M258.9 370.1h1.1M262.1 366.8h1.1M269.2 361.8h1.1M260.8 363.6h1.1M261.0 363.5h1.1M264.8 367.2h1.1M269.4 363.0h1.1M263.4 364.2h1.1M265.9 367.5h1.1M266.8 366.1h1.1M264.2 365.5h1.1M265.4 366.9h1.1M266.2 365.3h1.1M259.0 364.1h1.1M259.0 366.2h1.1M266.6 364.4h1.1M262.9 363.2h1.1M268.2 370.9h1.1M267.7 365.6h1.1M260.8 367.2h1.1M259.1 367.3h1.1M267.7 364.5h1.1M267.2 368.2h1.1M268.1 370.2h1.1M264.2 362.8h1.1M266.2 365.8h1.1M257.0 363.0h1.1M263.5 364.1h1.1M269.3 369.0h1.1M264.6 370.6h1.1M262.9 363.8h1.1M263.0 363.3h1.1M268.1 370.8h1.1M273.2 363.1h1.1M256.0 371.6h1.1M265.8 364.8h1.1M267.1 367.4h1.1M262.5 369.7h1.1M267.0 361.2h1.1M267.0 368.9h1.1M259.6 366.9h1.1M268.5 368.3h1.1M257.0 363.7h1.1M261.1 363.9h1.1M262.0 359.9h1.1M264.6 366.8h1.1M267.3 368.9h1.1M267.7 368.3h1.1M264.7 368.3h1.1M263.1 361.6h1.1M260.6 365.3h1.1M261.0 367.3h1.1M262.0 365.7h1.1M260.2 365.7h1.1M257.9 365.6h1.1" stroke="#000" stroke-opacity="0.64" stroke-width="1.1" fill="none"/>
<path d="M247.2 363.6h1.1M241.9 358.5h1.1M250.3 369.4h1.1M248.7 360.9h1.1M248.2 363.7h1.1M245.1 364.3h1.1M252.3 364.7h1.1M259.4 364.0h1.1M254.8 367.2h1.1M255.7 366.6h1.1M242.3 367.6h1.1M254.6 363.4h1.1M238.5 366.1h1.1M248.6 367.9h1.1M254.2 367.1h1.1M248.8 360.8h1.1M247.7 369.5h1.1M257.1 363.9h1.1M255.9 369.9h1.1M244.9 366.2h1.1M242.0 363.7h1.1M248.7 362.4h1.1M251.5 368.6h1.1M255.5 361.5h1.1M252.1 366.3h1.1M248.1 364.3h1.1M254.7 366.7h1.1M242.6 366.0h1.1M247.5 367.8h1.1M247.0 366.1h1.1M259.9 371.3h1.1M243.4 364.9h1.1M237.3 365.2h1.1M252.8 367.6h1.1M254.0 364.6h1.1M240.5 366.5h1.1M249.5 369.4h1.1M239.7 364.9h1.1M260.0 367.0h1.1" stroke="#000" stroke-opacity="0.75" stroke-width="1.1" fill="none"/>
<path d="M280.3 389.3h1.1M261.7 377.1h1.1M273.3 380.9h1.1M291.3 392.9h1.1M294.4 404.0h1.1M275.4 385.8h1.1M275.8 384.4h1.1M295.6 403.4h1.1M285.4 396.9h1.1M278.8 379.7h1.1M280.8 386.4h1.1M263.5 369.0h1.1M293.9 400.7h1.1M292.7 396.8h1.1M287.0 395.8h1.1M290.4 401.4h1.1M294.8 402.0h1.1M266.8 370.4h1.1M285.5 403.4h1.1M294.0 405.1h1.1M270.9 382.9h1.1M292.5 395.5h1.1M292.7 397.3h1.1M291.4 408.0h1.1M263.3 373.1h1.1M281.2 390.4h1.1M270.1 375.8h1.1M270.0 376.7h1.1M293.1 405.7h1.1M270.0 377.3h1.1M281.7 391.3h1.1M294.2 393.7h1.1M282.7 397.1h1.1M294.0 399.0h1.1M270.7 389.2h1.1M292.5 407.3h1.1M284.7 393.0h1.1M283.8 390.9h1.1M272.8 378.2h1.1M290.8 396.1h1.1M269.1 377.8h1.1M286.8 399.5h1.1M273.5 381.3h1.1M294.1 402.8h1.1M269.9 381.7h1.1M269.2 374.8h1.1M264.6 369.3h1.1M287.7 399.5h1.1M288.7 395.7h1.1M291.1 397.7h1.1M270.4 386.6h1.1M273.4 386.4h1.1M263.0 381.1h1.1M276.9 384.3h1.1M287.3 395.1h1.1M266.0 375.0h1.1M272.4 373.6h1.1M298.5 406.6h1.1M295.5 408.5h1.1M274.4 383.8h1.1M290.8 401.8h1.1M271.5 380.6h1.1M267.0 386.7h1.1M294.7 404.2h1.1M268.6 380.3h1.1M277.8 383.6h1.1M271.5 369.4h1.1M264.4 378.6h1.1M289.0 398.9h1.1M276.8 387.2h1.1M291.4 397.5h1.1M271.5 380.9h1.1M288.4 396.6h1.1M280.4 385.6h1.1M280.5 383.7h1.1M270.0 374.9h1.1M287.6 390.1h1.1M290.6 403.1h1.1" stroke="#000" stroke-opacity="0.78" stroke-width="1.1" fill="none"/>
<path d="M291.2 409.2h1.1M300.5 406.9h1.1M298.7 399.3h1.1M299.4 412.9h1.1M288.7 397.7h1.1M301.9 407.1h1.1M297.5 408.6h1.1M299.3 414.6h1.1M305.1 424.6h1.1M307.0 418.4h1.1M311.2 414.6h1.1M306.9 410.2h1.1M300.0 404.7h1.1M299.7 409.3h1.1M304.7 409.6h1.1M290.6 411.0h1.1M293.3 410.4h1.1M306.8 405.5h1.1M285.1 401.4h1.1M286.9 405.7h1.1M305.4 416.5h1.1M303.3 409.0h1.1M300.9 410.9h1.1M302.9 425.8h1.1M299.6 412.1h1.1M307.2 414.5h1.1M294.0 399.4h1.1M298.8 405.7h1.1M292.9 418.7h1.1M307.2 405.7h1.1M291.8 400.6h1.1M301.0 404.5h1.1M302.8 414.3h1.1M299.0 408.1h1.1M302.8 406.9h1.1M294.4 405.8h1.1M294.8 413.0h1.1M311.7 414.9h1.1M302.9 405.7h1.1M296.7 402.4h1.1M308.0 411.8h1.1M292.3 412.8h1.1M297.7 409.9h1.1M298.1 411.2h1.1M297.7 411.9h1.1M294.3 404.9h1.1M295.4 399.6h1.1M303.1 411.9h1.1M304.2 413.8h1.1M300.9 403.8h1.1M308.5 406.3h1.1M291.8 406.9h1.1M292.2 405.2h1.1M301.3 405.6h1.1M296.5 397.1h1.1M295.3 403.6h1.1M300.9 405.8h1.1M298.9 409.6h1.1M296.8 407.5h1.1M294.7 399.2h1.1M301.7 401.0h1.1M302.8 411.5h1.1M296.8 403.0h1.1M297.9 400.0h1.1M294.9 414.5h1.1M296.7 412.7h1.1M294.7 398.5h1.1M302.3 403.1h1.1M299.9 399.3h1.1M292.9 402.2h1.1M306.3 406.7h1.1M298.0 402.9h1.1M296.4 399.5h1.1M292.2 400.2h1.1M289.5 404.4h1.1M293.8 410.9h1.1M299.9 413.6h1.1M294.6 406.9h1.1M306.0 405.0h1.1M299.3 408.8h1.1M305.1 411.3h1.1M294.1 409.1h1.1M297.2 398.1h1.1M301.0 402.6h1.1" stroke="#000" stroke-opacity="0.9" stroke-width="1.1" fill="none"/>
<path d="M262.9 369.3h1.1M257.5 362.4h1.1M264.6 365.1h1.1M264.1 369.6h1.1M256.3 367.5h1.1M267.4 365.4h1.1M269.5 367.6h1.1M261.4 361.2h1.1M267.8 365.0h1.1M259.4 363.2h1.1M268.7 367.0h1.1M271.3 368.9h1.1M260.4 371.1h1.1M263.0 364.4h1.1M260.3 358.1h1.1M260.6 367.5h1.1M259.8 366.1h1.1M261.4 373.7h1.1M263.6 358.8h1.1M264.5 364.4h1.1M262.9 366.9h1.1M263.7 363.3h1.1M256.9 360.7h1.1M274.7 365.6h1.1M260.6 364.9h1.1M264.1 369.7h1.1M267.5 366.3h1.1M272.7 371.1h1.1M263.1 372.9h1.1M252.1 369.6h1.1M256.7 354.7h1.1M270.8 367.0h1.1M266.7 368.7h1.1M264.9 365.9h1.1M261.6 371.8h1.1M266.1 372.4h1.1M268.6 364.7h1.1M257.9 372.0h1.1M255.1 365.7h1.1M262.3 366.4h1.1M260.9 364.6h1.1M267.5 362.8h1.1M260.8 365.3h1.1M267.3 369.0h1.1M256.8 367.2h1.1M256.2 366.1h1.1M264.6 371.6h1.1M261.2 365.6h1.1M263.4 362.4h1.1M269.0 366.1h1.1M261.5 369.0h1.1M277.5 375.3h1.1M269.9 368.1h1.1M269.9 367.2h1.1M258.3 372.9h1.1M268.6 366.4h1.1M258.2 364.8h1.1M272.3 367.9h1.1M263.5 374.7h1.1M272.7 371.2h1.1M266.9 371.4h1.1M262.4 366.5h1.1M263.1 371.7h1.1M268.0 362.9h1.1M268.7 364.4h1.1M261.6 359.4h1.1M270.2 368.2h1.1M254.8 364.0h1.1M270.4 363.3h1.1M271.4 369.3h1.1M266.4 368.8h1.1M259.1 365.1h1.1M264.7 366.0h1.1M255.5 367.8h1.1M258.5 360.8h1.1M268.2 371.5h1.1M276.8 367.0h1.1M275.6 363.9h1.1M259.4 364.2h1.1M264.5 370.3h1.1M263.5 370.3h1.1M246.5 368.9h1.1M265.5 363.1h1.1M263.7 364.4h1.1M257.9 364.3h1.1M262.9 369.1h1.1M269.9 364.2h1.1M259.6 365.8h1.1M263.1 366.7h1.1M273.5 371.1h1.1M262.0 363.8h1.1M260.6 360.0h1.1M262.4 371.0h1.1M265.5 367.6h1.1M268.7 361.7h1.1M264.2 367.1h1.1M262.2 365.6h1.1M262.8 365.6h1.1M269.7 364.8h1.1M269.3 371.0h1.1M262.8 370.8h1.1M267.3 367.0h1.1M272.4 369.7h1.1M256.4 366.5h1.1M259.0 363.4h1.1M258.3 363.6h1.1M261.2 362.0h1.1M266.0 371.5h1.1M259.0 366.6h1.1M265.7 369.8h1.1M267.0 364.3h1.1M270.2 367.5h1.1M263.6 367.6h1.1M268.2 372.0h1.1M261.7 365.9h1.1M262.7 367.1h1.1M265.9 367.2h1.1M261.4 363.8h1.1M265.6 365.9h1.1M267.5 369.9h1.1M269.9 363.2h1.1M268.5 362.5h1.1M268.7 368.1h1.1M268.3 369.1h1.1M272.1 367.8h1.1M268.8 370.8h1.1M266.9 363.9h1.1M260.1 363.8h1.1M266.0 366.4h1.1M261.5 366.4h1.1M264.6 367.9h1.1M265.9 368.7h1.1M271.2 364.1h1.1M267.7 368.3h1.1M262.5 363.9h1.1M265.8 369.8h1.1M265.6 364.8h1.1M267.7 365.5h1.1M267.4 362.2h1.1M265.9 365.6h1.1M260.8 366.4h1.1M264.4 370.1h1.1M265.9 367.8h1.1M266.4 368.0h1.1M261.4 362.0h1.1M257.5 368.2h1.1M264.9 366.9h1.1M266.8 372.5h1.1M266.7 367.9h1.1M260.0 368.6h1.1M261.6 367.3h1.1M264.5 365.5h1.1M261.4 365.9h1.1M263.0 370.9h1.1M264.0 369.1h1.1M260.0 368.4h1.1M268.7 365.6h1.1M262.4 365.7h1.1M258.2 364.8h1.1M263.0 364.9h1.1" stroke="#000" stroke-opacity="1" stroke-width="1.1" fill="none"/>
</g>
<g id="B3">
<g>
<path d="M393.4 325.2H504.6" fill="none" stroke="#111" stroke-width="1"/>
<path d="M504.6 325.2V437.8" fill="none" stroke="#111" stroke-width="1.1"/>
<path d="M393.4 437.8H504.6" fill="none" stroke="#444" stroke-width="0.8"/>
<path d="M393.4 324.7V438.3" fill="none" stroke="#555" stroke-width="1.3"/>
<path d="M394.1 325.2v-3.2M398.1 325.2v-1.3M402.2 325.2v-1.3M406.3 325.2v-1.3M410.4 325.2v-1.3M414.5 325.2v-3.2M418.7 325.2v-1.3M422.9 325.2v-1.3M427.1 325.2v-1.3M431.4 325.2v-1.3M435.7 325.2v-3.2M440.0 325.2v-1.3M444.3 325.2v-1.3M448.7 325.2v-1.3M453.1 325.2v-1.3M457.6 325.2v-3.2M462.1 325.2v-1.3M466.6 325.2v-1.3M471.1 325.2v-1.3M475.7 325.2v-1.3M480.3 325.2v-3.2M484.9 325.2v-1.3M489.6 325.2v-1.3M494.2 325.2v-1.3M499.0 325.2v-1.3M503.7 325.2v-3.2M504.6 327.8h2.6M504.6 332.2h1.4M504.6 336.5h1.4M504.6 340.9h1.4M504.6 345.2h1.4M504.6 349.6h2.6M504.6 353.9h1.4M504.6 358.3h1.4M504.6 362.6h1.4M504.6 367.0h1.4M504.6 371.3h2.6M504.6 375.7h1.4M504.6 380.0h1.4M504.6 384.4h1.4M504.6 388.7h1.4M504.6 393.1h2.6M504.6 397.4h1.4M504.6 401.8h1.4M504.6 406.1h1.4M504.6 410.5h1.4M504.6 414.8h2.6M504.6 419.2h1.4M504.6 423.5h1.4M504.6 427.9h1.4M504.6 432.2h1.4M504.6 436.6h2.6M393.4 437.8h-3.6M393.4 429.3h-1.5M393.4 424.4h-1.5M393.4 420.9h-1.5M393.4 418.1h-1.5M393.4 415.9h-1.5M393.4 414.0h-1.5M393.4 412.4h-1.5M393.4 410.9h-1.5M393.4 409.6h-3.6M393.4 401.2h-1.5M393.4 396.2h-1.5M393.4 392.7h-1.5M393.4 390.0h-1.5M393.4 387.7h-1.5M393.4 385.9h-1.5M393.4 384.2h-1.5M393.4 382.8h-1.5M393.4 381.5h-3.6M393.4 373.0h-1.5M393.4 368.1h-1.5M393.4 364.6h-1.5M393.4 361.8h-1.5M393.4 359.6h-1.5M393.4 357.7h-1.5M393.4 356.1h-1.5M393.4 354.6h-1.5M393.4 353.4h-3.6M393.4 344.9h-1.5M393.4 339.9h-1.5M393.4 336.4h-1.5M393.4 333.7h-1.5M393.4 331.4h-1.5M393.4 329.6h-1.5M393.4 327.9h-1.5M393.4 326.5h-1.5M393.4 325.2h-3.6M393.4 437.8v3M401.8 437.8v1.4M406.7 437.8v1.4M410.1 437.8v1.4M412.8 437.8v1.4M415.0 437.8v1.4M416.9 437.8v1.4M418.5 437.8v1.4M419.9 437.8v1.4M421.2 437.8v3M429.6 437.8v1.4M434.5 437.8v1.4M437.9 437.8v1.4M440.6 437.8v1.4M442.8 437.8v1.4M444.7 437.8v1.4M446.3 437.8v1.4M447.7 437.8v1.4M449.0 437.8v3M457.4 437.8v1.4M462.3 437.8v1.4M465.7 437.8v1.4M468.4 437.8v1.4M470.6 437.8v1.4M472.5 437.8v1.4M474.1 437.8v1.4M475.5 437.8v1.4M476.8 437.8v3M485.2 437.8v1.4M490.1 437.8v1.4M493.5 437.8v1.4M496.2 437.8v1.4M498.4 437.8v1.4M500.3 437.8v1.4M501.9 437.8v1.4M503.3 437.8v1.4M504.6 437.8v3" fill="none" stroke="#111" stroke-width="0.9"/>
<text x="394.9" y="324.0" class="tk" textLength="3.0" lengthAdjust="spacingAndGlyphs">0</text><text x="415.3" y="324.0" class="tk" textLength="9.1" lengthAdjust="spacingAndGlyphs">200</text><text x="436.5" y="324.0" class="tk" textLength="9.1" lengthAdjust="spacingAndGlyphs">400</text><text x="458.4" y="324.0" class="tk" textLength="9.1" lengthAdjust="spacingAndGlyphs">600</text><text x="481.1" y="324.0" class="tk" textLength="9.1" lengthAdjust="spacingAndGlyphs">800</text><text x="504.5" y="324.0" class="tk" textLength="12.2" lengthAdjust="spacingAndGlyphs">1000</text><text x="505.4" y="330.8" class="tk" textLength="12.2" lengthAdjust="spacingAndGlyphs">1000</text><text x="505.4" y="352.6" class="tk" textLength="9.1" lengthAdjust="spacingAndGlyphs">800</text><text x="505.4" y="374.3" class="tk" textLength="9.1" lengthAdjust="spacingAndGlyphs">600</text><text x="505.4" y="396.1" class="tk" textLength="9.1" lengthAdjust="spacingAndGlyphs">400</text><text x="505.4" y="417.8" class="tk" textLength="9.1" lengthAdjust="spacingAndGlyphs">200</text><text x="379.0" y="439.7" class="tk tb lg" textLength="5.4" lengthAdjust="spacingAndGlyphs">10</text><text x="386.0" y="438.4" class="tk tb sup">0</text><text x="379.0" y="411.5" class="tk tb lg" textLength="5.4" lengthAdjust="spacingAndGlyphs">10</text><text x="386.0" y="410.2" class="tk tb sup">1</text><text x="379.0" y="383.4" class="tk tb lg" textLength="5.4" lengthAdjust="spacingAndGlyphs">10</text><text x="386.0" y="382.1" class="tk tb sup">2</text><text x="379.0" y="355.2" class="tk tb lg" textLength="5.4" lengthAdjust="spacingAndGlyphs">10</text><text x="386.0" y="354.0" class="tk tb sup">3</text><text x="379.0" y="327.1" class="tk tb lg" textLength="5.4" lengthAdjust="spacingAndGlyphs">10</text><text x="386.0" y="325.8" class="tk tb sup">4</text><text x="396.0" y="445.0" class="tk tb lg" textLength="5.0" lengthAdjust="spacingAndGlyphs">10</text><text x="402.6" y="443.4" class="tk tb sup">0</text><text x="423.8" y="445.0" class="tk tb lg" textLength="5.0" lengthAdjust="spacingAndGlyphs">10</text><text x="430.4" y="443.4" class="tk tb sup">1</text><text x="451.6" y="445.0" class="tk tb lg" textLength="5.0" lengthAdjust="spacingAndGlyphs">10</text><text x="458.2" y="443.4" class="tk tb sup">2</text><text x="479.4" y="445.0" class="tk tb lg" textLength="5.0" lengthAdjust="spacingAndGlyphs">10</text><text x="486.0" y="443.4" class="tk tb sup">3</text><text x="507.2" y="445.0" class="tk tb lg" textLength="5.0" lengthAdjust="spacingAndGlyphs">10</text><text x="513.8" y="443.4" class="tk tb sup">4</text>
</g>
<path d="M441.0 400.9h1.1M447.7 400.2h1.1M457.3 409.0h1.1M447.3 413.9h1.1M435.9 392.4h1.1M433.5 398.9h1.1M431.6 396.2h1.1M433.6 392.0h1.1M445.0 409.3h1.1M424.4 387.3h1.1M445.9 408.2h1.1M430.0 383.5h1.1" stroke="#000" stroke-opacity="0.14" stroke-width="1.1" fill="none"/>
<path d="M420.6 380.4h1.1M425.5 391.6h1.1M415.8 382.8h1.1M420.7 377.8h1.1M427.2 387.6h1.1M435.3 399.3h1.1M428.8 378.2h1.1M427.7 388.9h1.1M412.4 394.1h1.1M430.5 387.0h1.1M406.2 367.8h1.1M410.6 381.6h1.1M420.1 380.2h1.1M420.1 366.9h1.1M417.9 390.0h1.1M414.5 373.5h1.1M422.8 391.1h1.1M414.1 382.8h1.1M418.9 374.8h1.1" stroke="#000" stroke-opacity="0.2" stroke-width="1.1" fill="none"/>
<path d="M437.4 399.4h1.1M427.1 394.1h1.1M431.0 398.2h1.1M429.6 394.2h1.1M438.3 399.2h1.1M432.1 400.2h1.1M429.2 392.4h1.1M426.3 388.9h1.1M429.6 397.9h1.1M429.2 393.5h1.1M431.2 396.7h1.1M428.7 387.9h1.1M430.4 407.5h1.1M435.0 395.0h1.1M434.0 398.8h1.1M435.8 401.5h1.1M433.0 395.3h1.1M438.2 399.4h1.1M438.7 399.9h1.1" stroke="#000" stroke-opacity="0.23" stroke-width="1.1" fill="none"/>
<path d="M439.8 393.8h1.1M437.6 401.4h1.1M449.1 391.7h1.1M425.5 384.3h1.1M440.5 404.1h1.1M447.7 406.3h1.1M446.0 388.1h1.1M452.4 413.2h1.1M422.3 353.9h1.1M448.2 395.0h1.1" stroke="#000" stroke-opacity="0.24" stroke-width="1.1" fill="none"/>
<path d="M443.7 427.8h1.1M446.4 420.2h1.1M448.4 428.5h1.1M444.2 430.5h1.1M451.2 432.4h1.1M446.7 425.8h1.1M446.9 425.4h1.1M449.4 428.5h1.1M449.8 426.6h1.1M446.8 432.4h1.1M445.5 432.6h1.1M445.9 422.4h1.1M445.2 436.7h1.1M445.0 420.7h1.1M449.9 426.4h1.1M450.0 423.9h1.1M449.0 431.6h1.1M447.6 429.2h1.1M454.3 431.8h1.1M448.1 423.7h1.1M452.0 434.7h1.1M446.9 418.8h1.1M448.3 432.7h1.1M446.3 429.5h1.1M451.2 433.5h1.1M449.7 435.5h1.1M445.5 423.7h1.1M445.6 430.8h1.1M446.2 415.3h1.1M444.7 422.6h1.1M449.4 425.4h1.1M453.9 433.5h1.1M449.9 430.1h1.1" stroke="#000" stroke-opacity="0.25" stroke-width="1.1" fill="none"/>
<path d="M410.8 375.1h1.1M418.8 382.2h1.1M430.5 375.0h1.1M411.7 373.6h1.1M420.1 388.0h1.1M417.0 379.3h1.1M418.9 375.6h1.1M425.4 375.0h1.1M426.9 377.3h1.1M423.6 384.3h1.1M424.5 378.1h1.1M415.2 376.6h1.1M428.0 382.2h1.1M428.4 378.4h1.1M414.2 388.7h1.1M417.6 370.7h1.1M431.6 380.2h1.1M427.0 382.6h1.1M426.8 376.1h1.1M419.9 373.6h1.1M411.9 374.4h1.1M429.6 381.3h1.1M417.4 376.3h1.1M418.3 384.2h1.1M415.0 377.7h1.1M422.8 379.0h1.1M435.5 382.8h1.1M424.8 380.6h1.1M422.7 388.5h1.1M420.0 379.9h1.1M430.0 381.7h1.1M434.3 373.6h1.1M427.4 383.6h1.1M419.7 384.3h1.1M417.9 367.4h1.1M425.2 382.0h1.1M424.6 384.8h1.1M419.4 388.9h1.1M419.6 382.4h1.1M428.5 376.5h1.1M424.4 385.4h1.1M418.0 389.2h1.1M427.5 377.4h1.1M426.7 372.1h1.1M423.9 377.0h1.1M418.5 381.5h1.1M417.5 382.7h1.1M426.1 384.2h1.1M417.4 381.8h1.1M412.6 376.4h1.1M415.4 386.4h1.1M428.2 381.6h1.1M421.0 378.9h1.1M417.1 371.9h1.1M408.7 381.0h1.1M424.7 383.6h1.1M422.3 392.3h1.1M419.2 372.2h1.1M416.5 377.5h1.1M416.1 381.7h1.1M426.4 377.0h1.1M424.5 383.0h1.1M434.2 373.5h1.1M426.8 383.2h1.1M411.5 391.5h1.1M433.1 381.9h1.1M421.9 385.6h1.1M423.9 382.0h1.1M419.3 375.4h1.1M420.5 378.5h1.1M421.2 385.4h1.1M427.0 380.1h1.1M419.7 382.5h1.1M416.6 377.1h1.1M414.8 374.3h1.1M417.1 372.9h1.1M431.4 384.3h1.1M416.2 382.4h1.1M431.6 382.7h1.1M425.3 384.3h1.1M431.4 382.6h1.1M417.5 372.3h1.1M421.7 385.9h1.1M422.7 375.6h1.1M412.0 376.5h1.1M428.9 375.3h1.1M414.1 375.1h1.1M428.3 375.9h1.1M421.8 382.9h1.1M411.5 378.9h1.1M417.0 378.1h1.1M427.1 377.8h1.1M428.1 386.5h1.1M422.8 372.6h1.1M427.4 378.1h1.1M416.2 372.6h1.1M425.9 388.7h1.1M428.5 387.7h1.1M424.1 374.1h1.1M428.9 376.2h1.1M420.8 382.1h1.1M419.9 377.7h1.1M424.4 373.0h1.1M415.9 381.9h1.1M414.5 379.7h1.1M420.4 379.5h1.1M414.0 375.0h1.1M424.1 373.4h1.1M425.5 383.9h1.1M459.1 416.3h1.1M452.0 416.9h1.1M457.1 421.0h1.1M452.1 412.4h1.1M440.3 405.6h1.1M439.1 408.3h1.1M447.8 407.9h1.1M441.8 416.4h1.1M435.1 418.8h1.1M443.8 417.2h1.1M451.7 408.9h1.1M445.7 411.5h1.1M458.0 417.3h1.1M445.8 400.2h1.1M449.0 401.9h1.1M455.9 419.3h1.1M453.6 406.3h1.1M429.5 408.9h1.1M446.0 411.2h1.1M448.3 424.2h1.1M444.6 409.9h1.1M443.1 415.2h1.1M452.2 404.5h1.1M449.4 405.2h1.1M448.5 404.6h1.1M442.5 408.5h1.1M459.3 422.4h1.1M441.8 413.8h1.1M437.8 406.0h1.1M450.7 403.4h1.1M456.7 413.2h1.1M445.5 412.7h1.1M447.6 413.0h1.1M453.0 406.1h1.1M450.3 408.7h1.1M438.0 420.1h1.1M450.8 419.4h1.1M458.8 419.3h1.1M456.4 414.0h1.1M445.7 416.3h1.1M443.8 401.4h1.1M432.8 415.7h1.1M440.2 406.1h1.1M450.6 404.9h1.1M445.1 403.0h1.1M444.9 422.5h1.1M441.6 424.1h1.1M442.2 410.2h1.1M445.1 409.8h1.1M436.4 404.5h1.1M442.4 410.2h1.1M437.5 411.0h1.1M442.2 405.9h1.1M447.0 412.8h1.1M433.8 404.0h1.1M436.7 407.6h1.1M454.7 413.1h1.1M449.6 405.1h1.1M441.8 419.6h1.1M437.9 405.3h1.1M447.2 406.9h1.1M431.8 407.8h1.1M449.0 406.7h1.1M436.2 415.9h1.1M452.0 408.6h1.1M437.8 408.7h1.1M446.5 414.4h1.1M460.5 410.6h1.1M448.4 407.9h1.1M455.9 419.9h1.1M460.8 422.6h1.1M454.7 408.4h1.1M437.5 409.5h1.1M451.8 417.7h1.1M449.8 416.4h1.1M460.7 408.8h1.1M444.3 417.0h1.1M452.1 411.2h1.1M444.1 411.4h1.1M450.4 412.4h1.1M451.2 414.2h1.1M434.6 411.4h1.1M442.6 423.2h1.1M434.6 401.9h1.1M448.6 405.2h1.1M456.1 426.1h1.1M455.3 419.2h1.1M441.2 422.3h1.1M450.8 410.3h1.1M453.9 414.7h1.1M451.0 409.0h1.1M458.6 409.2h1.1M445.4 409.9h1.1M458.5 421.9h1.1M441.5 410.8h1.1M448.3 406.0h1.1M447.0 421.9h1.1M452.4 412.5h1.1M439.8 412.8h1.1M435.1 412.0h1.1M456.7 417.7h1.1M445.0 401.8h1.1M452.6 407.3h1.1M451.1 406.6h1.1M449.4 422.4h1.1M445.4 407.6h1.1M438.8 412.1h1.1M451.9 411.5h1.1M444.6 420.6h1.1M451.9 409.8h1.1M439.2 403.7h1.1M446.7 415.6h1.1M439.2 402.3h1.1M449.6 404.5h1.1M452.0 421.4h1.1M435.0 409.7h1.1M442.8 402.1h1.1M438.5 414.8h1.1M449.8 419.9h1.1M439.0 414.1h1.1M444.3 401.2h1.1M445.2 402.7h1.1M452.7 417.9h1.1M449.0 404.4h1.1M444.8 411.3h1.1M440.0 408.6h1.1M454.5 410.3h1.1M447.8 415.8h1.1M440.8 416.3h1.1M453.4 413.0h1.1M441.1 418.3h1.1M442.0 402.5h1.1M449.4 407.6h1.1M452.6 421.7h1.1M449.2 418.5h1.1M444.1 412.7h1.1M438.0 404.2h1.1M448.5 422.0h1.1M440.9 415.6h1.1" stroke="#000" stroke-opacity="0.35" stroke-width="1.1" fill="none"/>
<path d="M423.7 379.9h1.1M421.4 379.1h1.1M424.7 375.3h1.1M422.1 384.0h1.1M422.8 384.9h1.1M424.8 382.9h1.1M418.2 382.3h1.1M421.5 379.3h1.1M424.1 380.7h1.1M420.7 382.3h1.1M417.9 377.5h1.1M419.1 386.2h1.1M421.9 380.9h1.1M425.0 380.7h1.1M425.6 382.7h1.1M423.2 381.7h1.1M422.0 377.8h1.1M419.9 382.2h1.1M426.1 387.5h1.1M418.4 382.1h1.1M424.4 384.3h1.1M420.1 382.9h1.1M419.6 379.1h1.1M423.2 380.5h1.1M419.1 376.3h1.1M424.3 374.8h1.1M419.3 381.1h1.1M426.2 379.9h1.1M423.2 380.4h1.1M422.4 377.0h1.1M421.3 381.4h1.1M417.4 381.0h1.1M421.9 378.8h1.1M419.7 381.6h1.1M415.0 385.5h1.1M427.0 390.1h1.1M418.5 379.8h1.1M417.0 371.1h1.1M415.7 376.4h1.1M421.3 382.9h1.1M414.4 377.3h1.1M406.1 380.7h1.1M419.8 383.6h1.1M403.8 380.1h1.1M429.8 379.5h1.1M417.8 381.3h1.1M414.1 370.0h1.1M416.6 382.2h1.1M425.7 382.5h1.1M441.1 407.3h1.1M443.0 409.2h1.1M446.8 409.5h1.1M445.6 408.5h1.1M448.9 410.1h1.1M446.0 409.2h1.1M448.9 410.0h1.1M445.8 413.4h1.1M450.3 410.5h1.1M446.1 412.7h1.1M445.4 409.1h1.1M450.2 405.6h1.1M444.3 409.3h1.1M444.6 412.1h1.1M441.7 409.2h1.1M446.4 416.8h1.1M447.7 408.7h1.1M444.8 411.8h1.1M439.8 408.9h1.1M442.0 410.2h1.1M443.2 412.0h1.1M448.6 413.7h1.1M449.7 409.3h1.1M444.8 415.8h1.1M447.9 406.2h1.1M453.9 410.4h1.1M452.3 411.9h1.1M448.2 409.9h1.1M442.1 409.2h1.1M446.4 413.3h1.1M451.3 412.8h1.1M446.8 406.9h1.1M446.5 410.6h1.1M445.8 414.4h1.1M447.9 413.2h1.1" stroke="#000" stroke-opacity="0.36" stroke-width="1.1" fill="none"/>
<path d="M435.5 412.8h1.1M438.7 404.2h1.1M429.3 380.4h1.1M434.8 395.6h1.1M424.8 393.7h1.1M433.8 401.0h1.1M447.2 404.2h1.1M441.6 382.6h1.1M439.2 394.2h1.1M424.4 383.3h1.1M452.2 414.7h1.1M445.7 406.5h1.1M442.0 387.8h1.1M435.3 392.1h1.1" stroke="#000" stroke-opacity="0.38" stroke-width="1.1" fill="none"/>
<path d="M428.1 393.7h1.1M429.8 394.7h1.1M434.6 397.1h1.1M435.9 399.3h1.1M429.0 395.1h1.1M423.2 393.9h1.1M427.2 390.9h1.1M438.8 403.1h1.1M423.0 392.3h1.1M424.8 392.6h1.1M427.5 386.1h1.1M435.5 397.1h1.1M437.6 400.8h1.1M440.1 405.7h1.1M426.5 392.1h1.1" stroke="#000" stroke-opacity="0.4" stroke-width="1.1" fill="none"/>
<path d="M449.8 434.3h1.1M443.7 423.2h1.1M447.5 420.3h1.1M446.8 420.3h1.1M456.0 432.9h1.1M446.5 428.9h1.1M452.1 421.5h1.1M448.6 431.4h1.1M448.3 424.6h1.1M451.6 429.2h1.1M440.8 421.7h1.1M451.1 422.8h1.1M451.5 423.8h1.1M449.7 429.7h1.1M450.6 431.8h1.1M450.4 427.3h1.1M448.6 427.5h1.1M447.5 421.8h1.1M449.5 426.1h1.1M446.2 436.0h1.1M445.9 431.3h1.1M446.3 426.9h1.1M446.4 418.7h1.1M449.2 426.8h1.1M452.4 419.0h1.1M449.6 430.5h1.1M449.6 423.6h1.1M443.7 428.4h1.1M453.5 420.6h1.1M449.5 420.1h1.1" stroke="#000" stroke-opacity="0.44" stroke-width="1.1" fill="none"/>
<path d="M419.2 376.8h1.1M413.8 384.4h1.1M402.8 383.2h1.1M436.5 382.4h1.1M418.3 377.7h1.1M421.4 386.3h1.1M414.5 387.5h1.1M422.7 383.7h1.1M421.4 379.2h1.1M421.5 377.4h1.1M424.3 383.9h1.1M425.0 381.0h1.1M415.4 372.1h1.1M422.3 371.8h1.1M416.7 371.5h1.1M414.0 369.2h1.1M424.7 379.9h1.1" stroke="#000" stroke-opacity="0.56" stroke-width="1.1" fill="none"/>
<path d="M415.0 381.9h1.1M418.2 379.8h1.1M422.4 376.9h1.1M424.7 389.6h1.1M422.6 382.0h1.1M428.3 390.1h1.1M415.4 378.3h1.1M415.6 386.6h1.1M417.1 378.3h1.1M421.5 379.7h1.1M424.3 384.9h1.1M427.4 371.1h1.1M419.4 383.5h1.1M419.9 382.5h1.1M418.6 382.9h1.1M421.2 374.3h1.1M415.9 385.8h1.1M411.1 379.6h1.1M419.2 372.7h1.1M422.3 381.0h1.1M419.2 387.6h1.1M413.7 373.1h1.1M424.0 378.4h1.1M417.5 381.9h1.1M415.5 377.5h1.1M417.0 378.1h1.1M424.9 379.6h1.1M422.3 388.2h1.1M418.3 386.6h1.1M416.6 384.7h1.1M425.9 375.4h1.1M420.5 382.5h1.1M418.4 376.4h1.1M419.7 379.8h1.1M423.3 382.7h1.1M420.3 372.9h1.1M412.8 377.2h1.1M421.4 383.1h1.1M424.8 380.1h1.1M422.1 376.3h1.1M419.2 376.5h1.1M417.8 387.6h1.1M418.0 383.0h1.1M413.8 372.9h1.1M411.6 377.9h1.1M432.6 377.6h1.1M424.0 385.0h1.1M421.9 378.7h1.1M427.5 378.7h1.1M427.0 374.8h1.1M425.4 374.2h1.1M428.9 381.1h1.1M416.4 386.4h1.1M425.7 380.0h1.1M422.7 382.5h1.1M419.6 378.5h1.1M422.5 369.1h1.1M425.6 381.8h1.1M418.6 379.4h1.1M413.3 378.6h1.1M425.8 382.4h1.1M420.1 378.4h1.1M422.3 373.9h1.1M424.0 381.8h1.1M426.6 382.6h1.1M424.7 383.4h1.1M422.4 388.9h1.1M425.2 374.4h1.1M421.1 387.7h1.1M422.1 384.9h1.1M413.2 379.9h1.1M424.0 374.2h1.1M425.2 378.1h1.1M414.9 375.1h1.1M425.3 375.2h1.1M426.4 380.1h1.1M426.2 384.2h1.1M421.0 376.5h1.1M426.8 374.2h1.1M424.1 384.8h1.1M421.2 377.4h1.1M417.7 374.7h1.1M416.8 377.8h1.1M412.9 382.8h1.1M417.4 376.4h1.1M425.4 377.2h1.1M413.9 380.6h1.1M424.3 375.2h1.1M430.1 382.7h1.1M424.5 384.2h1.1M416.2 374.3h1.1M424.2 376.3h1.1M419.6 385.5h1.1M430.8 380.3h1.1M420.1 371.5h1.1M415.9 372.6h1.1M417.2 375.2h1.1M437.6 404.1h1.1M426.4 392.8h1.1M432.1 404.8h1.1M428.4 395.4h1.1M425.7 389.1h1.1M426.7 391.5h1.1M430.8 389.9h1.1M435.5 401.1h1.1M428.8 392.6h1.1M435.0 401.1h1.1M423.9 395.2h1.1M434.8 401.1h1.1M435.2 399.3h1.1M431.2 399.1h1.1M430.0 395.2h1.1M425.5 393.7h1.1M425.4 391.0h1.1M432.7 392.0h1.1M431.1 396.8h1.1M432.2 400.5h1.1M447.9 418.1h1.1M434.4 420.9h1.1M444.3 416.5h1.1M451.3 409.8h1.1M456.8 418.8h1.1M455.3 404.0h1.1M459.7 415.0h1.1M449.0 411.1h1.1M457.0 406.6h1.1M446.2 398.4h1.1M451.1 411.2h1.1M444.8 411.8h1.1M449.4 418.2h1.1M452.9 413.0h1.1M451.1 413.0h1.1M438.4 414.4h1.1M429.4 415.0h1.1M448.1 413.4h1.1M441.6 403.6h1.1M441.4 412.6h1.1M437.9 405.8h1.1M449.3 420.4h1.1M446.7 413.9h1.1M443.9 412.3h1.1M453.1 408.1h1.1M447.4 407.2h1.1M448.9 418.8h1.1M444.8 412.5h1.1M438.1 415.1h1.1M458.3 403.6h1.1M428.6 402.7h1.1M452.1 413.5h1.1M439.5 405.4h1.1M435.1 405.9h1.1M444.9 406.1h1.1M447.8 398.3h1.1M441.1 407.6h1.1M459.9 414.7h1.1M456.5 419.9h1.1M455.0 405.3h1.1M449.8 411.3h1.1M437.8 407.6h1.1M463.3 411.6h1.1M447.6 419.3h1.1M437.1 402.8h1.1M449.5 418.5h1.1M445.0 410.8h1.1M445.0 412.7h1.1M441.1 411.1h1.1M452.2 423.2h1.1M448.7 414.2h1.1M442.1 411.9h1.1M442.8 412.7h1.1M436.8 412.8h1.1M449.7 404.6h1.1M442.9 406.9h1.1M452.1 410.3h1.1M437.8 405.8h1.1M447.6 421.0h1.1M450.1 407.2h1.1M441.6 414.5h1.1M436.9 410.8h1.1M444.4 420.9h1.1M441.5 411.1h1.1M447.9 406.6h1.1M452.4 407.2h1.1M454.4 418.9h1.1M453.2 420.2h1.1M447.5 408.4h1.1M453.8 418.7h1.1M438.7 410.4h1.1M447.3 411.1h1.1M440.7 413.9h1.1M450.3 405.3h1.1M445.5 406.5h1.1M448.1 416.3h1.1M446.4 415.7h1.1M443.5 410.8h1.1M451.8 417.9h1.1M439.1 416.4h1.1M445.9 407.4h1.1M440.7 418.0h1.1M445.9 422.0h1.1M447.1 410.4h1.1M443.0 418.4h1.1M452.0 406.6h1.1M453.3 415.9h1.1M444.3 404.5h1.1M442.8 408.1h1.1M448.3 415.5h1.1M452.4 417.1h1.1M450.2 417.9h1.1M434.4 407.9h1.1M445.3 409.6h1.1M440.5 414.4h1.1M449.6 422.8h1.1M449.2 405.3h1.1M446.1 409.1h1.1M444.0 413.0h1.1M437.1 406.1h1.1M450.6 405.3h1.1M435.5 405.2h1.1M442.3 405.0h1.1M446.9 420.1h1.1M450.5 417.6h1.1M448.6 418.1h1.1M437.0 412.5h1.1M451.0 410.3h1.1M444.6 416.2h1.1M446.3 406.2h1.1" stroke="#000" stroke-opacity="0.62" stroke-width="1.1" fill="none"/>
<path d="M424.0 378.3h1.1M421.2 381.2h1.1M420.7 379.8h1.1M425.0 380.6h1.1M423.4 376.8h1.1M422.9 384.5h1.1M425.4 382.8h1.1M424.5 378.6h1.1M425.6 375.5h1.1M426.3 378.0h1.1M425.8 378.6h1.1M423.2 379.5h1.1M421.7 381.4h1.1M421.3 382.9h1.1M421.2 379.2h1.1M419.4 379.6h1.1M426.0 375.7h1.1M419.4 383.4h1.1M420.7 381.7h1.1M420.7 383.0h1.1M421.8 380.0h1.1M426.0 384.1h1.1M422.6 384.5h1.1M424.7 383.5h1.1M420.6 383.8h1.1M423.1 378.5h1.1M420.0 378.8h1.1M444.2 405.9h1.1M443.3 409.7h1.1M442.7 407.2h1.1M449.9 409.3h1.1M444.5 408.9h1.1M449.5 410.8h1.1M444.1 408.9h1.1M449.9 412.3h1.1M443.9 409.7h1.1M444.9 415.6h1.1M446.0 416.1h1.1M451.3 415.9h1.1M443.8 413.2h1.1M448.0 412.1h1.1M446.3 410.7h1.1M446.4 413.2h1.1M451.0 414.2h1.1M445.5 409.4h1.1M448.2 412.9h1.1M444.7 407.0h1.1M443.5 412.6h1.1M449.8 410.5h1.1M444.9 413.7h1.1M446.8 410.4h1.1" stroke="#000" stroke-opacity="0.64" stroke-width="1.1" fill="none"/>
<path d="M446.9 431.6h1.1M449.5 429.6h1.1M447.5 418.8h1.1M450.8 427.7h1.1M450.1 428.6h1.1M447.3 428.3h1.1M446.1 421.5h1.1M455.1 426.3h1.1M450.0 426.9h1.1M447.9 430.8h1.1M450.5 422.9h1.1M451.1 426.5h1.1M448.8 432.4h1.1M440.3 433.3h1.1M451.1 434.3h1.1M446.5 434.3h1.1M451.3 423.1h1.1M445.2 423.0h1.1M451.1 428.3h1.1M448.0 421.4h1.1M447.8 422.9h1.1M448.3 427.0h1.1M447.0 429.4h1.1" stroke="#000" stroke-opacity="0.69" stroke-width="1.1" fill="none"/>
<path d="M424.5 382.8h1.1M433.9 381.1h1.1M423.5 369.8h1.1M423.4 380.9h1.1M432.0 380.0h1.1M421.5 368.7h1.1M432.7 374.3h1.1M426.8 379.9h1.1M411.0 376.2h1.1M420.3 373.1h1.1M425.6 385.6h1.1M414.6 381.0h1.1M427.3 384.6h1.1M426.7 387.2h1.1M423.4 385.0h1.1M425.6 379.3h1.1M414.6 371.5h1.1M415.1 374.7h1.1M425.3 387.7h1.1M428.6 384.0h1.1M415.5 379.5h1.1M421.1 381.8h1.1M418.3 382.3h1.1M427.9 383.2h1.1M417.1 375.1h1.1M432.2 389.6h1.1M429.0 374.4h1.1M422.6 379.4h1.1M411.2 377.7h1.1M420.1 375.2h1.1M422.8 391.4h1.1M419.7 375.3h1.1M423.1 370.7h1.1M419.1 378.0h1.1M422.1 382.4h1.1M419.6 385.7h1.1M421.9 382.2h1.1M415.4 385.1h1.1M424.9 382.2h1.1M422.1 384.0h1.1M411.0 380.2h1.1M418.1 385.3h1.1M428.5 377.3h1.1M427.1 385.1h1.1M421.9 372.9h1.1M421.8 376.9h1.1M421.5 382.6h1.1M413.8 380.6h1.1M424.2 383.7h1.1M418.0 374.4h1.1M426.6 379.1h1.1M418.9 375.6h1.1M419.1 383.4h1.1M415.4 376.2h1.1M419.5 374.8h1.1M420.4 381.1h1.1M430.6 371.3h1.1M422.5 377.1h1.1M416.0 383.3h1.1M424.9 379.1h1.1M419.1 384.9h1.1M407.5 373.3h1.1M421.0 381.8h1.1M428.5 376.9h1.1M423.6 379.7h1.1M430.0 391.9h1.1M420.3 376.1h1.1M430.1 380.6h1.1M419.1 381.5h1.1M418.6 379.9h1.1M421.7 380.1h1.1M415.5 373.8h1.1M419.4 378.5h1.1M417.7 378.4h1.1M423.2 380.2h1.1M413.2 375.3h1.1M421.5 387.0h1.1M424.1 379.2h1.1M414.1 376.2h1.1M420.9 375.7h1.1M423.4 379.9h1.1M418.2 379.0h1.1M413.1 374.8h1.1M424.9 388.7h1.1M420.7 373.9h1.1M423.3 381.5h1.1M429.4 382.9h1.1M421.8 379.9h1.1M422.7 378.6h1.1M421.2 374.9h1.1M418.9 387.3h1.1M417.0 374.3h1.1M424.5 380.7h1.1M422.7 372.6h1.1M422.3 383.5h1.1M423.7 387.6h1.1M425.4 379.6h1.1M425.0 383.1h1.1M426.7 384.2h1.1M427.9 377.9h1.1M418.2 379.6h1.1M428.1 379.0h1.1M420.5 375.5h1.1M426.2 384.6h1.1M413.5 374.6h1.1M416.8 383.2h1.1M455.8 413.1h1.1M444.2 410.6h1.1M439.7 410.4h1.1M442.4 415.3h1.1M445.1 408.8h1.1M447.3 408.9h1.1M439.9 419.6h1.1M444.0 408.1h1.1M442.7 410.5h1.1M454.1 417.7h1.1M444.5 414.7h1.1M434.7 398.6h1.1M447.7 425.9h1.1M445.0 410.2h1.1M437.9 401.0h1.1M445.9 413.8h1.1M445.2 407.8h1.1M435.0 408.2h1.1M435.0 408.4h1.1M442.3 410.7h1.1M439.2 414.3h1.1M438.1 410.8h1.1M447.8 411.7h1.1M445.6 408.7h1.1M443.4 413.9h1.1M438.9 413.0h1.1M444.2 422.1h1.1M436.7 411.0h1.1M444.1 410.2h1.1M442.6 410.6h1.1M447.6 422.5h1.1M448.5 414.6h1.1M448.8 406.1h1.1M435.0 407.4h1.1M444.1 417.3h1.1M438.1 406.7h1.1M447.7 410.9h1.1M452.5 416.5h1.1M446.2 408.9h1.1M448.2 410.6h1.1M449.0 405.4h1.1M441.0 415.4h1.1M450.2 419.5h1.1M446.6 412.1h1.1M447.1 417.9h1.1M449.2 416.6h1.1M458.2 419.6h1.1M434.7 405.3h1.1M446.5 414.0h1.1M449.8 413.7h1.1M446.3 407.0h1.1M457.5 414.7h1.1M453.3 412.6h1.1M450.7 417.9h1.1M437.7 407.6h1.1M443.8 417.8h1.1M449.5 414.5h1.1M449.8 406.8h1.1M445.0 425.9h1.1M450.0 408.7h1.1M435.4 406.8h1.1M448.5 416.8h1.1M440.7 419.6h1.1M438.8 426.8h1.1M443.2 416.0h1.1M459.5 410.6h1.1M449.8 420.0h1.1M457.8 416.3h1.1M448.9 405.6h1.1M448.0 417.8h1.1M457.8 420.7h1.1M450.3 414.6h1.1M442.5 423.4h1.1M455.3 417.4h1.1M451.0 406.2h1.1M444.3 412.1h1.1M448.1 419.3h1.1M447.1 413.5h1.1M454.4 409.9h1.1M452.2 412.3h1.1M447.8 419.8h1.1M449.7 417.8h1.1M453.6 420.5h1.1M450.7 409.3h1.1M442.9 421.0h1.1M444.3 410.0h1.1M447.6 416.1h1.1M454.2 409.3h1.1M450.9 413.6h1.1M455.2 408.1h1.1M439.0 406.7h1.1M447.1 419.8h1.1M447.8 419.6h1.1M448.6 403.5h1.1M448.7 417.0h1.1M444.1 418.6h1.1M437.8 407.1h1.1M445.1 421.0h1.1M444.0 413.3h1.1M457.6 411.7h1.1M451.4 403.9h1.1M453.2 407.0h1.1M443.9 416.2h1.1M436.4 412.5h1.1M444.6 414.1h1.1M440.5 412.3h1.1M452.4 419.7h1.1M455.8 409.8h1.1M455.2 417.5h1.1M451.7 418.7h1.1M444.8 402.7h1.1M442.6 415.6h1.1M445.3 422.0h1.1M452.7 414.1h1.1M449.5 412.8h1.1M440.4 403.3h1.1M455.9 411.8h1.1M453.2 409.6h1.1M453.2 414.7h1.1M454.2 411.1h1.1M454.0 408.1h1.1M434.4 408.7h1.1" stroke="#000" stroke-opacity="0.98" stroke-width="1.1" fill="none"/>
<path d="M423.8 381.4h1.1M420.7 381.9h1.1M422.2 382.3h1.1M423.4 377.8h1.1M426.0 381.5h1.1M419.2 379.6h1.1M423.4 376.5h1.1M423.2 380.6h1.1M422.4 379.4h1.1M426.1 379.7h1.1M421.3 377.4h1.1M418.0 383.3h1.1M421.4 381.4h1.1M424.9 381.2h1.1M423.5 381.1h1.1M426.2 384.4h1.1M425.2 379.8h1.1M417.5 380.6h1.1M418.0 380.9h1.1M426.6 379.7h1.1M422.7 378.7h1.1M418.4 383.6h1.1M420.4 380.0h1.1M421.7 381.4h1.1M425.1 384.2h1.1M426.5 380.7h1.1M419.5 376.6h1.1M425.1 381.9h1.1M423.4 380.7h1.1M425.7 381.5h1.1M446.8 412.4h1.1M448.7 408.8h1.1M443.6 410.2h1.1M447.3 411.9h1.1M448.5 418.3h1.1M445.3 413.7h1.1M445.6 409.6h1.1M446.3 414.3h1.1M450.3 410.6h1.1M451.7 403.5h1.1M445.6 413.3h1.1M446.0 413.1h1.1M446.2 411.5h1.1M445.4 408.8h1.1M451.0 411.1h1.1M450.2 409.0h1.1M445.9 407.1h1.1M443.9 409.8h1.1M444.4 411.8h1.1M446.3 409.8h1.1M445.8 413.3h1.1M445.8 409.6h1.1M441.0 410.0h1.1M445.4 411.9h1.1M443.6 411.8h1.1M448.3 413.9h1.1M444.5 410.5h1.1M447.1 414.1h1.1M448.2 414.8h1.1M448.1 410.5h1.1M448.8 411.1h1.1M446.8 412.6h1.1" stroke="#000" stroke-opacity="1" stroke-width="1.1" fill="none"/>
</g>
</g>
</svg>
<div class="hd" id="hA" style="left:283.5px;top:0px;">A</div>
<div class="hd" id="hB" style="left:439.5px;top:2px;">B</div>
<div class="lbl" id="l1" style="left:2.3px;top:97px;letter-spacing:0.17px;">thymectomized</div>
<div class="lbl" id="l2" style="left:94.3px;top:130.5px;letter-spacing:0.12px;">host</div>
<div class="lbl" id="l3" style="left:1.7px;top:230.5px;letter-spacing:0.09px;">thymus-bearing</div>
<div class="lbl" id="l4" style="left:83.5px;top:263px;word-spacing:-0.9px;">host 1</div>
<div class="lbl" id="l5" style="left:2.2px;top:363px;letter-spacing:0.09px;">thymus-bearing</div>
<div class="lbl" id="l6" style="left:84.1px;top:395.4px;word-spacing:-0.7px;">host 2</div>
</body></html>
